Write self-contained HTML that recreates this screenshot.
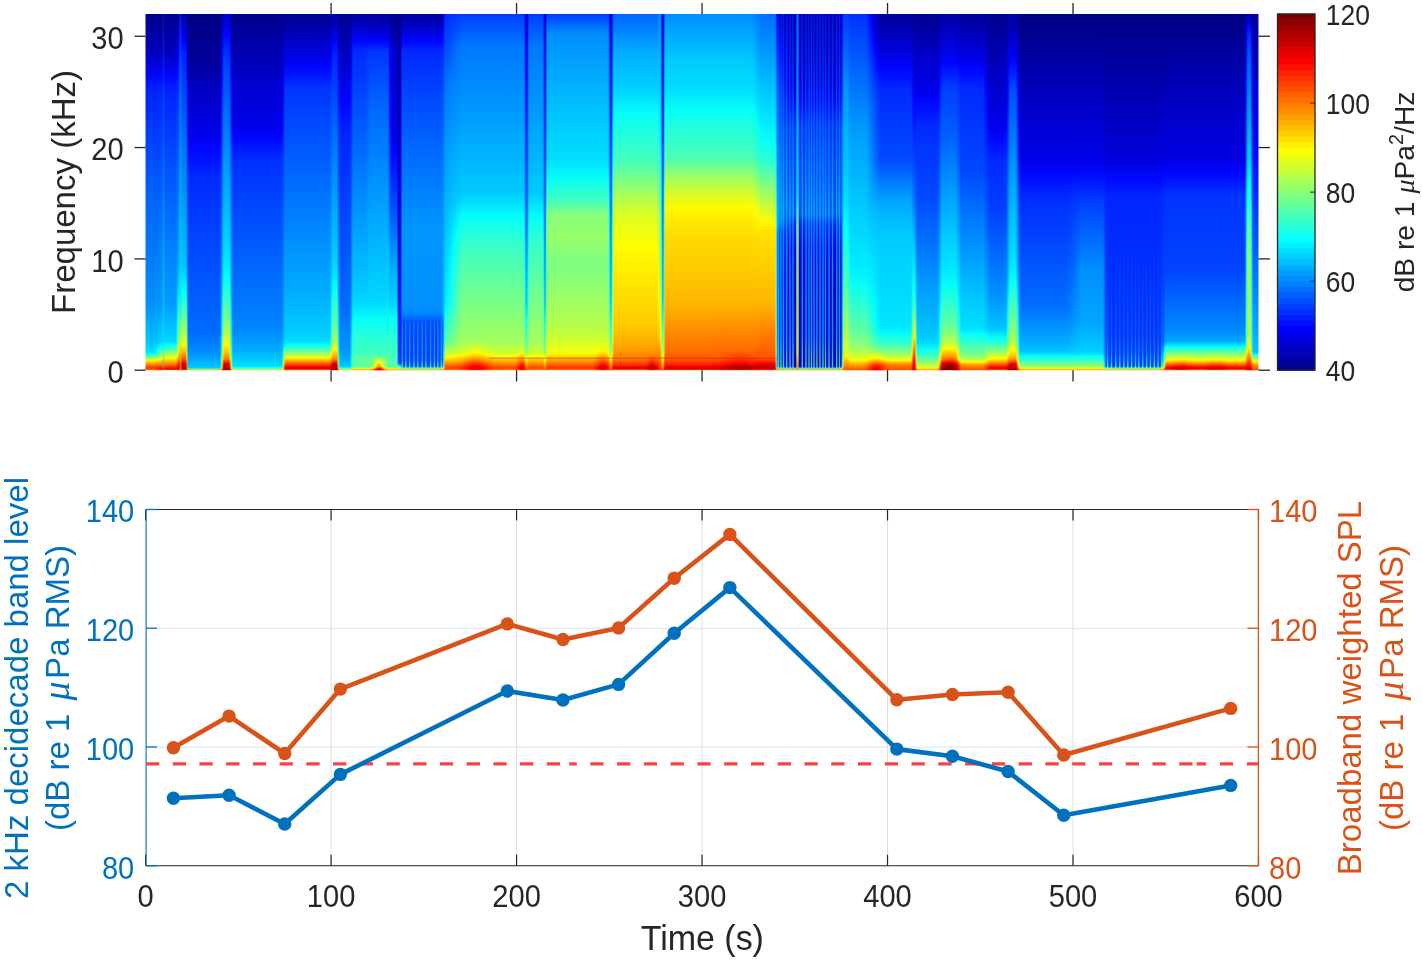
<!DOCTYPE html>
<html><head><meta charset="utf-8"><style>
html,body{margin:0;padding:0;background:#fff;}
body{width:1422px;height:960px;overflow:hidden;font-family:"Liberation Sans", sans-serif;}
svg{display:block;will-change:transform;}
</style></head><body>
<svg width="1422" height="960" viewBox="0 0 1422 960" font-family='"Liberation Sans", sans-serif'><defs><linearGradient id="g0" x1="0" y1="0" x2="0" y2="1"><stop offset="0.0000" stop-color="#00008c"/><stop offset="0.1096" stop-color="#0000be"/><stop offset="0.1770" stop-color="#0006ff"/><stop offset="0.2079" stop-color="#0020ff"/><stop offset="0.4860" stop-color="#0060ff"/><stop offset="0.8006" stop-color="#008cff"/><stop offset="0.9242" stop-color="#00c4ff"/><stop offset="0.9494" stop-color="#00e5ff"/><stop offset="0.9522" stop-color="#00fcff"/><stop offset="0.9635" stop-color="#6fff90"/><stop offset="0.9719" stop-color="#fcff03"/><stop offset="0.9916" stop-color="#ff4000"/><stop offset="0.9972" stop-color="#ff4100"/><stop offset="1.0000" stop-color="#ff8c00"/></linearGradient><linearGradient id="g1" x1="0" y1="0" x2="0" y2="1"><stop offset="0.0000" stop-color="#00008c"/><stop offset="0.1096" stop-color="#0000be"/><stop offset="0.1770" stop-color="#0006ff"/><stop offset="0.2079" stop-color="#0020ff"/><stop offset="0.5562" stop-color="#006aff"/><stop offset="0.8034" stop-color="#008fff"/><stop offset="0.9213" stop-color="#00c3ff"/><stop offset="0.9494" stop-color="#00f8ff"/><stop offset="0.9551" stop-color="#2affd5"/><stop offset="0.9635" stop-color="#7dff82"/><stop offset="0.9719" stop-color="#fffd00"/><stop offset="0.9916" stop-color="#ff3d00"/><stop offset="0.9972" stop-color="#ff3600"/><stop offset="1.0000" stop-color="#ff8c00"/></linearGradient><linearGradient id="g2" x1="0" y1="0" x2="0" y2="1"><stop offset="0.0000" stop-color="#00008c"/><stop offset="0.1096" stop-color="#0000be"/><stop offset="0.1770" stop-color="#0006ff"/><stop offset="0.2079" stop-color="#0020ff"/><stop offset="0.5590" stop-color="#006bff"/><stop offset="0.8062" stop-color="#0091ff"/><stop offset="0.9213" stop-color="#00c7ff"/><stop offset="0.9466" stop-color="#04fffb"/><stop offset="0.9494" stop-color="#0cfff3"/><stop offset="0.9635" stop-color="#8cff73"/><stop offset="0.9719" stop-color="#fff700"/><stop offset="0.9916" stop-color="#ff3a00"/><stop offset="0.9972" stop-color="#ff2b00"/><stop offset="1.0000" stop-color="#ff8c00"/></linearGradient><linearGradient id="g3" x1="0" y1="0" x2="0" y2="1"><stop offset="0.0000" stop-color="#00008c"/><stop offset="0.1096" stop-color="#0000be"/><stop offset="0.1770" stop-color="#0006ff"/><stop offset="0.2079" stop-color="#0020ff"/><stop offset="0.5618" stop-color="#006bff"/><stop offset="0.8062" stop-color="#0092ff"/><stop offset="0.9213" stop-color="#00cbff"/><stop offset="0.9410" stop-color="#01fffe"/><stop offset="0.9494" stop-color="#1fffe0"/><stop offset="0.9635" stop-color="#9bff64"/><stop offset="0.9691" stop-color="#e6ff19"/><stop offset="0.9719" stop-color="#fff200"/><stop offset="0.9916" stop-color="#ff3700"/><stop offset="0.9972" stop-color="#ff2000"/><stop offset="1.0000" stop-color="#ff8c00"/></linearGradient><linearGradient id="g4" x1="0" y1="0" x2="0" y2="1"><stop offset="0.0000" stop-color="#00008c"/><stop offset="0.1096" stop-color="#0000be"/><stop offset="0.1770" stop-color="#0006ff"/><stop offset="0.2079" stop-color="#0020ff"/><stop offset="0.5674" stop-color="#006cff"/><stop offset="0.8090" stop-color="#0095ff"/><stop offset="0.9213" stop-color="#00cfff"/><stop offset="0.9382" stop-color="#04fffb"/><stop offset="0.9494" stop-color="#32ffcd"/><stop offset="0.9635" stop-color="#aaff55"/><stop offset="0.9691" stop-color="#efff10"/><stop offset="0.9719" stop-color="#ffec00"/><stop offset="0.9944" stop-color="#ff1e00"/><stop offset="0.9972" stop-color="#ff1500"/><stop offset="1.0000" stop-color="#ff8c00"/></linearGradient><linearGradient id="g5" x1="0" y1="0" x2="0" y2="1"><stop offset="0.0000" stop-color="#00008c"/><stop offset="0.1096" stop-color="#0000be"/><stop offset="0.1770" stop-color="#0006ff"/><stop offset="0.2079" stop-color="#0020ff"/><stop offset="0.5730" stop-color="#006eff"/><stop offset="0.8118" stop-color="#0098ff"/><stop offset="0.9213" stop-color="#00d2ff"/><stop offset="0.9354" stop-color="#05fffa"/><stop offset="0.9494" stop-color="#45ffba"/><stop offset="0.9635" stop-color="#b9ff46"/><stop offset="0.9691" stop-color="#f7ff08"/><stop offset="0.9803" stop-color="#ff9d00"/><stop offset="0.9944" stop-color="#ff1700"/><stop offset="0.9972" stop-color="#ff0900"/><stop offset="1.0000" stop-color="#ff8c00"/></linearGradient><linearGradient id="g6" x1="0" y1="0" x2="0" y2="1"><stop offset="0.0000" stop-color="#00008c"/><stop offset="0.1096" stop-color="#0000be"/><stop offset="0.1770" stop-color="#0006ff"/><stop offset="0.2079" stop-color="#0020ff"/><stop offset="0.5787" stop-color="#006fff"/><stop offset="0.8146" stop-color="#009aff"/><stop offset="0.9213" stop-color="#00d6ff"/><stop offset="0.9326" stop-color="#04fffb"/><stop offset="0.9466" stop-color="#48ffb7"/><stop offset="0.9635" stop-color="#c8ff37"/><stop offset="0.9691" stop-color="#fffe00"/><stop offset="0.9916" stop-color="#ff2d00"/><stop offset="0.9944" stop-color="#ff0f00"/><stop offset="0.9972" stop-color="#fd0000"/><stop offset="1.0000" stop-color="#ff8c00"/></linearGradient><linearGradient id="g7" x1="0" y1="0" x2="0" y2="1"><stop offset="0.0000" stop-color="#00008c"/><stop offset="0.1096" stop-color="#0000be"/><stop offset="0.1770" stop-color="#0006ff"/><stop offset="0.2079" stop-color="#0020ff"/><stop offset="0.5815" stop-color="#0070ff"/><stop offset="0.8174" stop-color="#009dff"/><stop offset="0.9185" stop-color="#00d3ff"/><stop offset="0.9298" stop-color="#00ffff"/><stop offset="0.9438" stop-color="#46ffb9"/><stop offset="0.9635" stop-color="#d7ff28"/><stop offset="0.9691" stop-color="#fff600"/><stop offset="0.9888" stop-color="#ff4a00"/><stop offset="0.9944" stop-color="#ff0800"/><stop offset="0.9972" stop-color="#f20000"/><stop offset="1.0000" stop-color="#ff8c00"/></linearGradient><linearGradient id="g8" x1="0" y1="0" x2="0" y2="1"><stop offset="0.0000" stop-color="#00008c"/><stop offset="0.1096" stop-color="#0000be"/><stop offset="0.1770" stop-color="#0006ff"/><stop offset="0.2079" stop-color="#0020ff"/><stop offset="0.5562" stop-color="#006cff"/><stop offset="0.8146" stop-color="#009dff"/><stop offset="0.9185" stop-color="#00d6ff"/><stop offset="0.9298" stop-color="#08fff7"/><stop offset="0.9438" stop-color="#55ffaa"/><stop offset="0.9663" stop-color="#fbff04"/><stop offset="0.9860" stop-color="#ff6000"/><stop offset="0.9916" stop-color="#ff2700"/><stop offset="0.9944" stop-color="#ff0100"/><stop offset="0.9972" stop-color="#e70000"/><stop offset="1.0000" stop-color="#ff8c00"/></linearGradient><linearGradient id="g9" x1="0" y1="0" x2="0" y2="1"><stop offset="0.0000" stop-color="#000091"/><stop offset="0.1292" stop-color="#0000e8"/><stop offset="0.1629" stop-color="#0006ff"/><stop offset="0.2107" stop-color="#0029ff"/><stop offset="0.5702" stop-color="#007aff"/><stop offset="0.7360" stop-color="#009fff"/><stop offset="0.8202" stop-color="#00c7ff"/><stop offset="0.8961" stop-color="#05fffa"/><stop offset="0.9213" stop-color="#22ffdd"/><stop offset="0.9438" stop-color="#8dff72"/><stop offset="0.9607" stop-color="#fcff03"/><stop offset="0.9747" stop-color="#ff9a00"/><stop offset="0.9916" stop-color="#ff0f00"/><stop offset="0.9944" stop-color="#f20000"/><stop offset="0.9972" stop-color="#e20000"/><stop offset="1.0000" stop-color="#ff8200"/></linearGradient><linearGradient id="g10" x1="0" y1="0" x2="0" y2="1"><stop offset="0.0000" stop-color="#000096"/><stop offset="0.1348" stop-color="#0002ff"/><stop offset="0.2163" stop-color="#0034ff"/><stop offset="0.6096" stop-color="#008eff"/><stop offset="0.7191" stop-color="#00abff"/><stop offset="0.8146" stop-color="#00e7ff"/><stop offset="0.8455" stop-color="#08fff7"/><stop offset="0.9185" stop-color="#5effa1"/><stop offset="0.9438" stop-color="#c6ff39"/><stop offset="0.9551" stop-color="#fff900"/><stop offset="0.9719" stop-color="#ff8b00"/><stop offset="0.9860" stop-color="#ff1500"/><stop offset="0.9916" stop-color="#f70000"/><stop offset="0.9972" stop-color="#dc0000"/><stop offset="1.0000" stop-color="#ff7800"/></linearGradient><linearGradient id="g11" x1="0" y1="0" x2="0" y2="1"><stop offset="0.0000" stop-color="#00009b"/><stop offset="0.1011" stop-color="#0004ff"/><stop offset="0.2388" stop-color="#0044ff"/><stop offset="0.7107" stop-color="#00b7ff"/><stop offset="0.8090" stop-color="#06fff9"/><stop offset="0.9017" stop-color="#86ff79"/><stop offset="0.9213" stop-color="#a9ff56"/><stop offset="0.9438" stop-color="#feff01"/><stop offset="0.9607" stop-color="#ffab00"/><stop offset="0.9719" stop-color="#ff6500"/><stop offset="0.9831" stop-color="#ff0200"/><stop offset="0.9888" stop-color="#e80000"/><stop offset="0.9944" stop-color="#d60000"/><stop offset="0.9972" stop-color="#d70000"/><stop offset="1.0000" stop-color="#ff6e00"/></linearGradient><linearGradient id="g12" x1="0" y1="0" x2="0" y2="1"><stop offset="0.0000" stop-color="#0000a0"/><stop offset="0.0787" stop-color="#0003ff"/><stop offset="0.1096" stop-color="#0021ff"/><stop offset="0.3511" stop-color="#006eff"/><stop offset="0.7051" stop-color="#00c3ff"/><stop offset="0.7753" stop-color="#05fffa"/><stop offset="0.8146" stop-color="#32ffcd"/><stop offset="0.8961" stop-color="#b9ff46"/><stop offset="0.9242" stop-color="#f6ff09"/><stop offset="0.9326" stop-color="#ffed00"/><stop offset="0.9522" stop-color="#ffa900"/><stop offset="0.9691" stop-color="#ff5400"/><stop offset="0.9775" stop-color="#ff0c00"/><stop offset="0.9803" stop-color="#f20000"/><stop offset="0.9860" stop-color="#c80000"/><stop offset="0.9944" stop-color="#c80000"/><stop offset="0.9972" stop-color="#d20000"/><stop offset="1.0000" stop-color="#ff6400"/></linearGradient><linearGradient id="g13" x1="0" y1="0" x2="0" y2="1"><stop offset="0.0000" stop-color="#000096"/><stop offset="0.1096" stop-color="#0000f1"/><stop offset="0.1657" stop-color="#0009ff"/><stop offset="0.4888" stop-color="#006cff"/><stop offset="0.7135" stop-color="#00a1ff"/><stop offset="0.8146" stop-color="#00eaff"/><stop offset="0.8399" stop-color="#06fff9"/><stop offset="0.9017" stop-color="#53ffac"/><stop offset="0.9326" stop-color="#8bff74"/><stop offset="0.9551" stop-color="#caff35"/><stop offset="0.9691" stop-color="#ffff00"/><stop offset="0.9860" stop-color="#ff9b00"/><stop offset="0.9944" stop-color="#ff8f00"/><stop offset="0.9972" stop-color="#ff5600"/><stop offset="1.0000" stop-color="#ff7800"/></linearGradient><linearGradient id="g14" x1="0" y1="0" x2="0" y2="1"><stop offset="0.0000" stop-color="#000082"/><stop offset="0.1376" stop-color="#00009e"/><stop offset="0.2135" stop-color="#0000c4"/><stop offset="0.3315" stop-color="#0000e8"/><stop offset="0.3848" stop-color="#0008ff"/><stop offset="0.4607" stop-color="#002bff"/><stop offset="0.8961" stop-color="#006cff"/><stop offset="0.9466" stop-color="#008bff"/><stop offset="0.9916" stop-color="#00c5ff"/><stop offset="0.9944" stop-color="#00e2ff"/><stop offset="0.9972" stop-color="#a0ff5f"/><stop offset="1.0000" stop-color="#ffa000"/></linearGradient><linearGradient id="g15" x1="0" y1="0" x2="0" y2="1"><stop offset="0.0000" stop-color="#000082"/><stop offset="0.1376" stop-color="#00009e"/><stop offset="0.2135" stop-color="#0000c4"/><stop offset="0.3315" stop-color="#0000e8"/><stop offset="0.3848" stop-color="#0008ff"/><stop offset="0.4607" stop-color="#002bff"/><stop offset="0.8961" stop-color="#006cff"/><stop offset="0.9466" stop-color="#008bff"/><stop offset="0.9916" stop-color="#00c5ff"/><stop offset="0.9944" stop-color="#00e2ff"/><stop offset="0.9972" stop-color="#a0ff5f"/><stop offset="1.0000" stop-color="#ffa000"/></linearGradient><linearGradient id="g16" x1="0" y1="0" x2="0" y2="1"><stop offset="0.0000" stop-color="#00008e"/><stop offset="0.1489" stop-color="#0000bf"/><stop offset="0.2247" stop-color="#0000e0"/><stop offset="0.3399" stop-color="#0006ff"/><stop offset="0.4607" stop-color="#003fff"/><stop offset="0.8118" stop-color="#0081ff"/><stop offset="0.8961" stop-color="#00a3ff"/><stop offset="0.9494" stop-color="#00d5ff"/><stop offset="0.9719" stop-color="#00ffff"/><stop offset="0.9916" stop-color="#31ffce"/><stop offset="0.9944" stop-color="#4affb5"/><stop offset="0.9972" stop-color="#e9ff16"/><stop offset="1.0000" stop-color="#ff7600"/></linearGradient><linearGradient id="g17" x1="0" y1="0" x2="0" y2="1"><stop offset="0.0000" stop-color="#0000a5"/><stop offset="0.1208" stop-color="#0000e7"/><stop offset="0.1826" stop-color="#0007ff"/><stop offset="0.4129" stop-color="#0054ff"/><stop offset="0.7303" stop-color="#00a7ff"/><stop offset="0.8371" stop-color="#00e0ff"/><stop offset="0.8848" stop-color="#05fffa"/><stop offset="0.9466" stop-color="#5dffa2"/><stop offset="0.9691" stop-color="#96ff69"/><stop offset="0.9860" stop-color="#fbff04"/><stop offset="0.9916" stop-color="#fff800"/><stop offset="0.9944" stop-color="#ffe600"/><stop offset="1.0000" stop-color="#ff2100"/></linearGradient><linearGradient id="g18" x1="0" y1="0" x2="0" y2="1"><stop offset="0.0000" stop-color="#0000bc"/><stop offset="0.0787" stop-color="#0004ff"/><stop offset="0.1236" stop-color="#0020ff"/><stop offset="0.3006" stop-color="#005eff"/><stop offset="0.7135" stop-color="#00d5ff"/><stop offset="0.7865" stop-color="#07fff8"/><stop offset="0.8876" stop-color="#73ff8c"/><stop offset="0.9410" stop-color="#daff25"/><stop offset="0.9551" stop-color="#fffc00"/><stop offset="0.9691" stop-color="#ffca00"/><stop offset="0.9860" stop-color="#ff3000"/><stop offset="0.9944" stop-color="#ff1700"/><stop offset="0.9972" stop-color="#f00000"/><stop offset="1.0000" stop-color="#cb0000"/></linearGradient><linearGradient id="g19" x1="0" y1="0" x2="0" y2="1"><stop offset="0.0000" stop-color="#0000c8"/><stop offset="0.0590" stop-color="#0007ff"/><stop offset="0.1124" stop-color="#0037ff"/><stop offset="0.3202" stop-color="#007cff"/><stop offset="0.6489" stop-color="#00d7ff"/><stop offset="0.7163" stop-color="#00f3ff"/><stop offset="0.7472" stop-color="#0cfff3"/><stop offset="0.8146" stop-color="#47ffb8"/><stop offset="0.8876" stop-color="#a8ff57"/><stop offset="0.9298" stop-color="#fffc00"/><stop offset="0.9551" stop-color="#ffb400"/><stop offset="0.9691" stop-color="#ff7c00"/><stop offset="0.9803" stop-color="#fe0000"/><stop offset="0.9860" stop-color="#c50000"/><stop offset="1.0000" stop-color="#a00000"/></linearGradient><linearGradient id="g20" x1="0" y1="0" x2="0" y2="1"><stop offset="0.0000" stop-color="#0000be"/><stop offset="0.0758" stop-color="#0006ff"/><stop offset="0.1208" stop-color="#0025ff"/><stop offset="0.4494" stop-color="#008aff"/><stop offset="0.7163" stop-color="#00dbff"/><stop offset="0.7809" stop-color="#07fff8"/><stop offset="0.8624" stop-color="#57ffa8"/><stop offset="0.8989" stop-color="#8cff73"/><stop offset="0.9438" stop-color="#e7ff18"/><stop offset="0.9522" stop-color="#fdff02"/><stop offset="0.9691" stop-color="#ffc500"/><stop offset="0.9860" stop-color="#ff2b00"/><stop offset="0.9944" stop-color="#ff0600"/><stop offset="1.0000" stop-color="#e30000"/></linearGradient><linearGradient id="g21" x1="0" y1="0" x2="0" y2="1"><stop offset="0.0000" stop-color="#0000aa"/><stop offset="0.1180" stop-color="#0000f9"/><stop offset="0.3315" stop-color="#003cff"/><stop offset="0.4438" stop-color="#0067ff"/><stop offset="0.7275" stop-color="#00b0ff"/><stop offset="0.8287" stop-color="#00e7ff"/><stop offset="0.8708" stop-color="#08fff7"/><stop offset="0.9326" stop-color="#56ffa9"/><stop offset="0.9607" stop-color="#90ff6f"/><stop offset="0.9719" stop-color="#b4ff4b"/><stop offset="0.9831" stop-color="#fcff03"/><stop offset="0.9888" stop-color="#ffee00"/><stop offset="0.9916" stop-color="#ffd700"/><stop offset="1.0000" stop-color="#ff6a00"/></linearGradient><linearGradient id="g22" x1="0" y1="0" x2="0" y2="1"><stop offset="0.0000" stop-color="#000096"/><stop offset="0.1461" stop-color="#0000d7"/><stop offset="0.3146" stop-color="#0005ff"/><stop offset="0.4157" stop-color="#0040ff"/><stop offset="0.8090" stop-color="#0094ff"/><stop offset="0.9017" stop-color="#00c2ff"/><stop offset="0.9607" stop-color="#04fffb"/><stop offset="0.9775" stop-color="#2affd5"/><stop offset="0.9888" stop-color="#46ffb9"/><stop offset="0.9916" stop-color="#67ff98"/><stop offset="0.9972" stop-color="#d6ff29"/><stop offset="1.0000" stop-color="#fff000"/></linearGradient><linearGradient id="g23" x1="0" y1="0" x2="0" y2="1"><stop offset="0.0000" stop-color="#00008c"/><stop offset="0.2079" stop-color="#0000d3"/><stop offset="0.3090" stop-color="#0000e8"/><stop offset="0.3483" stop-color="#0006ff"/><stop offset="0.4129" stop-color="#0030ff"/><stop offset="0.8792" stop-color="#0084ff"/><stop offset="0.9466" stop-color="#00afff"/><stop offset="0.9888" stop-color="#00dfff"/><stop offset="0.9916" stop-color="#07fff8"/><stop offset="1.0000" stop-color="#caff35"/></linearGradient><linearGradient id="g24" x1="0" y1="0" x2="0" y2="1"><stop offset="0.0000" stop-color="#00008c"/><stop offset="0.2079" stop-color="#0000d3"/><stop offset="0.3090" stop-color="#0000e8"/><stop offset="0.3483" stop-color="#0006ff"/><stop offset="0.4129" stop-color="#0030ff"/><stop offset="0.8792" stop-color="#0084ff"/><stop offset="0.9466" stop-color="#00afff"/><stop offset="0.9888" stop-color="#00dfff"/><stop offset="0.9916" stop-color="#07fff8"/><stop offset="1.0000" stop-color="#caff35"/></linearGradient><linearGradient id="g25" x1="0" y1="0" x2="0" y2="1"><stop offset="0.0000" stop-color="#00008c"/><stop offset="0.2079" stop-color="#0000d3"/><stop offset="0.3090" stop-color="#0000e8"/><stop offset="0.3483" stop-color="#0006ff"/><stop offset="0.4129" stop-color="#0030ff"/><stop offset="0.8792" stop-color="#0084ff"/><stop offset="0.9466" stop-color="#00afff"/><stop offset="0.9888" stop-color="#00dfff"/><stop offset="0.9916" stop-color="#07fff8"/><stop offset="1.0000" stop-color="#caff35"/></linearGradient><linearGradient id="g26" x1="0" y1="0" x2="0" y2="1"><stop offset="0.0000" stop-color="#00008c"/><stop offset="0.2191" stop-color="#0000f5"/><stop offset="0.3090" stop-color="#0008ff"/><stop offset="0.4213" stop-color="#0041ff"/><stop offset="0.8848" stop-color="#009cff"/><stop offset="0.9242" stop-color="#00b7ff"/><stop offset="0.9522" stop-color="#00feff"/><stop offset="0.9831" stop-color="#76ff89"/><stop offset="0.9888" stop-color="#8eff71"/><stop offset="0.9916" stop-color="#b2ff4d"/><stop offset="0.9944" stop-color="#e7ff18"/><stop offset="0.9972" stop-color="#fcff03"/><stop offset="1.0000" stop-color="#fff500"/></linearGradient><linearGradient id="g27" x1="0" y1="0" x2="0" y2="1"><stop offset="0.0000" stop-color="#00008c"/><stop offset="0.1826" stop-color="#0006ff"/><stop offset="0.2360" stop-color="#0019ff"/><stop offset="0.3567" stop-color="#003aff"/><stop offset="0.6461" stop-color="#0081ff"/><stop offset="0.8848" stop-color="#00b1ff"/><stop offset="0.9213" stop-color="#00caff"/><stop offset="0.9382" stop-color="#04fffb"/><stop offset="0.9607" stop-color="#76ff89"/><stop offset="0.9803" stop-color="#fffe00"/><stop offset="0.9888" stop-color="#ffc200"/><stop offset="0.9944" stop-color="#ff7800"/><stop offset="0.9972" stop-color="#ff8e00"/><stop offset="1.0000" stop-color="#ffb600"/></linearGradient><linearGradient id="g28" x1="0" y1="0" x2="0" y2="1"><stop offset="0.0000" stop-color="#00008c"/><stop offset="0.1489" stop-color="#0004ff"/><stop offset="0.2079" stop-color="#0034ff"/><stop offset="0.7837" stop-color="#00adff"/><stop offset="0.8961" stop-color="#00cdff"/><stop offset="0.9213" stop-color="#00e2ff"/><stop offset="0.9270" stop-color="#00fcff"/><stop offset="0.9410" stop-color="#41ffbe"/><stop offset="0.9607" stop-color="#d2ff2d"/><stop offset="0.9635" stop-color="#f0ff0f"/><stop offset="0.9663" stop-color="#fff000"/><stop offset="0.9888" stop-color="#ff1400"/><stop offset="0.9916" stop-color="#f60000"/><stop offset="0.9944" stop-color="#d80000"/><stop offset="0.9972" stop-color="#ff1b00"/><stop offset="1.0000" stop-color="#ff7800"/></linearGradient><linearGradient id="g29" x1="0" y1="0" x2="0" y2="1"><stop offset="0.0000" stop-color="#00008c"/><stop offset="0.1489" stop-color="#0004ff"/><stop offset="0.2079" stop-color="#0034ff"/><stop offset="0.7837" stop-color="#00adff"/><stop offset="0.8961" stop-color="#00cdff"/><stop offset="0.9213" stop-color="#00e2ff"/><stop offset="0.9270" stop-color="#00fcff"/><stop offset="0.9410" stop-color="#41ffbe"/><stop offset="0.9607" stop-color="#d2ff2d"/><stop offset="0.9635" stop-color="#f0ff0f"/><stop offset="0.9663" stop-color="#fff000"/><stop offset="0.9888" stop-color="#ff1400"/><stop offset="0.9916" stop-color="#f60000"/><stop offset="0.9944" stop-color="#d80000"/><stop offset="0.9972" stop-color="#ff1b00"/><stop offset="1.0000" stop-color="#ff7800"/></linearGradient><linearGradient id="g30" x1="0" y1="0" x2="0" y2="1"><stop offset="0.0000" stop-color="#000093"/><stop offset="0.1264" stop-color="#0003ff"/><stop offset="0.2135" stop-color="#003cff"/><stop offset="0.7669" stop-color="#00c8ff"/><stop offset="0.8904" stop-color="#05fffa"/><stop offset="0.9213" stop-color="#2affd5"/><stop offset="0.9438" stop-color="#92ff6d"/><stop offset="0.9607" stop-color="#feff01"/><stop offset="0.9775" stop-color="#ff6000"/><stop offset="0.9860" stop-color="#ff0a00"/><stop offset="0.9916" stop-color="#dd0000"/><stop offset="0.9944" stop-color="#c70000"/><stop offset="0.9972" stop-color="#f10000"/><stop offset="1.0000" stop-color="#ff2d00"/></linearGradient><linearGradient id="g31" x1="0" y1="0" x2="0" y2="1"><stop offset="0.0000" stop-color="#000099"/><stop offset="0.0983" stop-color="#0005ff"/><stop offset="0.2219" stop-color="#0045ff"/><stop offset="0.7163" stop-color="#00caff"/><stop offset="0.8202" stop-color="#06fff9"/><stop offset="0.8876" stop-color="#3bffc4"/><stop offset="0.9213" stop-color="#70ff8f"/><stop offset="0.9494" stop-color="#eaff15"/><stop offset="0.9551" stop-color="#fff400"/><stop offset="0.9691" stop-color="#ff9900"/><stop offset="0.9831" stop-color="#fd0000"/><stop offset="0.9888" stop-color="#d40000"/><stop offset="0.9944" stop-color="#b60000"/><stop offset="1.0000" stop-color="#e10000"/></linearGradient><linearGradient id="g32" x1="0" y1="0" x2="0" y2="1"><stop offset="0.0000" stop-color="#0000a0"/><stop offset="0.0787" stop-color="#0003ff"/><stop offset="0.1096" stop-color="#0022ff"/><stop offset="0.3315" stop-color="#006cff"/><stop offset="0.7051" stop-color="#00d6ff"/><stop offset="0.7697" stop-color="#06fff9"/><stop offset="0.8848" stop-color="#70ff8f"/><stop offset="0.9213" stop-color="#b7ff48"/><stop offset="0.9410" stop-color="#fffe00"/><stop offset="0.9607" stop-color="#ffa700"/><stop offset="0.9691" stop-color="#ff7c00"/><stop offset="0.9803" stop-color="#f70000"/><stop offset="0.9860" stop-color="#bb0000"/><stop offset="1.0000" stop-color="#960000"/></linearGradient><linearGradient id="g33" x1="0" y1="0" x2="0" y2="1"><stop offset="0.0000" stop-color="#000098"/><stop offset="0.1124" stop-color="#0000fc"/><stop offset="0.3427" stop-color="#0051ff"/><stop offset="0.7219" stop-color="#00abff"/><stop offset="0.8455" stop-color="#00f1ff"/><stop offset="0.8792" stop-color="#0afff5"/><stop offset="0.9242" stop-color="#46ffb9"/><stop offset="0.9551" stop-color="#96ff69"/><stop offset="0.9691" stop-color="#c7ff38"/><stop offset="0.9775" stop-color="#fff900"/><stop offset="0.9860" stop-color="#ffbb00"/><stop offset="0.9888" stop-color="#ffb600"/><stop offset="0.9916" stop-color="#ff9f00"/><stop offset="1.0000" stop-color="#ff3600"/></linearGradient><linearGradient id="g34" x1="0" y1="0" x2="0" y2="1"><stop offset="0.0000" stop-color="#000090"/><stop offset="0.1545" stop-color="#0000e9"/><stop offset="0.2191" stop-color="#0008ff"/><stop offset="0.3287" stop-color="#0031ff"/><stop offset="0.7893" stop-color="#0086ff"/><stop offset="0.9185" stop-color="#00c6ff"/><stop offset="0.9551" stop-color="#00efff"/><stop offset="0.9663" stop-color="#07fff8"/><stop offset="0.9888" stop-color="#48ffb7"/><stop offset="0.9916" stop-color="#6dff92"/><stop offset="0.9972" stop-color="#eaff15"/><stop offset="1.0000" stop-color="#ffd500"/></linearGradient><linearGradient id="g35" x1="0" y1="0" x2="0" y2="1"><stop offset="0.0000" stop-color="#00008c"/><stop offset="0.2500" stop-color="#0006ff"/><stop offset="0.3287" stop-color="#0022ff"/><stop offset="0.8315" stop-color="#006eff"/><stop offset="0.9551" stop-color="#009cff"/><stop offset="0.9888" stop-color="#00c6ff"/><stop offset="0.9916" stop-color="#00f3ff"/><stop offset="0.9944" stop-color="#40ffbf"/><stop offset="1.0000" stop-color="#daff25"/></linearGradient><linearGradient id="g36" x1="0" y1="0" x2="0" y2="1"><stop offset="0.0000" stop-color="#00008f"/><stop offset="0.1152" stop-color="#0000e6"/><stop offset="0.1994" stop-color="#0008ff"/><stop offset="0.3455" stop-color="#0038ff"/><stop offset="0.8146" stop-color="#008fff"/><stop offset="0.9551" stop-color="#00d4ff"/><stop offset="0.9775" stop-color="#00f0ff"/><stop offset="0.9888" stop-color="#00f5ff"/><stop offset="0.9916" stop-color="#22ffdd"/><stop offset="0.9972" stop-color="#bcff43"/><stop offset="1.0000" stop-color="#fff500"/></linearGradient><linearGradient id="g37" x1="0" y1="0" x2="0" y2="1"><stop offset="0.0000" stop-color="#000093"/><stop offset="0.1011" stop-color="#0005ff"/><stop offset="0.5618" stop-color="#007eff"/><stop offset="0.8090" stop-color="#00b1ff"/><stop offset="0.9045" stop-color="#00f1ff"/><stop offset="0.9522" stop-color="#08fff7"/><stop offset="0.9719" stop-color="#29ffd6"/><stop offset="0.9888" stop-color="#25ffda"/><stop offset="0.9916" stop-color="#50ffaf"/><stop offset="0.9972" stop-color="#ebff14"/><stop offset="1.0000" stop-color="#ffc500"/></linearGradient><linearGradient id="g38" x1="0" y1="0" x2="0" y2="1"><stop offset="0.0000" stop-color="#000096"/><stop offset="0.0758" stop-color="#0005ff"/><stop offset="0.1039" stop-color="#0029ff"/><stop offset="0.3876" stop-color="#006bff"/><stop offset="0.7275" stop-color="#00bfff"/><stop offset="0.8090" stop-color="#00d6ff"/><stop offset="0.8567" stop-color="#05fffa"/><stop offset="0.9101" stop-color="#2bffd4"/><stop offset="0.9522" stop-color="#3fffc0"/><stop offset="0.9719" stop-color="#65ff9a"/><stop offset="0.9888" stop-color="#54ffab"/><stop offset="0.9916" stop-color="#7eff81"/><stop offset="0.9944" stop-color="#ccff33"/><stop offset="0.9972" stop-color="#ffe400"/><stop offset="1.0000" stop-color="#ff9600"/></linearGradient><linearGradient id="g39" x1="0" y1="0" x2="0" y2="1"><stop offset="0.0000" stop-color="#000096"/><stop offset="0.0758" stop-color="#0005ff"/><stop offset="0.1039" stop-color="#002dff"/><stop offset="0.7584" stop-color="#00c7ff"/><stop offset="0.8090" stop-color="#00d8ff"/><stop offset="0.8567" stop-color="#06fff9"/><stop offset="0.9129" stop-color="#2cffd3"/><stop offset="0.9522" stop-color="#3fffc0"/><stop offset="0.9719" stop-color="#65ff9a"/><stop offset="0.9888" stop-color="#54ffab"/><stop offset="0.9916" stop-color="#7eff81"/><stop offset="0.9944" stop-color="#ccff33"/><stop offset="0.9972" stop-color="#ffe400"/><stop offset="1.0000" stop-color="#ff9600"/></linearGradient><linearGradient id="g40" x1="0" y1="0" x2="0" y2="1"><stop offset="0.0000" stop-color="#000096"/><stop offset="0.0646" stop-color="#0000ef"/><stop offset="0.0787" stop-color="#0009ff"/><stop offset="0.1039" stop-color="#0031ff"/><stop offset="0.2669" stop-color="#0060ff"/><stop offset="0.8062" stop-color="#00d6ff"/><stop offset="0.8567" stop-color="#06fff9"/><stop offset="0.9185" stop-color="#2fffd0"/><stop offset="0.9522" stop-color="#3fffc0"/><stop offset="0.9719" stop-color="#66ff99"/><stop offset="0.9888" stop-color="#56ffa9"/><stop offset="0.9916" stop-color="#81ff7e"/><stop offset="0.9944" stop-color="#cfff30"/><stop offset="0.9972" stop-color="#ffe100"/><stop offset="1.0000" stop-color="#ff9300"/></linearGradient><linearGradient id="g41" x1="0" y1="0" x2="0" y2="1"><stop offset="0.0000" stop-color="#000096"/><stop offset="0.0590" stop-color="#0000e3"/><stop offset="0.0758" stop-color="#0004ff"/><stop offset="0.1039" stop-color="#0034ff"/><stop offset="0.2416" stop-color="#0062ff"/><stop offset="0.8062" stop-color="#00d8ff"/><stop offset="0.8567" stop-color="#06fff9"/><stop offset="0.9213" stop-color="#30ffcf"/><stop offset="0.9522" stop-color="#3fffc0"/><stop offset="0.9719" stop-color="#69ff96"/><stop offset="0.9888" stop-color="#5effa1"/><stop offset="0.9916" stop-color="#89ff76"/><stop offset="0.9944" stop-color="#d7ff28"/><stop offset="0.9972" stop-color="#ffd900"/><stop offset="1.0000" stop-color="#ff8b00"/></linearGradient><linearGradient id="g42" x1="0" y1="0" x2="0" y2="1"><stop offset="0.0000" stop-color="#000096"/><stop offset="0.0590" stop-color="#0000e3"/><stop offset="0.0758" stop-color="#0004ff"/><stop offset="0.1039" stop-color="#0034ff"/><stop offset="0.2416" stop-color="#0062ff"/><stop offset="0.8062" stop-color="#00d8ff"/><stop offset="0.8567" stop-color="#06fff9"/><stop offset="0.9213" stop-color="#30ffcf"/><stop offset="0.9522" stop-color="#3fffc0"/><stop offset="0.9719" stop-color="#6dff92"/><stop offset="0.9888" stop-color="#69ff96"/><stop offset="0.9916" stop-color="#94ff6b"/><stop offset="0.9944" stop-color="#e2ff1d"/><stop offset="0.9972" stop-color="#ffce00"/><stop offset="1.0000" stop-color="#ff8000"/></linearGradient><linearGradient id="g43" x1="0" y1="0" x2="0" y2="1"><stop offset="0.0000" stop-color="#000096"/><stop offset="0.0590" stop-color="#0000e3"/><stop offset="0.0758" stop-color="#0004ff"/><stop offset="0.1039" stop-color="#0034ff"/><stop offset="0.2416" stop-color="#0062ff"/><stop offset="0.8062" stop-color="#00d8ff"/><stop offset="0.8567" stop-color="#06fff9"/><stop offset="0.9213" stop-color="#30ffcf"/><stop offset="0.9522" stop-color="#3fffc0"/><stop offset="0.9719" stop-color="#74ff8b"/><stop offset="0.9888" stop-color="#7aff85"/><stop offset="0.9916" stop-color="#a6ff59"/><stop offset="0.9944" stop-color="#f4ff0b"/><stop offset="1.0000" stop-color="#ff6e00"/></linearGradient><linearGradient id="g44" x1="0" y1="0" x2="0" y2="1"><stop offset="0.0000" stop-color="#000096"/><stop offset="0.0590" stop-color="#0000e3"/><stop offset="0.0758" stop-color="#0004ff"/><stop offset="0.1039" stop-color="#0034ff"/><stop offset="0.2416" stop-color="#0062ff"/><stop offset="0.8062" stop-color="#00d8ff"/><stop offset="0.8567" stop-color="#06fff9"/><stop offset="0.9213" stop-color="#30ffcf"/><stop offset="0.9522" stop-color="#3fffc0"/><stop offset="0.9635" stop-color="#60ff9f"/><stop offset="0.9719" stop-color="#7fff80"/><stop offset="0.9888" stop-color="#93ff6c"/><stop offset="0.9916" stop-color="#c1ff3e"/><stop offset="0.9944" stop-color="#ffef00"/><stop offset="1.0000" stop-color="#ff5300"/></linearGradient><linearGradient id="g45" x1="0" y1="0" x2="0" y2="1"><stop offset="0.0000" stop-color="#000096"/><stop offset="0.0590" stop-color="#0000e3"/><stop offset="0.0758" stop-color="#0004ff"/><stop offset="0.1039" stop-color="#0034ff"/><stop offset="0.2416" stop-color="#0062ff"/><stop offset="0.8062" stop-color="#00d8ff"/><stop offset="0.8567" stop-color="#06fff9"/><stop offset="0.9213" stop-color="#30ffcf"/><stop offset="0.9522" stop-color="#3fffc0"/><stop offset="0.9607" stop-color="#54ffab"/><stop offset="0.9719" stop-color="#8eff71"/><stop offset="0.9888" stop-color="#b7ff48"/><stop offset="0.9916" stop-color="#e5ff1a"/><stop offset="0.9944" stop-color="#ffcb00"/><stop offset="1.0000" stop-color="#ff2f00"/></linearGradient><linearGradient id="g46" x1="0" y1="0" x2="0" y2="1"><stop offset="0.0000" stop-color="#000096"/><stop offset="0.0590" stop-color="#0000e3"/><stop offset="0.0758" stop-color="#0004ff"/><stop offset="0.1039" stop-color="#0034ff"/><stop offset="0.2416" stop-color="#0062ff"/><stop offset="0.8062" stop-color="#00d8ff"/><stop offset="0.8567" stop-color="#06fff9"/><stop offset="0.9213" stop-color="#30ffcf"/><stop offset="0.9522" stop-color="#3fffc0"/><stop offset="0.9607" stop-color="#55ffaa"/><stop offset="0.9719" stop-color="#9fff60"/><stop offset="0.9888" stop-color="#e2ff1d"/><stop offset="0.9916" stop-color="#ffec00"/><stop offset="1.0000" stop-color="#ff0200"/></linearGradient><linearGradient id="g47" x1="0" y1="0" x2="0" y2="1"><stop offset="0.0000" stop-color="#000096"/><stop offset="0.0590" stop-color="#0000e3"/><stop offset="0.0758" stop-color="#0004ff"/><stop offset="0.1039" stop-color="#0034ff"/><stop offset="0.2416" stop-color="#0062ff"/><stop offset="0.8062" stop-color="#00d8ff"/><stop offset="0.8567" stop-color="#06fff9"/><stop offset="0.9213" stop-color="#30ffcf"/><stop offset="0.9522" stop-color="#3fffc0"/><stop offset="0.9607" stop-color="#56ffa9"/><stop offset="0.9719" stop-color="#b2ff4d"/><stop offset="0.9860" stop-color="#fffe00"/><stop offset="0.9888" stop-color="#ffef00"/><stop offset="0.9916" stop-color="#ffbc00"/><stop offset="0.9972" stop-color="#ff2000"/><stop offset="1.0000" stop-color="#d10000"/></linearGradient><linearGradient id="g48" x1="0" y1="0" x2="0" y2="1"><stop offset="0.0000" stop-color="#000096"/><stop offset="0.0590" stop-color="#0000e3"/><stop offset="0.0758" stop-color="#0004ff"/><stop offset="0.1039" stop-color="#0034ff"/><stop offset="0.2416" stop-color="#0062ff"/><stop offset="0.8062" stop-color="#00d8ff"/><stop offset="0.8567" stop-color="#06fff9"/><stop offset="0.9213" stop-color="#30ffcf"/><stop offset="0.9522" stop-color="#3fffc0"/><stop offset="0.9607" stop-color="#57ffa8"/><stop offset="0.9719" stop-color="#c3ff3c"/><stop offset="0.9803" stop-color="#feff01"/><stop offset="0.9888" stop-color="#ffc500"/><stop offset="0.9916" stop-color="#ff9100"/><stop offset="0.9972" stop-color="#f40000"/><stop offset="1.0000" stop-color="#a60000"/></linearGradient><linearGradient id="g49" x1="0" y1="0" x2="0" y2="1"><stop offset="0.0000" stop-color="#000096"/><stop offset="0.0590" stop-color="#0000e3"/><stop offset="0.0758" stop-color="#0004ff"/><stop offset="0.1039" stop-color="#0034ff"/><stop offset="0.2416" stop-color="#0062ff"/><stop offset="0.8062" stop-color="#00d8ff"/><stop offset="0.8567" stop-color="#06fff9"/><stop offset="0.9213" stop-color="#30ffcf"/><stop offset="0.9522" stop-color="#3fffc0"/><stop offset="0.9607" stop-color="#58ffa7"/><stop offset="0.9719" stop-color="#d0ff2f"/><stop offset="0.9775" stop-color="#fcff03"/><stop offset="0.9888" stop-color="#ffa800"/><stop offset="0.9916" stop-color="#ff7200"/><stop offset="0.9944" stop-color="#ff2400"/><stop offset="0.9972" stop-color="#d50000"/><stop offset="1.0000" stop-color="#870000"/></linearGradient><linearGradient id="g50" x1="0" y1="0" x2="0" y2="1"><stop offset="0.0000" stop-color="#000096"/><stop offset="0.0590" stop-color="#0000e3"/><stop offset="0.0758" stop-color="#0004ff"/><stop offset="0.1039" stop-color="#0034ff"/><stop offset="0.2416" stop-color="#0062ff"/><stop offset="0.8062" stop-color="#00d8ff"/><stop offset="0.8567" stop-color="#06fff9"/><stop offset="0.9213" stop-color="#30ffcf"/><stop offset="0.9522" stop-color="#3fffc0"/><stop offset="0.9607" stop-color="#58ffa7"/><stop offset="0.9719" stop-color="#d4ff2b"/><stop offset="0.9775" stop-color="#fffb00"/><stop offset="0.9888" stop-color="#ff9d00"/><stop offset="0.9916" stop-color="#ff6700"/><stop offset="0.9944" stop-color="#ff1900"/><stop offset="0.9972" stop-color="#ca0000"/><stop offset="1.0000" stop-color="#800000"/></linearGradient><linearGradient id="g51" x1="0" y1="0" x2="0" y2="1"><stop offset="0.0000" stop-color="#000096"/><stop offset="0.0590" stop-color="#0000e3"/><stop offset="0.0758" stop-color="#0004ff"/><stop offset="0.1039" stop-color="#0034ff"/><stop offset="0.2416" stop-color="#0062ff"/><stop offset="0.8062" stop-color="#00d8ff"/><stop offset="0.8567" stop-color="#06fff9"/><stop offset="0.9213" stop-color="#30ffcf"/><stop offset="0.9522" stop-color="#3fffc0"/><stop offset="0.9607" stop-color="#58ffa7"/><stop offset="0.9719" stop-color="#d0ff2f"/><stop offset="0.9775" stop-color="#fcff03"/><stop offset="0.9888" stop-color="#ffa800"/><stop offset="0.9916" stop-color="#ff7200"/><stop offset="0.9944" stop-color="#ff2400"/><stop offset="0.9972" stop-color="#d50000"/><stop offset="1.0000" stop-color="#870000"/></linearGradient><linearGradient id="g52" x1="0" y1="0" x2="0" y2="1"><stop offset="0.0000" stop-color="#000096"/><stop offset="0.0590" stop-color="#0000e3"/><stop offset="0.0758" stop-color="#0004ff"/><stop offset="0.1039" stop-color="#0034ff"/><stop offset="0.2416" stop-color="#0062ff"/><stop offset="0.8062" stop-color="#00d8ff"/><stop offset="0.8567" stop-color="#06fff9"/><stop offset="0.9213" stop-color="#30ffcf"/><stop offset="0.9522" stop-color="#3fffc0"/><stop offset="0.9607" stop-color="#57ffa8"/><stop offset="0.9719" stop-color="#c3ff3c"/><stop offset="0.9803" stop-color="#feff01"/><stop offset="0.9888" stop-color="#ffc500"/><stop offset="0.9916" stop-color="#ff9100"/><stop offset="0.9972" stop-color="#f40000"/><stop offset="1.0000" stop-color="#a60000"/></linearGradient><linearGradient id="g53" x1="0" y1="0" x2="0" y2="1"><stop offset="0.0000" stop-color="#000096"/><stop offset="0.0590" stop-color="#0000e3"/><stop offset="0.0758" stop-color="#0004ff"/><stop offset="0.1039" stop-color="#0034ff"/><stop offset="0.2416" stop-color="#0062ff"/><stop offset="0.8062" stop-color="#00d8ff"/><stop offset="0.8567" stop-color="#06fff9"/><stop offset="0.9213" stop-color="#30ffcf"/><stop offset="0.9522" stop-color="#3fffc0"/><stop offset="0.9607" stop-color="#56ffa9"/><stop offset="0.9719" stop-color="#b2ff4d"/><stop offset="0.9860" stop-color="#fffe00"/><stop offset="0.9888" stop-color="#ffef00"/><stop offset="0.9916" stop-color="#ffbc00"/><stop offset="0.9972" stop-color="#ff2000"/><stop offset="1.0000" stop-color="#d10000"/></linearGradient><linearGradient id="g54" x1="0" y1="0" x2="0" y2="1"><stop offset="0.0000" stop-color="#000096"/><stop offset="0.0590" stop-color="#0000e3"/><stop offset="0.0758" stop-color="#0004ff"/><stop offset="0.1039" stop-color="#0034ff"/><stop offset="0.2416" stop-color="#0062ff"/><stop offset="0.8062" stop-color="#00d8ff"/><stop offset="0.8567" stop-color="#06fff9"/><stop offset="0.9213" stop-color="#30ffcf"/><stop offset="0.9522" stop-color="#3fffc0"/><stop offset="0.9607" stop-color="#55ffaa"/><stop offset="0.9719" stop-color="#9fff60"/><stop offset="0.9888" stop-color="#e2ff1d"/><stop offset="0.9916" stop-color="#ffec00"/><stop offset="1.0000" stop-color="#ff0200"/></linearGradient><linearGradient id="g55" x1="0" y1="0" x2="0" y2="1"><stop offset="0.0000" stop-color="#000096"/><stop offset="0.0590" stop-color="#0000e3"/><stop offset="0.0758" stop-color="#0004ff"/><stop offset="0.1039" stop-color="#0034ff"/><stop offset="0.2416" stop-color="#0062ff"/><stop offset="0.8062" stop-color="#00d8ff"/><stop offset="0.8567" stop-color="#06fff9"/><stop offset="0.9213" stop-color="#30ffcf"/><stop offset="0.9522" stop-color="#3fffc0"/><stop offset="0.9607" stop-color="#54ffab"/><stop offset="0.9719" stop-color="#8eff71"/><stop offset="0.9888" stop-color="#b7ff48"/><stop offset="0.9916" stop-color="#e5ff1a"/><stop offset="0.9944" stop-color="#ffcb00"/><stop offset="1.0000" stop-color="#ff2f00"/></linearGradient><linearGradient id="g56" x1="0" y1="0" x2="0" y2="1"><stop offset="0.0000" stop-color="#000096"/><stop offset="0.0590" stop-color="#0000e3"/><stop offset="0.0758" stop-color="#0004ff"/><stop offset="0.1039" stop-color="#0034ff"/><stop offset="0.2416" stop-color="#0062ff"/><stop offset="0.8062" stop-color="#00d8ff"/><stop offset="0.8567" stop-color="#06fff9"/><stop offset="0.9213" stop-color="#30ffcf"/><stop offset="0.9522" stop-color="#3fffc0"/><stop offset="0.9635" stop-color="#60ff9f"/><stop offset="0.9719" stop-color="#7fff80"/><stop offset="0.9888" stop-color="#93ff6c"/><stop offset="0.9916" stop-color="#c1ff3e"/><stop offset="0.9944" stop-color="#ffef00"/><stop offset="1.0000" stop-color="#ff5300"/></linearGradient><linearGradient id="g57" x1="0" y1="0" x2="0" y2="1"><stop offset="0.0000" stop-color="#000096"/><stop offset="0.0590" stop-color="#0000e3"/><stop offset="0.0758" stop-color="#0004ff"/><stop offset="0.1039" stop-color="#0034ff"/><stop offset="0.2416" stop-color="#0062ff"/><stop offset="0.8062" stop-color="#00d8ff"/><stop offset="0.8567" stop-color="#06fff9"/><stop offset="0.9213" stop-color="#30ffcf"/><stop offset="0.9522" stop-color="#3fffc0"/><stop offset="0.9719" stop-color="#74ff8b"/><stop offset="0.9888" stop-color="#7aff85"/><stop offset="0.9916" stop-color="#a6ff59"/><stop offset="0.9944" stop-color="#f4ff0b"/><stop offset="1.0000" stop-color="#ff6e00"/></linearGradient><linearGradient id="g58" x1="0" y1="0" x2="0" y2="1"><stop offset="0.0000" stop-color="#000096"/><stop offset="0.0590" stop-color="#0000e3"/><stop offset="0.0758" stop-color="#0004ff"/><stop offset="0.1039" stop-color="#0034ff"/><stop offset="0.2416" stop-color="#0062ff"/><stop offset="0.8062" stop-color="#00d8ff"/><stop offset="0.8567" stop-color="#06fff9"/><stop offset="0.9213" stop-color="#30ffcf"/><stop offset="0.9522" stop-color="#3fffc0"/><stop offset="0.9719" stop-color="#6dff92"/><stop offset="0.9888" stop-color="#69ff96"/><stop offset="0.9916" stop-color="#94ff6b"/><stop offset="0.9944" stop-color="#e2ff1d"/><stop offset="0.9972" stop-color="#ffce00"/><stop offset="1.0000" stop-color="#ff8000"/></linearGradient><linearGradient id="g59" x1="0" y1="0" x2="0" y2="1"><stop offset="0.0000" stop-color="#000096"/><stop offset="0.0590" stop-color="#0000e3"/><stop offset="0.0758" stop-color="#0004ff"/><stop offset="0.1039" stop-color="#0034ff"/><stop offset="0.2416" stop-color="#0062ff"/><stop offset="0.8062" stop-color="#00d8ff"/><stop offset="0.8567" stop-color="#06fff9"/><stop offset="0.9213" stop-color="#30ffcf"/><stop offset="0.9522" stop-color="#3fffc0"/><stop offset="0.9719" stop-color="#69ff96"/><stop offset="0.9888" stop-color="#5effa1"/><stop offset="0.9916" stop-color="#89ff76"/><stop offset="0.9944" stop-color="#d7ff28"/><stop offset="0.9972" stop-color="#ffd900"/><stop offset="1.0000" stop-color="#ff8b00"/></linearGradient><linearGradient id="g60" x1="0" y1="0" x2="0" y2="1"><stop offset="0.0000" stop-color="#000093"/><stop offset="0.0674" stop-color="#0000e2"/><stop offset="0.0899" stop-color="#0005ff"/><stop offset="0.1096" stop-color="#0017ff"/><stop offset="0.2893" stop-color="#003eff"/><stop offset="0.6320" stop-color="#00a1ff"/><stop offset="0.8090" stop-color="#00d7ff"/><stop offset="0.8567" stop-color="#05fffa"/><stop offset="0.9101" stop-color="#2affd5"/><stop offset="0.9551" stop-color="#42ffbd"/><stop offset="0.9719" stop-color="#5dffa2"/><stop offset="0.9888" stop-color="#58ffa7"/><stop offset="0.9916" stop-color="#83ff7c"/><stop offset="0.9944" stop-color="#d1ff2e"/><stop offset="0.9972" stop-color="#ffdf00"/><stop offset="1.0000" stop-color="#ff9100"/></linearGradient><linearGradient id="g61" x1="0" y1="0" x2="0" y2="1"><stop offset="0.0000" stop-color="#00008f"/><stop offset="0.1067" stop-color="#0000f6"/><stop offset="0.2697" stop-color="#000eff"/><stop offset="0.4747" stop-color="#004bff"/><stop offset="0.7360" stop-color="#00baff"/><stop offset="0.8090" stop-color="#00d4ff"/><stop offset="0.8567" stop-color="#05fffa"/><stop offset="0.9017" stop-color="#25ffda"/><stop offset="0.9579" stop-color="#43ffbc"/><stop offset="0.9803" stop-color="#52ffad"/><stop offset="0.9888" stop-color="#52ffad"/><stop offset="0.9916" stop-color="#7eff81"/><stop offset="0.9944" stop-color="#ccff33"/><stop offset="0.9972" stop-color="#ffe400"/><stop offset="1.0000" stop-color="#ff9600"/></linearGradient><linearGradient id="g62" x1="0" y1="0" x2="0" y2="1"><stop offset="0.0000" stop-color="#00008c"/><stop offset="0.1096" stop-color="#0000d7"/><stop offset="0.3174" stop-color="#0000e8"/><stop offset="0.3933" stop-color="#0007ff"/><stop offset="0.5393" stop-color="#004aff"/><stop offset="0.7219" stop-color="#00b1ff"/><stop offset="0.8090" stop-color="#00d1ff"/><stop offset="0.8596" stop-color="#06fff9"/><stop offset="0.8989" stop-color="#24ffdb"/><stop offset="0.9888" stop-color="#52ffad"/><stop offset="0.9916" stop-color="#7eff81"/><stop offset="0.9944" stop-color="#ccff33"/><stop offset="0.9972" stop-color="#ffe400"/><stop offset="1.0000" stop-color="#ff9600"/></linearGradient><linearGradient id="g63" x1="0" y1="0" x2="0" y2="1"><stop offset="0.0000" stop-color="#000085"/><stop offset="0.1348" stop-color="#0000ac"/><stop offset="0.3736" stop-color="#0000ce"/><stop offset="0.5787" stop-color="#0006ff"/><stop offset="0.8371" stop-color="#0057ff"/><stop offset="0.9775" stop-color="#0088ff"/><stop offset="0.9803" stop-color="#0090ff"/><stop offset="0.9860" stop-color="#00fcff"/><stop offset="0.9888" stop-color="#34ffcb"/><stop offset="0.9944" stop-color="#c8ff37"/><stop offset="0.9972" stop-color="#ffe600"/><stop offset="1.0000" stop-color="#ff9600"/></linearGradient><linearGradient id="g64" x1="0" y1="0" x2="0" y2="1"><stop offset="0.0000" stop-color="#000082"/><stop offset="0.6292" stop-color="#0000e2"/><stop offset="0.8146" stop-color="#0007ff"/><stop offset="0.9775" stop-color="#0028ff"/><stop offset="0.9803" stop-color="#0032ff"/><stop offset="0.9860" stop-color="#00d3ff"/><stop offset="0.9888" stop-color="#25ffda"/><stop offset="0.9944" stop-color="#c7ff38"/><stop offset="0.9972" stop-color="#ffe700"/><stop offset="1.0000" stop-color="#ff9600"/></linearGradient><linearGradient id="g65" x1="0" y1="0" x2="0" y2="1"><stop offset="0.0000" stop-color="#000089"/><stop offset="0.1152" stop-color="#0000c5"/><stop offset="0.4888" stop-color="#0006ff"/><stop offset="0.8427" stop-color="#0035ff"/><stop offset="0.8736" stop-color="#0023ff"/><stop offset="0.9775" stop-color="#0030ff"/><stop offset="0.9803" stop-color="#0038ff"/><stop offset="0.9888" stop-color="#00ddff"/><stop offset="0.9916" stop-color="#30ffcf"/><stop offset="0.9972" stop-color="#fffe00"/><stop offset="1.0000" stop-color="#ff9600"/></linearGradient><linearGradient id="g66" x1="0" y1="0" x2="0" y2="1"><stop offset="0.0000" stop-color="#000096"/><stop offset="0.0758" stop-color="#0005ff"/><stop offset="0.1039" stop-color="#0029ff"/><stop offset="0.3848" stop-color="#0069ff"/><stop offset="0.6011" stop-color="#0096ff"/><stop offset="0.8258" stop-color="#0090ff"/><stop offset="0.8427" stop-color="#0084ff"/><stop offset="0.8652" stop-color="#0046ff"/><stop offset="0.9579" stop-color="#0037ff"/><stop offset="0.9775" stop-color="#0040ff"/><stop offset="0.9888" stop-color="#004eff"/><stop offset="0.9916" stop-color="#00a4ff"/><stop offset="0.9944" stop-color="#3bffc4"/><stop offset="0.9972" stop-color="#d2ff2d"/><stop offset="1.0000" stop-color="#ff9600"/></linearGradient><linearGradient id="g67" x1="0" y1="0" x2="0" y2="1"><stop offset="0.0000" stop-color="#000096"/><stop offset="0.0758" stop-color="#0005ff"/><stop offset="0.1039" stop-color="#0029ff"/><stop offset="0.3848" stop-color="#0069ff"/><stop offset="0.6011" stop-color="#0096ff"/><stop offset="0.8258" stop-color="#0090ff"/><stop offset="0.8427" stop-color="#0084ff"/><stop offset="0.8652" stop-color="#0046ff"/><stop offset="0.9579" stop-color="#0037ff"/><stop offset="0.9775" stop-color="#0040ff"/><stop offset="0.9888" stop-color="#004eff"/><stop offset="0.9916" stop-color="#00a4ff"/><stop offset="0.9944" stop-color="#3bffc4"/><stop offset="0.9972" stop-color="#d2ff2d"/><stop offset="1.0000" stop-color="#ff9600"/></linearGradient><linearGradient id="g68" x1="0" y1="0" x2="0" y2="1"><stop offset="0.0000" stop-color="#0000b3"/><stop offset="0.0646" stop-color="#0004ff"/><stop offset="0.1067" stop-color="#0032ff"/><stop offset="0.5871" stop-color="#009bff"/><stop offset="0.8399" stop-color="#00a4ff"/><stop offset="0.8680" stop-color="#0071ff"/><stop offset="0.9298" stop-color="#0076ff"/><stop offset="0.9691" stop-color="#0098ff"/><stop offset="0.9888" stop-color="#00c5ff"/><stop offset="0.9916" stop-color="#0efff1"/><stop offset="0.9972" stop-color="#fbff04"/><stop offset="1.0000" stop-color="#ff9400"/></linearGradient><linearGradient id="g69" x1="0" y1="0" x2="0" y2="1"><stop offset="0.0000" stop-color="#0000ed"/><stop offset="0.0309" stop-color="#0007ff"/><stop offset="0.1124" stop-color="#0044ff"/><stop offset="0.2837" stop-color="#006fff"/><stop offset="0.6489" stop-color="#00b1ff"/><stop offset="0.8174" stop-color="#00c8ff"/><stop offset="0.8455" stop-color="#00d1ff"/><stop offset="0.8736" stop-color="#00caff"/><stop offset="0.9242" stop-color="#00e9ff"/><stop offset="0.9382" stop-color="#08fff7"/><stop offset="0.9635" stop-color="#44ffbb"/><stop offset="0.9888" stop-color="#b5ff4a"/><stop offset="0.9916" stop-color="#dfff20"/><stop offset="0.9944" stop-color="#ffda00"/><stop offset="1.0000" stop-color="#ff9000"/></linearGradient><linearGradient id="g70" x1="0" y1="0" x2="0" y2="1"><stop offset="0.0000" stop-color="#0029ff"/><stop offset="0.2275" stop-color="#007dff"/><stop offset="0.8062" stop-color="#00e6ff"/><stop offset="0.8399" stop-color="#08fff7"/><stop offset="0.9213" stop-color="#59ffa6"/><stop offset="0.9607" stop-color="#e4ff1b"/><stop offset="0.9635" stop-color="#f8ff07"/><stop offset="0.9775" stop-color="#ffa300"/><stop offset="0.9888" stop-color="#ff5b00"/><stop offset="0.9944" stop-color="#ff3f00"/><stop offset="0.9972" stop-color="#ff5f00"/><stop offset="1.0000" stop-color="#ff8c00"/></linearGradient><linearGradient id="g71" x1="0" y1="0" x2="0" y2="1"><stop offset="0.0000" stop-color="#002bff"/><stop offset="0.2219" stop-color="#007fff"/><stop offset="0.5787" stop-color="#00c3ff"/><stop offset="0.8090" stop-color="#00faff"/><stop offset="0.9213" stop-color="#63ff9c"/><stop offset="0.9607" stop-color="#e7ff18"/><stop offset="0.9635" stop-color="#faff05"/><stop offset="0.9888" stop-color="#ff5b00"/><stop offset="0.9944" stop-color="#ff3f00"/><stop offset="0.9972" stop-color="#ff5f00"/><stop offset="1.0000" stop-color="#ff8c00"/></linearGradient><linearGradient id="g72" x1="0" y1="0" x2="0" y2="1"><stop offset="0.0000" stop-color="#002dff"/><stop offset="0.1994" stop-color="#007eff"/><stop offset="0.5365" stop-color="#00bfff"/><stop offset="0.7753" stop-color="#02fcfd"/><stop offset="0.8118" stop-color="#0efff1"/><stop offset="0.9213" stop-color="#6cff93"/><stop offset="0.9579" stop-color="#deff21"/><stop offset="0.9635" stop-color="#fdff02"/><stop offset="0.9888" stop-color="#ff5b00"/><stop offset="0.9944" stop-color="#ff3f00"/><stop offset="0.9972" stop-color="#ff5f00"/><stop offset="1.0000" stop-color="#ff8c00"/></linearGradient><linearGradient id="g73" x1="0" y1="0" x2="0" y2="1"><stop offset="0.0000" stop-color="#0030ff"/><stop offset="0.1517" stop-color="#0072ff"/><stop offset="0.3230" stop-color="#0094ff"/><stop offset="0.5281" stop-color="#00c1ff"/><stop offset="0.6994" stop-color="#02fdfd"/><stop offset="0.8118" stop-color="#1effe1"/><stop offset="0.9213" stop-color="#75ff8a"/><stop offset="0.9551" stop-color="#d6ff29"/><stop offset="0.9635" stop-color="#fffe00"/><stop offset="0.9888" stop-color="#ff5a00"/><stop offset="0.9944" stop-color="#ff3e00"/><stop offset="0.9972" stop-color="#ff5d00"/><stop offset="1.0000" stop-color="#ff8a00"/></linearGradient><linearGradient id="g74" x1="0" y1="0" x2="0" y2="1"><stop offset="0.0000" stop-color="#0032ff"/><stop offset="0.1236" stop-color="#006eff"/><stop offset="0.2669" stop-color="#008dff"/><stop offset="0.5197" stop-color="#00c3ff"/><stop offset="0.6517" stop-color="#01fdfe"/><stop offset="0.8146" stop-color="#31ffce"/><stop offset="0.9213" stop-color="#7eff81"/><stop offset="0.9522" stop-color="#ceff31"/><stop offset="0.9635" stop-color="#fffa00"/><stop offset="0.9888" stop-color="#ff5800"/><stop offset="0.9944" stop-color="#ff3c00"/><stop offset="0.9972" stop-color="#ff5c00"/><stop offset="1.0000" stop-color="#ff8900"/></linearGradient><linearGradient id="g75" x1="0" y1="0" x2="0" y2="1"><stop offset="0.0000" stop-color="#0034ff"/><stop offset="0.1096" stop-color="#006eff"/><stop offset="0.2697" stop-color="#0090ff"/><stop offset="0.5140" stop-color="#00c5ff"/><stop offset="0.6236" stop-color="#02fefd"/><stop offset="0.8202" stop-color="#44ffbb"/><stop offset="0.9213" stop-color="#87ff78"/><stop offset="0.9522" stop-color="#d1ff2e"/><stop offset="0.9607" stop-color="#f7ff08"/><stop offset="0.9691" stop-color="#ffd600"/><stop offset="0.9888" stop-color="#ff5600"/><stop offset="0.9944" stop-color="#ff3a00"/><stop offset="0.9972" stop-color="#ff5a00"/><stop offset="1.0000" stop-color="#ff8600"/></linearGradient><linearGradient id="g76" x1="0" y1="0" x2="0" y2="1"><stop offset="0.0000" stop-color="#0037ff"/><stop offset="0.1011" stop-color="#0071ff"/><stop offset="0.2809" stop-color="#0094ff"/><stop offset="0.5112" stop-color="#00c8ff"/><stop offset="0.6039" stop-color="#06fff9"/><stop offset="0.7584" stop-color="#3effc1"/><stop offset="0.8483" stop-color="#63ff9c"/><stop offset="0.9242" stop-color="#96ff69"/><stop offset="0.9522" stop-color="#d5ff2a"/><stop offset="0.9607" stop-color="#fdff02"/><stop offset="0.9747" stop-color="#ffac00"/><stop offset="0.9888" stop-color="#ff5200"/><stop offset="0.9944" stop-color="#ff3600"/><stop offset="0.9972" stop-color="#ff5600"/><stop offset="1.0000" stop-color="#ff8200"/></linearGradient><linearGradient id="g77" x1="0" y1="0" x2="0" y2="1"><stop offset="0.0000" stop-color="#0039ff"/><stop offset="0.0955" stop-color="#0074ff"/><stop offset="0.2809" stop-color="#0096ff"/><stop offset="0.5084" stop-color="#00caff"/><stop offset="0.5871" stop-color="#06fff9"/><stop offset="0.7331" stop-color="#48ffb7"/><stop offset="0.8624" stop-color="#78ff87"/><stop offset="0.9242" stop-color="#9fff60"/><stop offset="0.9494" stop-color="#ceff31"/><stop offset="0.9607" stop-color="#fffa00"/><stop offset="0.9775" stop-color="#ff9400"/><stop offset="0.9916" stop-color="#ff3e00"/><stop offset="0.9944" stop-color="#ff3000"/><stop offset="0.9972" stop-color="#ff5000"/><stop offset="1.0000" stop-color="#ff7d00"/></linearGradient><linearGradient id="g78" x1="0" y1="0" x2="0" y2="1"><stop offset="0.0000" stop-color="#003bff"/><stop offset="0.0843" stop-color="#0074ff"/><stop offset="0.2640" stop-color="#0097ff"/><stop offset="0.5028" stop-color="#00c9ff"/><stop offset="0.5758" stop-color="#07fff8"/><stop offset="0.6938" stop-color="#4bffb4"/><stop offset="0.9045" stop-color="#98ff67"/><stop offset="0.9270" stop-color="#acff53"/><stop offset="0.9494" stop-color="#d3ff2c"/><stop offset="0.9579" stop-color="#fdff02"/><stop offset="0.9719" stop-color="#ffb400"/><stop offset="0.9888" stop-color="#ff4400"/><stop offset="0.9944" stop-color="#ff2700"/><stop offset="0.9972" stop-color="#ff4700"/><stop offset="1.0000" stop-color="#ff7400"/></linearGradient><linearGradient id="g79" x1="0" y1="0" x2="0" y2="1"><stop offset="0.0000" stop-color="#003cff"/><stop offset="0.0843" stop-color="#0075ff"/><stop offset="0.2669" stop-color="#0098ff"/><stop offset="0.5028" stop-color="#00caff"/><stop offset="0.5702" stop-color="#05fffa"/><stop offset="0.6517" stop-color="#39ffc6"/><stop offset="0.7584" stop-color="#64ff9b"/><stop offset="0.9213" stop-color="#a5ff5a"/><stop offset="0.9494" stop-color="#d8ff27"/><stop offset="0.9579" stop-color="#fffa00"/><stop offset="0.9747" stop-color="#ff9800"/><stop offset="0.9888" stop-color="#ff3900"/><stop offset="0.9944" stop-color="#ff1d00"/><stop offset="0.9972" stop-color="#ff3d00"/><stop offset="1.0000" stop-color="#ff6900"/></linearGradient><linearGradient id="g80" x1="0" y1="0" x2="0" y2="1"><stop offset="0.0000" stop-color="#003cff"/><stop offset="0.0843" stop-color="#0075ff"/><stop offset="0.2669" stop-color="#0098ff"/><stop offset="0.5028" stop-color="#00caff"/><stop offset="0.5702" stop-color="#05fffa"/><stop offset="0.6517" stop-color="#39ffc6"/><stop offset="0.7584" stop-color="#64ff9b"/><stop offset="0.9185" stop-color="#a2ff5d"/><stop offset="0.9494" stop-color="#deff21"/><stop offset="0.9551" stop-color="#fbff04"/><stop offset="0.9719" stop-color="#ffa200"/><stop offset="0.9888" stop-color="#ff2d00"/><stop offset="0.9944" stop-color="#ff1000"/><stop offset="0.9972" stop-color="#ff3000"/><stop offset="1.0000" stop-color="#ff5d00"/></linearGradient><linearGradient id="g81" x1="0" y1="0" x2="0" y2="1"><stop offset="0.0000" stop-color="#003cff"/><stop offset="0.0843" stop-color="#0075ff"/><stop offset="0.2669" stop-color="#0098ff"/><stop offset="0.5028" stop-color="#00caff"/><stop offset="0.5702" stop-color="#05fffa"/><stop offset="0.6517" stop-color="#39ffc6"/><stop offset="0.7584" stop-color="#64ff9b"/><stop offset="0.9185" stop-color="#a2ff5d"/><stop offset="0.9494" stop-color="#e4ff1b"/><stop offset="0.9551" stop-color="#fffc00"/><stop offset="0.9719" stop-color="#ff9700"/><stop offset="0.9888" stop-color="#ff1f00"/><stop offset="0.9944" stop-color="#fe0300"/><stop offset="0.9972" stop-color="#ff2100"/><stop offset="1.0000" stop-color="#ff4e00"/></linearGradient><linearGradient id="g82" x1="0" y1="0" x2="0" y2="1"><stop offset="0.0000" stop-color="#003cff"/><stop offset="0.0843" stop-color="#0075ff"/><stop offset="0.2669" stop-color="#0098ff"/><stop offset="0.5028" stop-color="#00caff"/><stop offset="0.5702" stop-color="#05fffa"/><stop offset="0.6517" stop-color="#39ffc6"/><stop offset="0.7584" stop-color="#64ff9b"/><stop offset="0.9185" stop-color="#a2ff5d"/><stop offset="0.9494" stop-color="#eaff15"/><stop offset="0.9551" stop-color="#fff500"/><stop offset="0.9719" stop-color="#ff8d00"/><stop offset="0.9888" stop-color="#ff1100"/><stop offset="0.9944" stop-color="#f20000"/><stop offset="0.9972" stop-color="#ff1300"/><stop offset="1.0000" stop-color="#ff4000"/></linearGradient><linearGradient id="g83" x1="0" y1="0" x2="0" y2="1"><stop offset="0.0000" stop-color="#003cff"/><stop offset="0.0843" stop-color="#0075ff"/><stop offset="0.2669" stop-color="#0098ff"/><stop offset="0.5028" stop-color="#00caff"/><stop offset="0.5702" stop-color="#05fffa"/><stop offset="0.6517" stop-color="#39ffc6"/><stop offset="0.7584" stop-color="#64ff9b"/><stop offset="0.9185" stop-color="#a2ff5d"/><stop offset="0.9494" stop-color="#efff10"/><stop offset="0.9522" stop-color="#feff01"/><stop offset="0.9719" stop-color="#ff8400"/><stop offset="0.9888" stop-color="#ff0400"/><stop offset="0.9944" stop-color="#e60000"/><stop offset="0.9972" stop-color="#ff0700"/><stop offset="1.0000" stop-color="#ff3300"/></linearGradient><linearGradient id="g84" x1="0" y1="0" x2="0" y2="1"><stop offset="0.0000" stop-color="#003cff"/><stop offset="0.0843" stop-color="#0075ff"/><stop offset="0.2669" stop-color="#0098ff"/><stop offset="0.5028" stop-color="#00caff"/><stop offset="0.5702" stop-color="#05fffa"/><stop offset="0.6517" stop-color="#39ffc6"/><stop offset="0.7584" stop-color="#64ff9b"/><stop offset="0.9185" stop-color="#a2ff5d"/><stop offset="0.9522" stop-color="#fffb00"/><stop offset="0.9719" stop-color="#ff7c00"/><stop offset="0.9860" stop-color="#ff0d00"/><stop offset="0.9888" stop-color="#fa0000"/><stop offset="0.9944" stop-color="#dc0000"/><stop offset="0.9972" stop-color="#fb0000"/><stop offset="1.0000" stop-color="#ff2a00"/></linearGradient><linearGradient id="g85" x1="0" y1="0" x2="0" y2="1"><stop offset="0.0000" stop-color="#003cff"/><stop offset="0.0843" stop-color="#0075ff"/><stop offset="0.2669" stop-color="#0098ff"/><stop offset="0.5028" stop-color="#00caff"/><stop offset="0.5702" stop-color="#05fffa"/><stop offset="0.6517" stop-color="#39ffc6"/><stop offset="0.7584" stop-color="#64ff9b"/><stop offset="0.9185" stop-color="#a2ff5d"/><stop offset="0.9494" stop-color="#ecff13"/><stop offset="0.9522" stop-color="#fbff04"/><stop offset="0.9719" stop-color="#ff8800"/><stop offset="0.9888" stop-color="#ff0a00"/><stop offset="0.9944" stop-color="#ec0000"/><stop offset="0.9972" stop-color="#ff0c00"/><stop offset="1.0000" stop-color="#ff3900"/></linearGradient><linearGradient id="g86" x1="0" y1="0" x2="0" y2="1"><stop offset="0.0000" stop-color="#003cff"/><stop offset="0.0843" stop-color="#0075ff"/><stop offset="0.2669" stop-color="#0098ff"/><stop offset="0.5028" stop-color="#00caff"/><stop offset="0.5702" stop-color="#05fffa"/><stop offset="0.6517" stop-color="#39ffc6"/><stop offset="0.7584" stop-color="#64ff9b"/><stop offset="0.9185" stop-color="#a2ff5d"/><stop offset="0.9494" stop-color="#e7ff18"/><stop offset="0.9551" stop-color="#fff800"/><stop offset="0.9719" stop-color="#ff9200"/><stop offset="0.9888" stop-color="#ff1700"/><stop offset="0.9944" stop-color="#f90000"/><stop offset="0.9972" stop-color="#ff1a00"/><stop offset="1.0000" stop-color="#ff4700"/></linearGradient><linearGradient id="g87" x1="0" y1="0" x2="0" y2="1"><stop offset="0.0000" stop-color="#003cff"/><stop offset="0.0843" stop-color="#0075ff"/><stop offset="0.2669" stop-color="#0098ff"/><stop offset="0.5028" stop-color="#00caff"/><stop offset="0.5702" stop-color="#05fffa"/><stop offset="0.6517" stop-color="#39ffc6"/><stop offset="0.7584" stop-color="#64ff9b"/><stop offset="0.9185" stop-color="#a2ff5d"/><stop offset="0.9494" stop-color="#e1ff1e"/><stop offset="0.9551" stop-color="#fefe01"/><stop offset="0.9719" stop-color="#ff9d00"/><stop offset="0.9888" stop-color="#ff2600"/><stop offset="0.9944" stop-color="#ff0900"/><stop offset="0.9972" stop-color="#ff2900"/><stop offset="1.0000" stop-color="#ff5500"/></linearGradient><linearGradient id="g88" x1="0" y1="0" x2="0" y2="1"><stop offset="0.0000" stop-color="#003cff"/><stop offset="0.0843" stop-color="#0075ff"/><stop offset="0.2669" stop-color="#0098ff"/><stop offset="0.5028" stop-color="#00caff"/><stop offset="0.5702" stop-color="#05fffa"/><stop offset="0.6517" stop-color="#39ffc6"/><stop offset="0.7584" stop-color="#64ff9b"/><stop offset="0.9185" stop-color="#a2ff5d"/><stop offset="0.9494" stop-color="#dbff24"/><stop offset="0.9579" stop-color="#fff700"/><stop offset="0.9747" stop-color="#ff9300"/><stop offset="0.9888" stop-color="#ff3300"/><stop offset="0.9944" stop-color="#ff1600"/><stop offset="0.9972" stop-color="#ff3600"/><stop offset="1.0000" stop-color="#ff6300"/></linearGradient><linearGradient id="g89" x1="0" y1="0" x2="0" y2="1"><stop offset="0.0000" stop-color="#003cff"/><stop offset="0.0843" stop-color="#0075ff"/><stop offset="0.2669" stop-color="#0098ff"/><stop offset="0.5028" stop-color="#00caff"/><stop offset="0.5702" stop-color="#05fffa"/><stop offset="0.6517" stop-color="#39ffc6"/><stop offset="0.7584" stop-color="#64ff9b"/><stop offset="0.9213" stop-color="#a5ff5a"/><stop offset="0.9494" stop-color="#d6ff29"/><stop offset="0.9579" stop-color="#fffe00"/><stop offset="0.9747" stop-color="#ff9c00"/><stop offset="0.9888" stop-color="#ff3f00"/><stop offset="0.9944" stop-color="#ff2200"/><stop offset="0.9972" stop-color="#ff4200"/><stop offset="1.0000" stop-color="#ff6f00"/></linearGradient><linearGradient id="g90" x1="0" y1="0" x2="0" y2="1"><stop offset="0.0000" stop-color="#003cff"/><stop offset="0.0843" stop-color="#0075ff"/><stop offset="0.2669" stop-color="#0098ff"/><stop offset="0.5028" stop-color="#00caff"/><stop offset="0.5702" stop-color="#05fffa"/><stop offset="0.6517" stop-color="#39ffc6"/><stop offset="0.7584" stop-color="#64ff9b"/><stop offset="0.9213" stop-color="#a5ff5a"/><stop offset="0.9494" stop-color="#d1ff2e"/><stop offset="0.9579" stop-color="#faff05"/><stop offset="0.9719" stop-color="#ffb800"/><stop offset="0.9888" stop-color="#ff4a00"/><stop offset="0.9944" stop-color="#ff2e00"/><stop offset="0.9972" stop-color="#ff4e00"/><stop offset="1.0000" stop-color="#ff7b00"/></linearGradient><linearGradient id="g91" x1="0" y1="0" x2="0" y2="1"><stop offset="0.0000" stop-color="#003cff"/><stop offset="0.0843" stop-color="#0075ff"/><stop offset="0.2669" stop-color="#0098ff"/><stop offset="0.5028" stop-color="#00caff"/><stop offset="0.5702" stop-color="#05fffa"/><stop offset="0.6517" stop-color="#39ffc6"/><stop offset="0.7584" stop-color="#64ff9b"/><stop offset="0.9213" stop-color="#a4ff5b"/><stop offset="0.9494" stop-color="#ccff33"/><stop offset="0.9607" stop-color="#fffd00"/><stop offset="0.9747" stop-color="#ffaf00"/><stop offset="0.9916" stop-color="#ff4800"/><stop offset="0.9944" stop-color="#ff3a00"/><stop offset="0.9972" stop-color="#ff5a00"/><stop offset="1.0000" stop-color="#ff8700"/></linearGradient><linearGradient id="g92" x1="0" y1="0" x2="0" y2="1"><stop offset="0.0000" stop-color="#003cff"/><stop offset="0.0843" stop-color="#0075ff"/><stop offset="0.2669" stop-color="#0098ff"/><stop offset="0.5028" stop-color="#00caff"/><stop offset="0.5702" stop-color="#05fffa"/><stop offset="0.6517" stop-color="#39ffc6"/><stop offset="0.7584" stop-color="#64ff9b"/><stop offset="0.9213" stop-color="#a4ff5b"/><stop offset="0.9494" stop-color="#caff35"/><stop offset="0.9607" stop-color="#ffff00"/><stop offset="0.9747" stop-color="#ffb200"/><stop offset="0.9916" stop-color="#ff4d00"/><stop offset="0.9944" stop-color="#ff3f00"/><stop offset="0.9972" stop-color="#ff5f00"/><stop offset="1.0000" stop-color="#ff8c00"/></linearGradient><linearGradient id="g93" x1="0" y1="0" x2="0" y2="1"><stop offset="0.0000" stop-color="#003cff"/><stop offset="0.0843" stop-color="#0075ff"/><stop offset="0.2669" stop-color="#0098ff"/><stop offset="0.5028" stop-color="#00caff"/><stop offset="0.5702" stop-color="#05fffa"/><stop offset="0.6517" stop-color="#39ffc6"/><stop offset="0.7584" stop-color="#64ff9b"/><stop offset="0.9213" stop-color="#a4ff5b"/><stop offset="0.9494" stop-color="#cdff32"/><stop offset="0.9607" stop-color="#fffa00"/><stop offset="0.9747" stop-color="#ffab00"/><stop offset="0.9916" stop-color="#ff4200"/><stop offset="0.9944" stop-color="#ff3400"/><stop offset="0.9972" stop-color="#ff5400"/><stop offset="1.0000" stop-color="#ff8100"/></linearGradient><linearGradient id="g94" x1="0" y1="0" x2="0" y2="1"><stop offset="0.0000" stop-color="#003cff"/><stop offset="0.0843" stop-color="#0075ff"/><stop offset="0.2669" stop-color="#0098ff"/><stop offset="0.5028" stop-color="#00caff"/><stop offset="0.5702" stop-color="#05fffa"/><stop offset="0.6517" stop-color="#39ffc6"/><stop offset="0.7584" stop-color="#64ff9b"/><stop offset="0.9213" stop-color="#a4ff5b"/><stop offset="0.9494" stop-color="#d1ff2e"/><stop offset="0.9579" stop-color="#fbff04"/><stop offset="0.9719" stop-color="#ffb600"/><stop offset="0.9888" stop-color="#ff4600"/><stop offset="0.9944" stop-color="#ff2a00"/><stop offset="0.9972" stop-color="#ff4a00"/><stop offset="1.0000" stop-color="#ff7700"/></linearGradient><linearGradient id="g95" x1="0" y1="0" x2="0" y2="1"><stop offset="0.0000" stop-color="#003cff"/><stop offset="0.0843" stop-color="#0075ff"/><stop offset="0.2669" stop-color="#0098ff"/><stop offset="0.5028" stop-color="#00caff"/><stop offset="0.5702" stop-color="#05fffa"/><stop offset="0.6517" stop-color="#39ffc6"/><stop offset="0.7584" stop-color="#64ff9b"/><stop offset="0.9213" stop-color="#a4ff5b"/><stop offset="0.9494" stop-color="#d6ff29"/><stop offset="0.9579" stop-color="#fffc00"/><stop offset="0.9747" stop-color="#ff9700"/><stop offset="0.9888" stop-color="#ff3600"/><stop offset="0.9944" stop-color="#ff1a00"/><stop offset="0.9972" stop-color="#ff3a00"/><stop offset="1.0000" stop-color="#ff6600"/></linearGradient><linearGradient id="g96" x1="0" y1="0" x2="0" y2="1"><stop offset="0.0000" stop-color="#003cff"/><stop offset="0.0843" stop-color="#0075ff"/><stop offset="0.2669" stop-color="#0098ff"/><stop offset="0.5028" stop-color="#00caff"/><stop offset="0.5702" stop-color="#05fffa"/><stop offset="0.6517" stop-color="#39ffc6"/><stop offset="0.7584" stop-color="#64ff9b"/><stop offset="0.9213" stop-color="#a4ff5b"/><stop offset="0.9494" stop-color="#ddff22"/><stop offset="0.9551" stop-color="#fbff04"/><stop offset="0.9719" stop-color="#ff9d00"/><stop offset="0.9888" stop-color="#ff2200"/><stop offset="0.9944" stop-color="#ff0500"/><stop offset="0.9972" stop-color="#ff2500"/><stop offset="1.0000" stop-color="#ff5200"/></linearGradient><linearGradient id="g97" x1="0" y1="0" x2="0" y2="1"><stop offset="0.0000" stop-color="#003cff"/><stop offset="0.0843" stop-color="#0075ff"/><stop offset="0.2669" stop-color="#0098ff"/><stop offset="0.5028" stop-color="#00caff"/><stop offset="0.5702" stop-color="#05fffa"/><stop offset="0.6517" stop-color="#39ffc6"/><stop offset="0.7584" stop-color="#64ff9b"/><stop offset="0.9213" stop-color="#a4ff5b"/><stop offset="0.9382" stop-color="#c6ff39"/><stop offset="0.9494" stop-color="#e3ff1c"/><stop offset="0.9551" stop-color="#fffa00"/><stop offset="0.9719" stop-color="#ff8e00"/><stop offset="0.9888" stop-color="#ff0d00"/><stop offset="0.9916" stop-color="#fd0000"/><stop offset="0.9944" stop-color="#ef0000"/><stop offset="0.9972" stop-color="#ff1000"/><stop offset="1.0000" stop-color="#ff3d00"/></linearGradient><linearGradient id="g98" x1="0" y1="0" x2="0" y2="1"><stop offset="0.0000" stop-color="#003cff"/><stop offset="0.0843" stop-color="#0075ff"/><stop offset="0.2669" stop-color="#0098ff"/><stop offset="0.5028" stop-color="#00caff"/><stop offset="0.5702" stop-color="#05fffa"/><stop offset="0.6517" stop-color="#39ffc6"/><stop offset="0.7584" stop-color="#64ff9b"/><stop offset="0.9213" stop-color="#a4ff5b"/><stop offset="0.9354" stop-color="#c0ff3f"/><stop offset="0.9494" stop-color="#e9ff16"/><stop offset="0.9522" stop-color="#faff05"/><stop offset="0.9719" stop-color="#ff8100"/><stop offset="0.9860" stop-color="#ff0e00"/><stop offset="0.9888" stop-color="#fa0000"/><stop offset="0.9944" stop-color="#dc0000"/><stop offset="0.9972" stop-color="#fc0000"/><stop offset="1.0000" stop-color="#ff2a00"/></linearGradient><linearGradient id="g99" x1="0" y1="0" x2="0" y2="1"><stop offset="0.0000" stop-color="#003cff"/><stop offset="0.0843" stop-color="#0075ff"/><stop offset="0.2669" stop-color="#0098ff"/><stop offset="0.5028" stop-color="#00caff"/><stop offset="0.5702" stop-color="#05fffa"/><stop offset="0.6517" stop-color="#39ffc6"/><stop offset="0.7584" stop-color="#64ff9b"/><stop offset="0.9213" stop-color="#a4ff5b"/><stop offset="0.9382" stop-color="#c6ff39"/><stop offset="0.9494" stop-color="#e3ff1c"/><stop offset="0.9551" stop-color="#fffa00"/><stop offset="0.9719" stop-color="#ff8e00"/><stop offset="0.9888" stop-color="#ff0d00"/><stop offset="0.9916" stop-color="#fd0000"/><stop offset="0.9944" stop-color="#ef0000"/><stop offset="0.9972" stop-color="#ff1000"/><stop offset="1.0000" stop-color="#ff3d00"/></linearGradient><linearGradient id="g100" x1="0" y1="0" x2="0" y2="1"><stop offset="0.0000" stop-color="#0006ff"/><stop offset="0.1124" stop-color="#003aff"/><stop offset="0.5056" stop-color="#0090ff"/><stop offset="0.6461" stop-color="#00e1ff"/><stop offset="0.7331" stop-color="#05fffa"/><stop offset="0.8146" stop-color="#25ffda"/><stop offset="0.9298" stop-color="#87ff78"/><stop offset="0.9494" stop-color="#b5ff4a"/><stop offset="0.9607" stop-color="#faff05"/><stop offset="0.9747" stop-color="#ffa600"/><stop offset="0.9916" stop-color="#ff3100"/><stop offset="0.9944" stop-color="#ff2200"/><stop offset="1.0000" stop-color="#ff4200"/></linearGradient><linearGradient id="g101" x1="0" y1="0" x2="0" y2="1"><stop offset="0.0000" stop-color="#0000cf"/><stop offset="0.1770" stop-color="#0003ff"/><stop offset="0.5309" stop-color="#005dff"/><stop offset="0.8062" stop-color="#00c9ff"/><stop offset="0.8567" stop-color="#06fff9"/><stop offset="0.9354" stop-color="#6aff95"/><stop offset="0.9494" stop-color="#86ff79"/><stop offset="0.9691" stop-color="#fffa00"/><stop offset="0.9944" stop-color="#ff5300"/><stop offset="1.0000" stop-color="#ff4600"/></linearGradient><linearGradient id="g102" x1="0" y1="0" x2="0" y2="1"><stop offset="0.0000" stop-color="#0000cf"/><stop offset="0.1770" stop-color="#0003ff"/><stop offset="0.5309" stop-color="#005dff"/><stop offset="0.8062" stop-color="#00c9ff"/><stop offset="0.8567" stop-color="#06fff9"/><stop offset="0.9410" stop-color="#72ff8d"/><stop offset="0.9494" stop-color="#81ff7e"/><stop offset="0.9691" stop-color="#f9ff06"/><stop offset="0.9944" stop-color="#ff6300"/><stop offset="1.0000" stop-color="#ff5700"/></linearGradient><linearGradient id="g103" x1="0" y1="0" x2="0" y2="1"><stop offset="0.0000" stop-color="#0006ff"/><stop offset="0.1124" stop-color="#003aff"/><stop offset="0.5056" stop-color="#0090ff"/><stop offset="0.6461" stop-color="#00e1ff"/><stop offset="0.7331" stop-color="#05fffa"/><stop offset="0.8146" stop-color="#25ffda"/><stop offset="0.9298" stop-color="#87ff78"/><stop offset="0.9494" stop-color="#a5ff5a"/><stop offset="0.9663" stop-color="#fffd00"/><stop offset="0.9944" stop-color="#ff5100"/><stop offset="1.0000" stop-color="#ff7100"/></linearGradient><linearGradient id="g104" x1="0" y1="0" x2="0" y2="1"><stop offset="0.0000" stop-color="#003cff"/><stop offset="0.0843" stop-color="#0075ff"/><stop offset="0.2669" stop-color="#0098ff"/><stop offset="0.5028" stop-color="#00caff"/><stop offset="0.5702" stop-color="#05fffa"/><stop offset="0.6517" stop-color="#39ffc6"/><stop offset="0.7584" stop-color="#64ff9b"/><stop offset="0.9213" stop-color="#a4ff5b"/><stop offset="0.9494" stop-color="#caff35"/><stop offset="0.9607" stop-color="#ffff00"/><stop offset="0.9747" stop-color="#ffb200"/><stop offset="0.9916" stop-color="#ff4d00"/><stop offset="0.9944" stop-color="#ff3f00"/><stop offset="0.9972" stop-color="#ff5f00"/><stop offset="1.0000" stop-color="#ff8c00"/></linearGradient><linearGradient id="g105" x1="0" y1="0" x2="0" y2="1"><stop offset="0.0000" stop-color="#0000f8"/><stop offset="0.0758" stop-color="#001cff"/><stop offset="0.5140" stop-color="#0085ff"/><stop offset="0.6657" stop-color="#00d4ff"/><stop offset="0.8034" stop-color="#07fff8"/><stop offset="0.9326" stop-color="#81ff7e"/><stop offset="0.9494" stop-color="#98ff67"/><stop offset="0.9691" stop-color="#fffc00"/><stop offset="0.9944" stop-color="#ff6300"/><stop offset="1.0000" stop-color="#ff7800"/></linearGradient><linearGradient id="g106" x1="0" y1="0" x2="0" y2="1"><stop offset="0.0000" stop-color="#0000b4"/><stop offset="0.3258" stop-color="#0006ff"/><stop offset="0.6208" stop-color="#005aff"/><stop offset="0.8034" stop-color="#009bff"/><stop offset="0.8792" stop-color="#05fffa"/><stop offset="0.9494" stop-color="#66ff99"/><stop offset="0.9747" stop-color="#ffff00"/><stop offset="1.0000" stop-color="#ff6400"/></linearGradient><linearGradient id="g107" x1="0" y1="0" x2="0" y2="1"><stop offset="0.0000" stop-color="#0000f8"/><stop offset="0.0421" stop-color="#001fff"/><stop offset="0.3258" stop-color="#0069ff"/><stop offset="0.4270" stop-color="#0085ff"/><stop offset="0.5309" stop-color="#00c5ff"/><stop offset="0.5702" stop-color="#00e8ff"/><stop offset="0.6461" stop-color="#00f8ff"/><stop offset="0.7500" stop-color="#08fff7"/><stop offset="0.8146" stop-color="#24ffdb"/><stop offset="0.9101" stop-color="#7eff81"/><stop offset="0.9494" stop-color="#acff53"/><stop offset="0.9663" stop-color="#fffc00"/><stop offset="0.9944" stop-color="#ff5900"/><stop offset="1.0000" stop-color="#ff7800"/></linearGradient><linearGradient id="g108" x1="0" y1="0" x2="0" y2="1"><stop offset="0.0000" stop-color="#003cff"/><stop offset="0.0534" stop-color="#008dff"/><stop offset="0.2949" stop-color="#00c7ff"/><stop offset="0.4101" stop-color="#00dfff"/><stop offset="0.4607" stop-color="#06fff9"/><stop offset="0.5253" stop-color="#43ffbc"/><stop offset="0.5618" stop-color="#85ff7a"/><stop offset="0.6292" stop-color="#95ff6a"/><stop offset="0.7079" stop-color="#7dff82"/><stop offset="0.8904" stop-color="#bbff44"/><stop offset="0.9494" stop-color="#f2ff0d"/><stop offset="0.9551" stop-color="#fff500"/><stop offset="0.9747" stop-color="#ff9800"/><stop offset="0.9944" stop-color="#ff2b00"/><stop offset="0.9972" stop-color="#ff5400"/><stop offset="1.0000" stop-color="#ff8c00"/></linearGradient><linearGradient id="g109" x1="0" y1="0" x2="0" y2="1"><stop offset="0.0000" stop-color="#003cff"/><stop offset="0.0534" stop-color="#008dff"/><stop offset="0.2949" stop-color="#00c7ff"/><stop offset="0.4101" stop-color="#00dfff"/><stop offset="0.4607" stop-color="#06fff9"/><stop offset="0.5253" stop-color="#43ffbc"/><stop offset="0.5618" stop-color="#85ff7a"/><stop offset="0.6292" stop-color="#95ff6a"/><stop offset="0.7079" stop-color="#7dff82"/><stop offset="0.8904" stop-color="#bbff44"/><stop offset="0.9494" stop-color="#f2ff0d"/><stop offset="0.9551" stop-color="#fff500"/><stop offset="0.9747" stop-color="#ff9700"/><stop offset="0.9944" stop-color="#ff2b00"/><stop offset="0.9972" stop-color="#ff5300"/><stop offset="1.0000" stop-color="#ff8b00"/></linearGradient><linearGradient id="g110" x1="0" y1="0" x2="0" y2="1"><stop offset="0.0000" stop-color="#003cff"/><stop offset="0.0534" stop-color="#008dff"/><stop offset="0.2949" stop-color="#00c7ff"/><stop offset="0.4101" stop-color="#00dfff"/><stop offset="0.4607" stop-color="#06fff9"/><stop offset="0.5253" stop-color="#43ffbc"/><stop offset="0.5618" stop-color="#85ff7a"/><stop offset="0.6292" stop-color="#95ff6a"/><stop offset="0.7079" stop-color="#7dff82"/><stop offset="0.8904" stop-color="#bbff44"/><stop offset="0.9494" stop-color="#f6ff09"/><stop offset="0.9551" stop-color="#fff000"/><stop offset="0.9747" stop-color="#ff8d00"/><stop offset="0.9944" stop-color="#ff1d00"/><stop offset="0.9972" stop-color="#ff4600"/><stop offset="1.0000" stop-color="#ff7e00"/></linearGradient><linearGradient id="g111" x1="0" y1="0" x2="0" y2="1"><stop offset="0.0000" stop-color="#003cff"/><stop offset="0.0534" stop-color="#008dff"/><stop offset="0.2949" stop-color="#00c7ff"/><stop offset="0.4101" stop-color="#00dfff"/><stop offset="0.4607" stop-color="#06fff9"/><stop offset="0.5253" stop-color="#43ffbc"/><stop offset="0.5618" stop-color="#85ff7a"/><stop offset="0.6292" stop-color="#95ff6a"/><stop offset="0.7079" stop-color="#7dff82"/><stop offset="0.8904" stop-color="#bbff44"/><stop offset="0.9438" stop-color="#f2ff0d"/><stop offset="0.9522" stop-color="#fff800"/><stop offset="0.9747" stop-color="#ff8400"/><stop offset="0.9944" stop-color="#ff1100"/><stop offset="0.9972" stop-color="#ff3a00"/><stop offset="1.0000" stop-color="#ff7200"/></linearGradient><linearGradient id="g112" x1="0" y1="0" x2="0" y2="1"><stop offset="0.0000" stop-color="#003cff"/><stop offset="0.0534" stop-color="#008dff"/><stop offset="0.2949" stop-color="#00c7ff"/><stop offset="0.4101" stop-color="#00dfff"/><stop offset="0.4607" stop-color="#06fff9"/><stop offset="0.5253" stop-color="#43ffbc"/><stop offset="0.5618" stop-color="#85ff7a"/><stop offset="0.6292" stop-color="#95ff6a"/><stop offset="0.7079" stop-color="#7dff82"/><stop offset="0.8904" stop-color="#bbff44"/><stop offset="0.9382" stop-color="#ecff13"/><stop offset="0.9494" stop-color="#feff01"/><stop offset="0.9719" stop-color="#ff8e00"/><stop offset="0.9916" stop-color="#ff1400"/><stop offset="0.9944" stop-color="#ff0600"/><stop offset="0.9972" stop-color="#ff2e00"/><stop offset="1.0000" stop-color="#ff6600"/></linearGradient><linearGradient id="g113" x1="0" y1="0" x2="0" y2="1"><stop offset="0.0000" stop-color="#003cff"/><stop offset="0.0534" stop-color="#008dff"/><stop offset="0.2949" stop-color="#00c7ff"/><stop offset="0.4101" stop-color="#00dfff"/><stop offset="0.4607" stop-color="#06fff9"/><stop offset="0.5253" stop-color="#43ffbc"/><stop offset="0.5618" stop-color="#85ff7a"/><stop offset="0.6292" stop-color="#95ff6a"/><stop offset="0.7079" stop-color="#7dff82"/><stop offset="0.8904" stop-color="#bbff44"/><stop offset="0.9354" stop-color="#e8ff17"/><stop offset="0.9494" stop-color="#fffc00"/><stop offset="0.9719" stop-color="#ff8500"/><stop offset="0.9916" stop-color="#ff0600"/><stop offset="0.9944" stop-color="#f70000"/><stop offset="0.9972" stop-color="#ff2100"/><stop offset="1.0000" stop-color="#ff5900"/></linearGradient><linearGradient id="g114" x1="0" y1="0" x2="0" y2="1"><stop offset="0.0000" stop-color="#003cff"/><stop offset="0.0534" stop-color="#008dff"/><stop offset="0.2949" stop-color="#00c7ff"/><stop offset="0.4101" stop-color="#00dfff"/><stop offset="0.4607" stop-color="#06fff9"/><stop offset="0.5253" stop-color="#43ffbc"/><stop offset="0.5618" stop-color="#85ff7a"/><stop offset="0.6292" stop-color="#95ff6a"/><stop offset="0.7079" stop-color="#7dff82"/><stop offset="0.8904" stop-color="#bbff44"/><stop offset="0.9354" stop-color="#eaff15"/><stop offset="0.9494" stop-color="#fff700"/><stop offset="0.9719" stop-color="#ff7b00"/><stop offset="0.9888" stop-color="#ff0700"/><stop offset="0.9944" stop-color="#e90000"/><stop offset="0.9972" stop-color="#ff1200"/><stop offset="1.0000" stop-color="#ff4b00"/></linearGradient><linearGradient id="g115" x1="0" y1="0" x2="0" y2="1"><stop offset="0.0000" stop-color="#003cff"/><stop offset="0.0534" stop-color="#008dff"/><stop offset="0.2949" stop-color="#00c7ff"/><stop offset="0.4101" stop-color="#00dfff"/><stop offset="0.4607" stop-color="#06fff9"/><stop offset="0.5253" stop-color="#43ffbc"/><stop offset="0.5618" stop-color="#85ff7a"/><stop offset="0.6292" stop-color="#95ff6a"/><stop offset="0.7079" stop-color="#7dff82"/><stop offset="0.8904" stop-color="#bbff44"/><stop offset="0.9326" stop-color="#e5ff1a"/><stop offset="0.9466" stop-color="#fff900"/><stop offset="0.9551" stop-color="#ffd400"/><stop offset="0.9747" stop-color="#ff5d00"/><stop offset="0.9860" stop-color="#ff0b00"/><stop offset="0.9916" stop-color="#e90000"/><stop offset="0.9944" stop-color="#db0000"/><stop offset="0.9972" stop-color="#ff0400"/><stop offset="1.0000" stop-color="#ff3d00"/></linearGradient><linearGradient id="g116" x1="0" y1="0" x2="0" y2="1"><stop offset="0.0000" stop-color="#003cff"/><stop offset="0.0534" stop-color="#008dff"/><stop offset="0.2949" stop-color="#00c7ff"/><stop offset="0.4101" stop-color="#00dfff"/><stop offset="0.4607" stop-color="#06fff9"/><stop offset="0.5253" stop-color="#43ffbc"/><stop offset="0.5618" stop-color="#85ff7a"/><stop offset="0.6292" stop-color="#95ff6a"/><stop offset="0.7079" stop-color="#7dff82"/><stop offset="0.8904" stop-color="#bbff44"/><stop offset="0.9326" stop-color="#e5ff1a"/><stop offset="0.9438" stop-color="#fffc00"/><stop offset="0.9522" stop-color="#ffde00"/><stop offset="0.9747" stop-color="#ff5100"/><stop offset="0.9860" stop-color="#fb0000"/><stop offset="0.9944" stop-color="#cb0000"/><stop offset="0.9972" stop-color="#f40000"/><stop offset="1.0000" stop-color="#ff2d00"/></linearGradient><linearGradient id="g117" x1="0" y1="0" x2="0" y2="1"><stop offset="0.0000" stop-color="#003cff"/><stop offset="0.0534" stop-color="#008dff"/><stop offset="0.2949" stop-color="#00c7ff"/><stop offset="0.4101" stop-color="#00dfff"/><stop offset="0.4607" stop-color="#06fff9"/><stop offset="0.5253" stop-color="#43ffbc"/><stop offset="0.5618" stop-color="#85ff7a"/><stop offset="0.6292" stop-color="#95ff6a"/><stop offset="0.7079" stop-color="#7dff82"/><stop offset="0.8904" stop-color="#bbff44"/><stop offset="0.9326" stop-color="#e5ff1a"/><stop offset="0.9438" stop-color="#fffa00"/><stop offset="0.9522" stop-color="#ffdc00"/><stop offset="0.9747" stop-color="#ff4d00"/><stop offset="0.9831" stop-color="#ff0c00"/><stop offset="0.9860" stop-color="#f60000"/><stop offset="0.9944" stop-color="#c60000"/><stop offset="0.9972" stop-color="#ee0000"/><stop offset="1.0000" stop-color="#ff2700"/></linearGradient><linearGradient id="g118" x1="0" y1="0" x2="0" y2="1"><stop offset="0.0000" stop-color="#003cff"/><stop offset="0.0534" stop-color="#008dff"/><stop offset="0.2949" stop-color="#00c7ff"/><stop offset="0.4101" stop-color="#00dfff"/><stop offset="0.4607" stop-color="#06fff9"/><stop offset="0.5253" stop-color="#43ffbc"/><stop offset="0.5618" stop-color="#85ff7a"/><stop offset="0.6292" stop-color="#95ff6a"/><stop offset="0.7079" stop-color="#7dff82"/><stop offset="0.8904" stop-color="#bbff44"/><stop offset="0.9326" stop-color="#e5ff1a"/><stop offset="0.9466" stop-color="#fff600"/><stop offset="0.9551" stop-color="#ffcf00"/><stop offset="0.9747" stop-color="#ff5400"/><stop offset="0.9860" stop-color="#ff0000"/><stop offset="0.9944" stop-color="#cf0000"/><stop offset="0.9972" stop-color="#f80000"/><stop offset="1.0000" stop-color="#ff3100"/></linearGradient><linearGradient id="g119" x1="0" y1="0" x2="0" y2="1"><stop offset="0.0000" stop-color="#003cff"/><stop offset="0.0534" stop-color="#008dff"/><stop offset="0.2949" stop-color="#00c7ff"/><stop offset="0.4101" stop-color="#00dfff"/><stop offset="0.4607" stop-color="#06fff9"/><stop offset="0.5253" stop-color="#43ffbc"/><stop offset="0.5618" stop-color="#85ff7a"/><stop offset="0.6292" stop-color="#95ff6a"/><stop offset="0.7079" stop-color="#7dff82"/><stop offset="0.8904" stop-color="#bbff44"/><stop offset="0.9326" stop-color="#e5ff1a"/><stop offset="0.9466" stop-color="#fff900"/><stop offset="0.9551" stop-color="#ffd400"/><stop offset="0.9747" stop-color="#ff5d00"/><stop offset="0.9860" stop-color="#ff0b00"/><stop offset="0.9916" stop-color="#e90000"/><stop offset="0.9944" stop-color="#db0000"/><stop offset="0.9972" stop-color="#ff0400"/><stop offset="1.0000" stop-color="#ff3d00"/></linearGradient><linearGradient id="g120" x1="0" y1="0" x2="0" y2="1"><stop offset="0.0000" stop-color="#003cff"/><stop offset="0.0534" stop-color="#008dff"/><stop offset="0.2949" stop-color="#00c7ff"/><stop offset="0.4101" stop-color="#00dfff"/><stop offset="0.4607" stop-color="#06fff9"/><stop offset="0.5253" stop-color="#43ffbc"/><stop offset="0.5618" stop-color="#85ff7a"/><stop offset="0.6292" stop-color="#95ff6a"/><stop offset="0.7079" stop-color="#7dff82"/><stop offset="0.8904" stop-color="#bbff44"/><stop offset="0.9354" stop-color="#eaff15"/><stop offset="0.9494" stop-color="#fff700"/><stop offset="0.9719" stop-color="#ff7b00"/><stop offset="0.9888" stop-color="#ff0700"/><stop offset="0.9944" stop-color="#e90000"/><stop offset="0.9972" stop-color="#ff1200"/><stop offset="1.0000" stop-color="#ff4b00"/></linearGradient><linearGradient id="g121" x1="0" y1="0" x2="0" y2="1"><stop offset="0.0000" stop-color="#003cff"/><stop offset="0.0534" stop-color="#008dff"/><stop offset="0.2949" stop-color="#00c7ff"/><stop offset="0.4101" stop-color="#00dfff"/><stop offset="0.4607" stop-color="#06fff9"/><stop offset="0.5253" stop-color="#43ffbc"/><stop offset="0.5618" stop-color="#85ff7a"/><stop offset="0.6292" stop-color="#95ff6a"/><stop offset="0.7079" stop-color="#7dff82"/><stop offset="0.8904" stop-color="#bbff44"/><stop offset="0.9354" stop-color="#e8ff17"/><stop offset="0.9494" stop-color="#fffc00"/><stop offset="0.9719" stop-color="#ff8500"/><stop offset="0.9916" stop-color="#ff0600"/><stop offset="0.9944" stop-color="#f70000"/><stop offset="0.9972" stop-color="#ff2100"/><stop offset="1.0000" stop-color="#ff5900"/></linearGradient><linearGradient id="g122" x1="0" y1="0" x2="0" y2="1"><stop offset="0.0000" stop-color="#0021ff"/><stop offset="0.0562" stop-color="#0065ff"/><stop offset="0.4129" stop-color="#00b9ff"/><stop offset="0.5197" stop-color="#06fff9"/><stop offset="0.5646" stop-color="#47ffb8"/><stop offset="0.6320" stop-color="#56ffa9"/><stop offset="0.7107" stop-color="#4affb5"/><stop offset="0.8399" stop-color="#7aff85"/><stop offset="0.8989" stop-color="#a2ff5d"/><stop offset="0.9410" stop-color="#d4ff2b"/><stop offset="0.9494" stop-color="#e2ff1d"/><stop offset="0.9551" stop-color="#feff01"/><stop offset="0.9747" stop-color="#ff9000"/><stop offset="0.9944" stop-color="#ff1800"/><stop offset="0.9972" stop-color="#ff3500"/><stop offset="1.0000" stop-color="#ff5e00"/></linearGradient><linearGradient id="g123" x1="0" y1="0" x2="0" y2="1"><stop offset="0.0000" stop-color="#0000ea"/><stop offset="0.0365" stop-color="#0008ff"/><stop offset="0.1180" stop-color="#0024ff"/><stop offset="0.4298" stop-color="#0072ff"/><stop offset="0.5337" stop-color="#00acff"/><stop offset="0.5758" stop-color="#00caff"/><stop offset="0.6601" stop-color="#00dbff"/><stop offset="0.7500" stop-color="#00edff"/><stop offset="0.8090" stop-color="#07fff8"/><stop offset="0.9213" stop-color="#7bff84"/><stop offset="0.9494" stop-color="#a6ff59"/><stop offset="0.9635" stop-color="#f6ff09"/><stop offset="0.9691" stop-color="#ffe700"/><stop offset="0.9944" stop-color="#ff4800"/><stop offset="1.0000" stop-color="#ff5a00"/></linearGradient><linearGradient id="g124" x1="0" y1="0" x2="0" y2="1"><stop offset="0.0000" stop-color="#0000b4"/><stop offset="0.3258" stop-color="#0006ff"/><stop offset="0.6208" stop-color="#005aff"/><stop offset="0.8034" stop-color="#009bff"/><stop offset="0.8792" stop-color="#05fffa"/><stop offset="0.9494" stop-color="#6bff94"/><stop offset="0.9719" stop-color="#f9ff06"/><stop offset="1.0000" stop-color="#ff5300"/></linearGradient><linearGradient id="g125" x1="0" y1="0" x2="0" y2="1"><stop offset="0.0000" stop-color="#0000fa"/><stop offset="0.2612" stop-color="#005dff"/><stop offset="0.4410" stop-color="#00a2ff"/><stop offset="0.5983" stop-color="#00f7ff"/><stop offset="0.7079" stop-color="#1bffe4"/><stop offset="0.8090" stop-color="#3cffc3"/><stop offset="0.9382" stop-color="#c0ff3f"/><stop offset="0.9522" stop-color="#dbff24"/><stop offset="0.9607" stop-color="#fffd00"/><stop offset="0.9803" stop-color="#ff9800"/><stop offset="0.9944" stop-color="#ff3600"/><stop offset="1.0000" stop-color="#ff6100"/></linearGradient><linearGradient id="g126" x1="0" y1="0" x2="0" y2="1"><stop offset="0.0000" stop-color="#0041ff"/><stop offset="0.1124" stop-color="#0082ff"/><stop offset="0.2191" stop-color="#00a7ff"/><stop offset="0.3258" stop-color="#00e5ff"/><stop offset="0.4073" stop-color="#06fff9"/><stop offset="0.5365" stop-color="#77ff88"/><stop offset="0.6067" stop-color="#a0ff5f"/><stop offset="0.8230" stop-color="#dbff24"/><stop offset="0.8989" stop-color="#fff800"/><stop offset="0.9494" stop-color="#ffc800"/><stop offset="0.9719" stop-color="#ff8b00"/><stop offset="0.9860" stop-color="#ff4000"/><stop offset="0.9916" stop-color="#ff0e00"/><stop offset="0.9944" stop-color="#f40000"/><stop offset="0.9972" stop-color="#ff2700"/><stop offset="1.0000" stop-color="#ff6e00"/></linearGradient><linearGradient id="g127" x1="0" y1="0" x2="0" y2="1"><stop offset="0.0000" stop-color="#0064ff"/><stop offset="0.1039" stop-color="#00abff"/><stop offset="0.2135" stop-color="#00d2ff"/><stop offset="0.2809" stop-color="#06fff9"/><stop offset="0.4129" stop-color="#46ffb9"/><stop offset="0.5309" stop-color="#beff41"/><stop offset="0.5674" stop-color="#deff21"/><stop offset="0.6573" stop-color="#fffd00"/><stop offset="0.8792" stop-color="#ffc800"/><stop offset="0.9354" stop-color="#ffa500"/><stop offset="0.9691" stop-color="#ff7900"/><stop offset="0.9860" stop-color="#ff2900"/><stop offset="0.9888" stop-color="#ff0e00"/><stop offset="0.9916" stop-color="#f20000"/><stop offset="0.9944" stop-color="#d80000"/><stop offset="0.9972" stop-color="#ff1b00"/><stop offset="1.0000" stop-color="#ff7800"/></linearGradient><linearGradient id="g128" x1="0" y1="0" x2="0" y2="1"><stop offset="0.0000" stop-color="#0064ff"/><stop offset="0.1039" stop-color="#00abff"/><stop offset="0.2135" stop-color="#00d2ff"/><stop offset="0.2809" stop-color="#06fff9"/><stop offset="0.4129" stop-color="#46ffb9"/><stop offset="0.5309" stop-color="#beff41"/><stop offset="0.5674" stop-color="#deff21"/><stop offset="0.6573" stop-color="#fffd00"/><stop offset="0.8792" stop-color="#ffc800"/><stop offset="0.9354" stop-color="#ffa500"/><stop offset="0.9691" stop-color="#ff7900"/><stop offset="0.9860" stop-color="#ff2800"/><stop offset="0.9888" stop-color="#ff0d00"/><stop offset="0.9916" stop-color="#f10000"/><stop offset="0.9944" stop-color="#d60000"/><stop offset="0.9972" stop-color="#ff1a00"/><stop offset="1.0000" stop-color="#ff7700"/></linearGradient><linearGradient id="g129" x1="0" y1="0" x2="0" y2="1"><stop offset="0.0000" stop-color="#0064ff"/><stop offset="0.1039" stop-color="#00abff"/><stop offset="0.2135" stop-color="#00d2ff"/><stop offset="0.2809" stop-color="#06fff9"/><stop offset="0.4129" stop-color="#46ffb9"/><stop offset="0.5309" stop-color="#beff41"/><stop offset="0.5674" stop-color="#deff21"/><stop offset="0.6573" stop-color="#fffd00"/><stop offset="0.8792" stop-color="#ffc800"/><stop offset="0.9354" stop-color="#ffa500"/><stop offset="0.9607" stop-color="#ff8200"/><stop offset="0.9719" stop-color="#ff6600"/><stop offset="0.9860" stop-color="#ff1a00"/><stop offset="0.9888" stop-color="#fe0000"/><stop offset="0.9944" stop-color="#c80000"/><stop offset="0.9972" stop-color="#ff0b00"/><stop offset="1.0000" stop-color="#ff6800"/></linearGradient><linearGradient id="g130" x1="0" y1="0" x2="0" y2="1"><stop offset="0.0000" stop-color="#0064ff"/><stop offset="0.1039" stop-color="#00abff"/><stop offset="0.2135" stop-color="#00d2ff"/><stop offset="0.2809" stop-color="#06fff9"/><stop offset="0.4129" stop-color="#46ffb9"/><stop offset="0.5309" stop-color="#beff41"/><stop offset="0.5674" stop-color="#deff21"/><stop offset="0.6573" stop-color="#fffd00"/><stop offset="0.8792" stop-color="#ffc800"/><stop offset="0.9354" stop-color="#ffa500"/><stop offset="0.9579" stop-color="#ff8500"/><stop offset="0.9719" stop-color="#ff6000"/><stop offset="0.9860" stop-color="#ff1000"/><stop offset="0.9888" stop-color="#f20000"/><stop offset="0.9944" stop-color="#bc0000"/><stop offset="0.9972" stop-color="#fe0000"/><stop offset="1.0000" stop-color="#ff5c00"/></linearGradient><linearGradient id="g131" x1="0" y1="0" x2="0" y2="1"><stop offset="0.0000" stop-color="#0064ff"/><stop offset="0.1039" stop-color="#00abff"/><stop offset="0.2135" stop-color="#00d2ff"/><stop offset="0.2809" stop-color="#06fff9"/><stop offset="0.4129" stop-color="#46ffb9"/><stop offset="0.5309" stop-color="#beff41"/><stop offset="0.5674" stop-color="#deff21"/><stop offset="0.6573" stop-color="#fffd00"/><stop offset="0.8792" stop-color="#ffc800"/><stop offset="0.9354" stop-color="#ffa500"/><stop offset="0.9551" stop-color="#ff8900"/><stop offset="0.9719" stop-color="#ff5700"/><stop offset="0.9860" stop-color="#ff0200"/><stop offset="0.9944" stop-color="#ac0000"/><stop offset="0.9972" stop-color="#ef0000"/><stop offset="1.0000" stop-color="#ff4c00"/></linearGradient><linearGradient id="g132" x1="0" y1="0" x2="0" y2="1"><stop offset="0.0000" stop-color="#0064ff"/><stop offset="0.1039" stop-color="#00abff"/><stop offset="0.2135" stop-color="#00d2ff"/><stop offset="0.2809" stop-color="#06fff9"/><stop offset="0.4129" stop-color="#46ffb9"/><stop offset="0.5309" stop-color="#beff41"/><stop offset="0.5674" stop-color="#deff21"/><stop offset="0.6573" stop-color="#fffd00"/><stop offset="0.8792" stop-color="#ffc800"/><stop offset="0.9354" stop-color="#ffa500"/><stop offset="0.9522" stop-color="#ff8f00"/><stop offset="0.9719" stop-color="#ff4e00"/><stop offset="0.9831" stop-color="#ff0900"/><stop offset="0.9860" stop-color="#f20000"/><stop offset="0.9944" stop-color="#9c0000"/><stop offset="0.9972" stop-color="#df0000"/><stop offset="1.0000" stop-color="#ff3c00"/></linearGradient><linearGradient id="g133" x1="0" y1="0" x2="0" y2="1"><stop offset="0.0000" stop-color="#0064ff"/><stop offset="0.1039" stop-color="#00abff"/><stop offset="0.2135" stop-color="#00d2ff"/><stop offset="0.2809" stop-color="#06fff9"/><stop offset="0.4129" stop-color="#46ffb9"/><stop offset="0.5309" stop-color="#beff41"/><stop offset="0.5674" stop-color="#deff21"/><stop offset="0.6573" stop-color="#fffd00"/><stop offset="0.8792" stop-color="#ffc800"/><stop offset="0.9354" stop-color="#ffa500"/><stop offset="0.9522" stop-color="#ff8e00"/><stop offset="0.9719" stop-color="#ff4700"/><stop offset="0.9831" stop-color="#fd0000"/><stop offset="0.9944" stop-color="#8e0000"/><stop offset="0.9972" stop-color="#d10000"/><stop offset="1.0000" stop-color="#ff2f00"/></linearGradient><linearGradient id="g134" x1="0" y1="0" x2="0" y2="1"><stop offset="0.0000" stop-color="#0064ff"/><stop offset="0.1039" stop-color="#00abff"/><stop offset="0.2135" stop-color="#00d2ff"/><stop offset="0.2809" stop-color="#06fff9"/><stop offset="0.4129" stop-color="#46ffb9"/><stop offset="0.5309" stop-color="#beff41"/><stop offset="0.5674" stop-color="#deff21"/><stop offset="0.6573" stop-color="#fffd00"/><stop offset="0.8792" stop-color="#ffc800"/><stop offset="0.9354" stop-color="#ffa500"/><stop offset="0.9522" stop-color="#ff8f00"/><stop offset="0.9719" stop-color="#ff4e00"/><stop offset="0.9831" stop-color="#ff0900"/><stop offset="0.9860" stop-color="#f20000"/><stop offset="0.9944" stop-color="#9c0000"/><stop offset="0.9972" stop-color="#df0000"/><stop offset="1.0000" stop-color="#ff3c00"/></linearGradient><linearGradient id="g135" x1="0" y1="0" x2="0" y2="1"><stop offset="0.0000" stop-color="#0064ff"/><stop offset="0.1039" stop-color="#00abff"/><stop offset="0.2135" stop-color="#00d2ff"/><stop offset="0.2809" stop-color="#06fff9"/><stop offset="0.4129" stop-color="#46ffb9"/><stop offset="0.5309" stop-color="#beff41"/><stop offset="0.5674" stop-color="#deff21"/><stop offset="0.6573" stop-color="#fffd00"/><stop offset="0.8792" stop-color="#ffc800"/><stop offset="0.9354" stop-color="#ffa500"/><stop offset="0.9551" stop-color="#ff8900"/><stop offset="0.9719" stop-color="#ff5700"/><stop offset="0.9860" stop-color="#ff0200"/><stop offset="0.9944" stop-color="#ac0000"/><stop offset="0.9972" stop-color="#ef0000"/><stop offset="1.0000" stop-color="#ff4c00"/></linearGradient><linearGradient id="g136" x1="0" y1="0" x2="0" y2="1"><stop offset="0.0000" stop-color="#0064ff"/><stop offset="0.1039" stop-color="#00abff"/><stop offset="0.2135" stop-color="#00d2ff"/><stop offset="0.2809" stop-color="#06fff9"/><stop offset="0.4129" stop-color="#46ffb9"/><stop offset="0.5309" stop-color="#beff41"/><stop offset="0.5674" stop-color="#deff21"/><stop offset="0.6573" stop-color="#fffd00"/><stop offset="0.8792" stop-color="#ffc800"/><stop offset="0.9354" stop-color="#ffa500"/><stop offset="0.9579" stop-color="#ff8500"/><stop offset="0.9719" stop-color="#ff6000"/><stop offset="0.9860" stop-color="#ff1000"/><stop offset="0.9888" stop-color="#f20000"/><stop offset="0.9944" stop-color="#bc0000"/><stop offset="0.9972" stop-color="#fe0000"/><stop offset="1.0000" stop-color="#ff5c00"/></linearGradient><linearGradient id="g137" x1="0" y1="0" x2="0" y2="1"><stop offset="0.0000" stop-color="#0064ff"/><stop offset="0.1039" stop-color="#00abff"/><stop offset="0.2135" stop-color="#00d2ff"/><stop offset="0.2809" stop-color="#06fff9"/><stop offset="0.4129" stop-color="#46ffb9"/><stop offset="0.5309" stop-color="#beff41"/><stop offset="0.5674" stop-color="#deff21"/><stop offset="0.6573" stop-color="#fffd00"/><stop offset="0.8792" stop-color="#ffc800"/><stop offset="0.9354" stop-color="#ffa500"/><stop offset="0.9607" stop-color="#ff8200"/><stop offset="0.9719" stop-color="#ff6600"/><stop offset="0.9860" stop-color="#ff1a00"/><stop offset="0.9888" stop-color="#fe0000"/><stop offset="0.9944" stop-color="#c80000"/><stop offset="0.9972" stop-color="#ff0b00"/><stop offset="1.0000" stop-color="#ff6800"/></linearGradient><linearGradient id="g138" x1="0" y1="0" x2="0" y2="1"><stop offset="0.0000" stop-color="#0072ff"/><stop offset="0.1180" stop-color="#00b1ff"/><stop offset="0.2219" stop-color="#00d6ff"/><stop offset="0.2978" stop-color="#06fff9"/><stop offset="0.4157" stop-color="#40ffbf"/><stop offset="0.5674" stop-color="#c5ff3a"/><stop offset="0.7135" stop-color="#fcff03"/><stop offset="0.8708" stop-color="#ffd600"/><stop offset="0.9213" stop-color="#ffb700"/><stop offset="0.9663" stop-color="#ff7800"/><stop offset="0.9831" stop-color="#ff3d00"/><stop offset="0.9916" stop-color="#ff0400"/><stop offset="0.9944" stop-color="#ef0000"/><stop offset="0.9972" stop-color="#ff1e00"/><stop offset="1.0000" stop-color="#ff5f00"/></linearGradient><linearGradient id="g139" x1="0" y1="0" x2="0" y2="1"><stop offset="0.0000" stop-color="#0081ff"/><stop offset="0.1517" stop-color="#00bcff"/><stop offset="0.2893" stop-color="#00f4ff"/><stop offset="0.3371" stop-color="#0dfff2"/><stop offset="0.4382" stop-color="#49ffb6"/><stop offset="0.5843" stop-color="#b5ff4a"/><stop offset="0.7949" stop-color="#fffe00"/><stop offset="0.9073" stop-color="#ffcc00"/><stop offset="0.9691" stop-color="#ff7300"/><stop offset="0.9888" stop-color="#ff3000"/><stop offset="0.9944" stop-color="#ff1300"/><stop offset="1.0000" stop-color="#ff5200"/></linearGradient><linearGradient id="g140" x1="0" y1="0" x2="0" y2="1"><stop offset="0.0000" stop-color="#008fff"/><stop offset="0.3230" stop-color="#00f9ff"/><stop offset="0.4747" stop-color="#56ffa9"/><stop offset="0.6320" stop-color="#b2ff4d"/><stop offset="0.8399" stop-color="#fff900"/><stop offset="0.9045" stop-color="#ffd900"/><stop offset="0.9831" stop-color="#ff5300"/><stop offset="0.9944" stop-color="#ff3500"/><stop offset="1.0000" stop-color="#ff4300"/></linearGradient><linearGradient id="g141" x1="0" y1="0" x2="0" y2="1"><stop offset="0.0000" stop-color="#0069ff"/><stop offset="0.3230" stop-color="#00c4ff"/><stop offset="0.4466" stop-color="#06fff9"/><stop offset="0.6685" stop-color="#74ff8b"/><stop offset="0.8371" stop-color="#c0ff3f"/><stop offset="0.9045" stop-color="#eeff11"/><stop offset="0.9213" stop-color="#fff400"/><stop offset="0.9579" stop-color="#ffb100"/><stop offset="1.0000" stop-color="#ff4400"/></linearGradient><linearGradient id="g142" x1="0" y1="0" x2="0" y2="1"><stop offset="0.0000" stop-color="#000fff"/><stop offset="0.3539" stop-color="#0071ff"/><stop offset="0.7247" stop-color="#04fffb"/><stop offset="0.8090" stop-color="#29ffd6"/><stop offset="0.9129" stop-color="#98ff67"/><stop offset="0.9522" stop-color="#d9ff26"/><stop offset="0.9607" stop-color="#feff01"/><stop offset="1.0000" stop-color="#ff5400"/></linearGradient><linearGradient id="g143" x1="0" y1="0" x2="0" y2="1"><stop offset="0.0000" stop-color="#0000b4"/><stop offset="0.3258" stop-color="#0006ff"/><stop offset="0.6208" stop-color="#005aff"/><stop offset="0.8034" stop-color="#009bff"/><stop offset="0.8792" stop-color="#05fffa"/><stop offset="0.9494" stop-color="#66ff99"/><stop offset="0.9747" stop-color="#ffff00"/><stop offset="1.0000" stop-color="#ff6400"/></linearGradient><linearGradient id="g144" x1="0" y1="0" x2="0" y2="1"><stop offset="0.0000" stop-color="#0021ff"/><stop offset="0.1517" stop-color="#0054ff"/><stop offset="0.2472" stop-color="#0075ff"/><stop offset="0.4101" stop-color="#00b8ff"/><stop offset="0.4944" stop-color="#00ffff"/><stop offset="0.5674" stop-color="#2effd1"/><stop offset="0.8062" stop-color="#72ff8d"/><stop offset="0.9522" stop-color="#fffb00"/><stop offset="0.9747" stop-color="#ffa300"/><stop offset="0.9888" stop-color="#ff5400"/><stop offset="0.9944" stop-color="#ff2a00"/><stop offset="1.0000" stop-color="#ff5a00"/></linearGradient><linearGradient id="g145" x1="0" y1="0" x2="0" y2="1"><stop offset="0.0000" stop-color="#008cff"/><stop offset="0.1208" stop-color="#00c7ff"/><stop offset="0.2135" stop-color="#00e0ff"/><stop offset="0.2669" stop-color="#07fff8"/><stop offset="0.3427" stop-color="#2effd1"/><stop offset="0.4045" stop-color="#4bffb4"/><stop offset="0.4663" stop-color="#acff53"/><stop offset="0.5421" stop-color="#fff900"/><stop offset="0.6067" stop-color="#ffe000"/><stop offset="0.8146" stop-color="#ffb500"/><stop offset="0.9466" stop-color="#ff6f00"/><stop offset="0.9719" stop-color="#ff5200"/><stop offset="0.9860" stop-color="#ff1600"/><stop offset="0.9888" stop-color="#fd0000"/><stop offset="0.9944" stop-color="#cd0000"/><stop offset="0.9972" stop-color="#ff0400"/><stop offset="1.0000" stop-color="#ff5000"/></linearGradient><linearGradient id="g146" x1="0" y1="0" x2="0" y2="1"><stop offset="0.0000" stop-color="#008cff"/><stop offset="0.1208" stop-color="#00c7ff"/><stop offset="0.2135" stop-color="#00e0ff"/><stop offset="0.2669" stop-color="#07fff8"/><stop offset="0.3427" stop-color="#2effd1"/><stop offset="0.4045" stop-color="#4bffb4"/><stop offset="0.4663" stop-color="#acff53"/><stop offset="0.5421" stop-color="#fff900"/><stop offset="0.6067" stop-color="#ffe000"/><stop offset="0.8146" stop-color="#ffb500"/><stop offset="0.9466" stop-color="#ff6f00"/><stop offset="0.9719" stop-color="#ff5200"/><stop offset="0.9860" stop-color="#ff1500"/><stop offset="0.9888" stop-color="#fd0000"/><stop offset="0.9944" stop-color="#cd0000"/><stop offset="0.9972" stop-color="#ff0400"/><stop offset="1.0000" stop-color="#ff4f00"/></linearGradient><linearGradient id="g147" x1="0" y1="0" x2="0" y2="1"><stop offset="0.0000" stop-color="#008cff"/><stop offset="0.1208" stop-color="#00c7ff"/><stop offset="0.2135" stop-color="#00e0ff"/><stop offset="0.2669" stop-color="#07fff8"/><stop offset="0.3427" stop-color="#2effd1"/><stop offset="0.4045" stop-color="#4bffb4"/><stop offset="0.4663" stop-color="#acff53"/><stop offset="0.5421" stop-color="#fff900"/><stop offset="0.6067" stop-color="#ffe000"/><stop offset="0.8146" stop-color="#ffb500"/><stop offset="0.9579" stop-color="#ff6300"/><stop offset="0.9719" stop-color="#ff4d00"/><stop offset="0.9860" stop-color="#ff0f00"/><stop offset="0.9888" stop-color="#f50000"/><stop offset="0.9944" stop-color="#c50000"/><stop offset="0.9972" stop-color="#fb0000"/><stop offset="1.0000" stop-color="#ff4800"/></linearGradient><linearGradient id="g148" x1="0" y1="0" x2="0" y2="1"><stop offset="0.0000" stop-color="#008cff"/><stop offset="0.1208" stop-color="#00c7ff"/><stop offset="0.2135" stop-color="#00e0ff"/><stop offset="0.2669" stop-color="#07fff8"/><stop offset="0.3427" stop-color="#2effd1"/><stop offset="0.4045" stop-color="#4bffb4"/><stop offset="0.4663" stop-color="#acff53"/><stop offset="0.5421" stop-color="#fff900"/><stop offset="0.6067" stop-color="#ffe000"/><stop offset="0.8146" stop-color="#ffb500"/><stop offset="0.9551" stop-color="#ff6300"/><stop offset="0.9719" stop-color="#ff4600"/><stop offset="0.9860" stop-color="#ff0400"/><stop offset="0.9944" stop-color="#ba0000"/><stop offset="0.9972" stop-color="#f00000"/><stop offset="1.0000" stop-color="#ff3d00"/></linearGradient><linearGradient id="g149" x1="0" y1="0" x2="0" y2="1"><stop offset="0.0000" stop-color="#008cff"/><stop offset="0.1208" stop-color="#00c7ff"/><stop offset="0.2135" stop-color="#00e0ff"/><stop offset="0.2669" stop-color="#07fff8"/><stop offset="0.3427" stop-color="#2effd1"/><stop offset="0.4045" stop-color="#4bffb4"/><stop offset="0.4663" stop-color="#acff53"/><stop offset="0.5421" stop-color="#fff900"/><stop offset="0.6067" stop-color="#ffe000"/><stop offset="0.8146" stop-color="#ffb500"/><stop offset="0.9494" stop-color="#ff6800"/><stop offset="0.9719" stop-color="#ff3e00"/><stop offset="0.9860" stop-color="#f80000"/><stop offset="0.9944" stop-color="#ae0000"/><stop offset="0.9972" stop-color="#e40000"/><stop offset="1.0000" stop-color="#ff3100"/></linearGradient><linearGradient id="g150" x1="0" y1="0" x2="0" y2="1"><stop offset="0.0000" stop-color="#008cff"/><stop offset="0.1208" stop-color="#00c7ff"/><stop offset="0.2135" stop-color="#00e0ff"/><stop offset="0.2669" stop-color="#07fff8"/><stop offset="0.3427" stop-color="#2effd1"/><stop offset="0.4045" stop-color="#4bffb4"/><stop offset="0.4663" stop-color="#acff53"/><stop offset="0.5421" stop-color="#fff900"/><stop offset="0.6067" stop-color="#ffe000"/><stop offset="0.8146" stop-color="#ffb500"/><stop offset="0.9466" stop-color="#ff6900"/><stop offset="0.9719" stop-color="#ff3600"/><stop offset="0.9831" stop-color="#fd0100"/><stop offset="0.9944" stop-color="#a10000"/><stop offset="0.9972" stop-color="#d60000"/><stop offset="1.0000" stop-color="#ff2300"/></linearGradient><linearGradient id="g151" x1="0" y1="0" x2="0" y2="1"><stop offset="0.0000" stop-color="#008cff"/><stop offset="0.1208" stop-color="#00c7ff"/><stop offset="0.2135" stop-color="#00e0ff"/><stop offset="0.2669" stop-color="#07fff8"/><stop offset="0.3427" stop-color="#2effd1"/><stop offset="0.4045" stop-color="#4bffb4"/><stop offset="0.4663" stop-color="#acff53"/><stop offset="0.5421" stop-color="#fff900"/><stop offset="0.6067" stop-color="#ffe000"/><stop offset="0.8146" stop-color="#ffb500"/><stop offset="0.9438" stop-color="#ff6c00"/><stop offset="0.9719" stop-color="#ff2e00"/><stop offset="0.9803" stop-color="#ff0200"/><stop offset="0.9860" stop-color="#e00000"/><stop offset="0.9944" stop-color="#940000"/><stop offset="0.9972" stop-color="#ca0000"/><stop offset="1.0000" stop-color="#ff1600"/></linearGradient><linearGradient id="g152" x1="0" y1="0" x2="0" y2="1"><stop offset="0.0000" stop-color="#008cff"/><stop offset="0.1208" stop-color="#00c7ff"/><stop offset="0.2135" stop-color="#00e0ff"/><stop offset="0.2669" stop-color="#07fff8"/><stop offset="0.3427" stop-color="#2effd1"/><stop offset="0.4045" stop-color="#4bffb4"/><stop offset="0.4663" stop-color="#acff53"/><stop offset="0.5421" stop-color="#fff900"/><stop offset="0.6067" stop-color="#ffe000"/><stop offset="0.8146" stop-color="#ffb500"/><stop offset="0.9438" stop-color="#ff6c00"/><stop offset="0.9719" stop-color="#ff2b00"/><stop offset="0.9803" stop-color="#fe0100"/><stop offset="0.9860" stop-color="#dd0000"/><stop offset="0.9944" stop-color="#900000"/><stop offset="0.9972" stop-color="#c60000"/><stop offset="1.0000" stop-color="#ff1300"/></linearGradient><linearGradient id="g153" x1="0" y1="0" x2="0" y2="1"><stop offset="0.0000" stop-color="#008cff"/><stop offset="0.1208" stop-color="#00c7ff"/><stop offset="0.2135" stop-color="#00e0ff"/><stop offset="0.2669" stop-color="#07fff8"/><stop offset="0.3427" stop-color="#2effd1"/><stop offset="0.4045" stop-color="#4bffb4"/><stop offset="0.4663" stop-color="#acff53"/><stop offset="0.5421" stop-color="#fff900"/><stop offset="0.6067" stop-color="#ffe000"/><stop offset="0.8146" stop-color="#ffb500"/><stop offset="0.9466" stop-color="#ff6900"/><stop offset="0.9719" stop-color="#ff3400"/><stop offset="0.9831" stop-color="#fb0000"/><stop offset="0.9944" stop-color="#9d0000"/><stop offset="0.9972" stop-color="#d30000"/><stop offset="1.0000" stop-color="#ff2000"/></linearGradient><linearGradient id="g154" x1="0" y1="0" x2="0" y2="1"><stop offset="0.0000" stop-color="#008bff"/><stop offset="0.1208" stop-color="#00c6ff"/><stop offset="0.2135" stop-color="#00dfff"/><stop offset="0.2697" stop-color="#07fff8"/><stop offset="0.3511" stop-color="#30ffcf"/><stop offset="0.4045" stop-color="#4affb5"/><stop offset="0.4663" stop-color="#aaff55"/><stop offset="0.5421" stop-color="#fffb00"/><stop offset="0.6124" stop-color="#ffdf00"/><stop offset="0.8146" stop-color="#ffb500"/><stop offset="0.9494" stop-color="#ff6700"/><stop offset="0.9719" stop-color="#ff3b00"/><stop offset="0.9831" stop-color="#ff0400"/><stop offset="0.9888" stop-color="#d80000"/><stop offset="0.9944" stop-color="#a90000"/><stop offset="0.9972" stop-color="#df0000"/><stop offset="1.0000" stop-color="#ff2c00"/></linearGradient><linearGradient id="g155" x1="0" y1="0" x2="0" y2="1"><stop offset="0.0000" stop-color="#0085ff"/><stop offset="0.1292" stop-color="#00beff"/><stop offset="0.2163" stop-color="#00daff"/><stop offset="0.2837" stop-color="#07fff8"/><stop offset="0.4045" stop-color="#41ffbe"/><stop offset="0.4747" stop-color="#a7ff58"/><stop offset="0.5534" stop-color="#fffc00"/><stop offset="0.6236" stop-color="#ffde00"/><stop offset="0.8118" stop-color="#ffb600"/><stop offset="0.9522" stop-color="#ff6200"/><stop offset="0.9691" stop-color="#ff4800"/><stop offset="0.9831" stop-color="#fe0000"/><stop offset="0.9944" stop-color="#ae0000"/><stop offset="0.9972" stop-color="#e60000"/><stop offset="1.0000" stop-color="#ff3400"/></linearGradient><linearGradient id="g156" x1="0" y1="0" x2="0" y2="1"><stop offset="0.0000" stop-color="#007fff"/><stop offset="0.1433" stop-color="#00baff"/><stop offset="0.2247" stop-color="#00d9ff"/><stop offset="0.2978" stop-color="#06fff9"/><stop offset="0.4045" stop-color="#39ffc6"/><stop offset="0.4916" stop-color="#afff50"/><stop offset="0.5618" stop-color="#fefe01"/><stop offset="0.6152" stop-color="#ffe100"/><stop offset="0.8118" stop-color="#ffb600"/><stop offset="0.9354" stop-color="#ff6f00"/><stop offset="0.9691" stop-color="#ff4a00"/><stop offset="0.9803" stop-color="#ff0900"/><stop offset="0.9860" stop-color="#e60000"/><stop offset="0.9944" stop-color="#b10000"/><stop offset="0.9972" stop-color="#eb0000"/><stop offset="1.0000" stop-color="#ff3a00"/></linearGradient><linearGradient id="g157" x1="0" y1="0" x2="0" y2="1"><stop offset="0.0000" stop-color="#0079ff"/><stop offset="0.1966" stop-color="#00c2ff"/><stop offset="0.3146" stop-color="#04fffb"/><stop offset="0.4045" stop-color="#31ffce"/><stop offset="0.5562" stop-color="#f1ff0e"/><stop offset="0.5843" stop-color="#fff300"/><stop offset="0.6180" stop-color="#ffe100"/><stop offset="0.8118" stop-color="#ffb500"/><stop offset="0.9298" stop-color="#ff7000"/><stop offset="0.9607" stop-color="#ff5600"/><stop offset="0.9691" stop-color="#ff4b00"/><stop offset="0.9803" stop-color="#ff0400"/><stop offset="0.9944" stop-color="#b40000"/><stop offset="0.9972" stop-color="#ef0000"/><stop offset="1.0000" stop-color="#ff3f00"/></linearGradient><linearGradient id="g158" x1="0" y1="0" x2="0" y2="1"><stop offset="0.0000" stop-color="#0073ff"/><stop offset="0.2472" stop-color="#00d6ff"/><stop offset="0.3399" stop-color="#07fff8"/><stop offset="0.4073" stop-color="#2dffd2"/><stop offset="0.5787" stop-color="#fffd00"/><stop offset="0.6096" stop-color="#ffe300"/><stop offset="0.8090" stop-color="#ffb700"/><stop offset="0.9213" stop-color="#ff7100"/><stop offset="0.9607" stop-color="#ff5600"/><stop offset="0.9691" stop-color="#ff4b00"/><stop offset="0.9803" stop-color="#fd0000"/><stop offset="0.9888" stop-color="#cb0000"/><stop offset="0.9944" stop-color="#b50000"/><stop offset="0.9972" stop-color="#f20000"/><stop offset="1.0000" stop-color="#ff4400"/></linearGradient><linearGradient id="g159" x1="0" y1="0" x2="0" y2="1"><stop offset="0.0000" stop-color="#006eff"/><stop offset="0.2612" stop-color="#00d8ff"/><stop offset="0.3539" stop-color="#07fff8"/><stop offset="0.4101" stop-color="#2affd5"/><stop offset="0.5843" stop-color="#fffa00"/><stop offset="0.6096" stop-color="#ffe400"/><stop offset="0.8090" stop-color="#ffb700"/><stop offset="0.9129" stop-color="#ff7300"/><stop offset="0.9607" stop-color="#ff5800"/><stop offset="0.9691" stop-color="#ff4f00"/><stop offset="0.9803" stop-color="#fd0000"/><stop offset="0.9860" stop-color="#d60000"/><stop offset="0.9944" stop-color="#bc0000"/><stop offset="0.9972" stop-color="#fa0000"/><stop offset="1.0000" stop-color="#ff4c00"/></linearGradient><linearGradient id="g160" x1="0" y1="0" x2="0" y2="1"><stop offset="0.0000" stop-color="#0049ff"/><stop offset="0.4101" stop-color="#00fcff"/><stop offset="0.5955" stop-color="#adff52"/><stop offset="0.6348" stop-color="#a6ff59"/><stop offset="0.8118" stop-color="#c4ff3b"/><stop offset="0.9382" stop-color="#fdff02"/><stop offset="0.9691" stop-color="#ffef00"/><stop offset="0.9860" stop-color="#ff9600"/><stop offset="0.9888" stop-color="#ff9000"/><stop offset="0.9916" stop-color="#ff7300"/><stop offset="0.9944" stop-color="#ff4500"/><stop offset="0.9972" stop-color="#ff4c00"/><stop offset="1.0000" stop-color="#ff6100"/></linearGradient><linearGradient id="g161" x1="0" y1="0" x2="0" y2="1"><stop offset="0.0000" stop-color="#0000fc"/><stop offset="0.2219" stop-color="#0070ff"/><stop offset="0.4382" stop-color="#00adff"/><stop offset="0.5899" stop-color="#00ecff"/><stop offset="0.6180" stop-color="#00b4ff"/><stop offset="0.8371" stop-color="#00bdff"/><stop offset="0.9719" stop-color="#00d4ff"/><stop offset="0.9888" stop-color="#00f0ff"/><stop offset="0.9916" stop-color="#36ffc9"/><stop offset="0.9944" stop-color="#afff50"/><stop offset="0.9972" stop-color="#ffe700"/><stop offset="1.0000" stop-color="#ff8400"/></linearGradient><linearGradient id="g162" x1="0" y1="0" x2="0" y2="1"><stop offset="0.0000" stop-color="#0000d5"/><stop offset="0.0843" stop-color="#0006ff"/><stop offset="0.2191" stop-color="#004cff"/><stop offset="0.5758" stop-color="#0085ff"/><stop offset="0.5899" stop-color="#0085ff"/><stop offset="0.6152" stop-color="#0039ff"/><stop offset="0.9466" stop-color="#002cff"/><stop offset="0.9888" stop-color="#002cff"/><stop offset="0.9916" stop-color="#0086ff"/><stop offset="0.9944" stop-color="#27ffd8"/><stop offset="0.9972" stop-color="#c8ff37"/><stop offset="1.0000" stop-color="#ff9600"/></linearGradient><linearGradient id="g163" x1="0" y1="0" x2="0" y2="1"><stop offset="0.0000" stop-color="#0000d1"/><stop offset="0.1011" stop-color="#0006ff"/><stop offset="0.2416" stop-color="#0045ff"/><stop offset="0.4438" stop-color="#006fff"/><stop offset="0.5730" stop-color="#007bff"/><stop offset="0.5927" stop-color="#006fff"/><stop offset="0.6152" stop-color="#0034ff"/><stop offset="0.8062" stop-color="#001fff"/><stop offset="0.9888" stop-color="#001fff"/><stop offset="0.9916" stop-color="#007bff"/><stop offset="0.9944" stop-color="#20ffdf"/><stop offset="0.9972" stop-color="#c4ff3b"/><stop offset="1.0000" stop-color="#ff9600"/></linearGradient><linearGradient id="g164" x1="0" y1="0" x2="0" y2="1"><stop offset="0.0000" stop-color="#0000cd"/><stop offset="0.1236" stop-color="#0006ff"/><stop offset="0.3258" stop-color="#0055ff"/><stop offset="0.5674" stop-color="#0074ff"/><stop offset="0.5927" stop-color="#0062ff"/><stop offset="0.6180" stop-color="#002eff"/><stop offset="0.7444" stop-color="#0016ff"/><stop offset="0.9888" stop-color="#0013ff"/><stop offset="0.9916" stop-color="#0071ff"/><stop offset="0.9944" stop-color="#19ffe6"/><stop offset="0.9972" stop-color="#c1ff3e"/><stop offset="1.0000" stop-color="#ff9600"/></linearGradient><linearGradient id="g165" x1="0" y1="0" x2="0" y2="1"><stop offset="0.0000" stop-color="#0000c9"/><stop offset="0.1517" stop-color="#0006ff"/><stop offset="0.3230" stop-color="#004eff"/><stop offset="0.5646" stop-color="#006eff"/><stop offset="0.5955" stop-color="#004fff"/><stop offset="0.6180" stop-color="#0028ff"/><stop offset="0.7275" stop-color="#000aff"/><stop offset="0.9888" stop-color="#0007ff"/><stop offset="0.9916" stop-color="#0066ff"/><stop offset="0.9944" stop-color="#12ffed"/><stop offset="0.9972" stop-color="#bdff42"/><stop offset="1.0000" stop-color="#ff9600"/></linearGradient><linearGradient id="g166" x1="0" y1="0" x2="0" y2="1"><stop offset="0.0000" stop-color="#0000c4"/><stop offset="0.1938" stop-color="#0007ff"/><stop offset="0.3146" stop-color="#0046ff"/><stop offset="0.5618" stop-color="#006aff"/><stop offset="0.6067" stop-color="#0031ff"/><stop offset="0.6264" stop-color="#001fff"/><stop offset="0.7135" stop-color="#0001fd"/><stop offset="0.9888" stop-color="#0000f9"/><stop offset="0.9916" stop-color="#005cff"/><stop offset="0.9944" stop-color="#0bfff4"/><stop offset="0.9972" stop-color="#baff45"/><stop offset="1.0000" stop-color="#ff9600"/></linearGradient><linearGradient id="g167" x1="0" y1="0" x2="0" y2="1"><stop offset="0.0000" stop-color="#0000c0"/><stop offset="0.2191" stop-color="#0006ff"/><stop offset="0.3118" stop-color="#003fff"/><stop offset="0.5618" stop-color="#0063ff"/><stop offset="0.6180" stop-color="#001cff"/><stop offset="0.6910" stop-color="#0000f6"/><stop offset="0.9775" stop-color="#0000ed"/><stop offset="0.9888" stop-color="#0000ed"/><stop offset="0.9916" stop-color="#0051ff"/><stop offset="0.9944" stop-color="#04fffb"/><stop offset="0.9972" stop-color="#b6ff49"/><stop offset="1.0000" stop-color="#ff9600"/></linearGradient><linearGradient id="g168" x1="0" y1="0" x2="0" y2="1"><stop offset="0.0000" stop-color="#0000bc"/><stop offset="0.2107" stop-color="#0000f0"/><stop offset="0.2472" stop-color="#000eff"/><stop offset="0.3118" stop-color="#0039ff"/><stop offset="0.5618" stop-color="#005cff"/><stop offset="0.5899" stop-color="#0030ff"/><stop offset="0.6601" stop-color="#0000fd"/><stop offset="0.7135" stop-color="#0000e5"/><stop offset="0.9888" stop-color="#0000e0"/><stop offset="0.9916" stop-color="#0047ff"/><stop offset="0.9944" stop-color="#00fcff"/><stop offset="0.9972" stop-color="#b3ff4c"/><stop offset="1.0000" stop-color="#ff9600"/></linearGradient><linearGradient id="g169" x1="0" y1="0" x2="0" y2="1"><stop offset="0.0000" stop-color="#0000b9"/><stop offset="0.2079" stop-color="#0000e3"/><stop offset="0.2500" stop-color="#0007ff"/><stop offset="0.3090" stop-color="#0033ff"/><stop offset="0.5618" stop-color="#0056ff"/><stop offset="0.5899" stop-color="#0025ff"/><stop offset="0.6573" stop-color="#0000f8"/><stop offset="0.7107" stop-color="#0000db"/><stop offset="0.9888" stop-color="#0000d7"/><stop offset="0.9916" stop-color="#003fff"/><stop offset="0.9944" stop-color="#00f7ff"/><stop offset="0.9972" stop-color="#b0ff4f"/><stop offset="1.0000" stop-color="#ff9600"/></linearGradient><linearGradient id="g170" x1="0" y1="0" x2="0" y2="1"><stop offset="0.0000" stop-color="#0000b9"/><stop offset="0.2079" stop-color="#0000e3"/><stop offset="0.2500" stop-color="#0007ff"/><stop offset="0.3090" stop-color="#0033ff"/><stop offset="0.5618" stop-color="#0056ff"/><stop offset="0.5899" stop-color="#0025ff"/><stop offset="0.6573" stop-color="#0000f8"/><stop offset="0.7107" stop-color="#0000db"/><stop offset="0.9888" stop-color="#0000d7"/><stop offset="0.9916" stop-color="#003fff"/><stop offset="0.9944" stop-color="#00f7ff"/><stop offset="0.9972" stop-color="#b0ff4f"/><stop offset="1.0000" stop-color="#ff9600"/></linearGradient><linearGradient id="g171" x1="0" y1="0" x2="0" y2="1"><stop offset="0.0000" stop-color="#0000b9"/><stop offset="0.2079" stop-color="#0000e3"/><stop offset="0.2500" stop-color="#0007ff"/><stop offset="0.3090" stop-color="#0033ff"/><stop offset="0.5618" stop-color="#0056ff"/><stop offset="0.5899" stop-color="#0025ff"/><stop offset="0.6573" stop-color="#0000f8"/><stop offset="0.7107" stop-color="#0000db"/><stop offset="0.9888" stop-color="#0000d7"/><stop offset="0.9916" stop-color="#003fff"/><stop offset="0.9944" stop-color="#00f7ff"/><stop offset="0.9972" stop-color="#b0ff4f"/><stop offset="1.0000" stop-color="#ff9600"/></linearGradient><linearGradient id="g172" x1="0" y1="0" x2="0" y2="1"><stop offset="0.0000" stop-color="#0000ed"/><stop offset="0.0899" stop-color="#0009ff"/><stop offset="0.2219" stop-color="#0034ff"/><stop offset="0.3174" stop-color="#0065ff"/><stop offset="0.5646" stop-color="#0091ff"/><stop offset="0.5955" stop-color="#007bff"/><stop offset="0.7191" stop-color="#0069ff"/><stop offset="0.8904" stop-color="#0093ff"/><stop offset="0.9522" stop-color="#00a9ff"/><stop offset="0.9888" stop-color="#00e7ff"/><stop offset="0.9916" stop-color="#2bffd4"/><stop offset="0.9944" stop-color="#9eff61"/><stop offset="0.9972" stop-color="#ffed00"/><stop offset="1.0000" stop-color="#ff7a00"/></linearGradient><linearGradient id="g173" x1="0" y1="0" x2="0" y2="1"><stop offset="0.0000" stop-color="#0022ff"/><stop offset="0.3146" stop-color="#0095ff"/><stop offset="0.5281" stop-color="#00c4ff"/><stop offset="0.7556" stop-color="#06fff9"/><stop offset="0.8624" stop-color="#3dffc2"/><stop offset="0.9494" stop-color="#73ff8c"/><stop offset="0.9888" stop-color="#f7ff08"/><stop offset="0.9916" stop-color="#ffe900"/><stop offset="1.0000" stop-color="#ff5e00"/></linearGradient><linearGradient id="g174" x1="0" y1="0" x2="0" y2="1"><stop offset="0.0000" stop-color="#003cff"/><stop offset="0.2247" stop-color="#009bff"/><stop offset="0.5197" stop-color="#00dcff"/><stop offset="0.6039" stop-color="#06fff9"/><stop offset="0.8230" stop-color="#78ff87"/><stop offset="0.9494" stop-color="#d9ff26"/><stop offset="0.9607" stop-color="#fff700"/><stop offset="1.0000" stop-color="#ff5000"/></linearGradient><linearGradient id="g175" x1="0" y1="0" x2="0" y2="1"><stop offset="0.0000" stop-color="#003aff"/><stop offset="0.2303" stop-color="#0098ff"/><stop offset="0.5253" stop-color="#00daff"/><stop offset="0.6236" stop-color="#06fff9"/><stop offset="0.8230" stop-color="#6cff93"/><stop offset="0.9494" stop-color="#d2ff2d"/><stop offset="0.9607" stop-color="#feff01"/><stop offset="1.0000" stop-color="#ff5000"/></linearGradient><linearGradient id="g176" x1="0" y1="0" x2="0" y2="1"><stop offset="0.0000" stop-color="#0037ff"/><stop offset="0.2500" stop-color="#0093ff"/><stop offset="0.5534" stop-color="#00daff"/><stop offset="0.6798" stop-color="#07fff8"/><stop offset="0.8343" stop-color="#5bffa4"/><stop offset="0.9298" stop-color="#abff54"/><stop offset="0.9522" stop-color="#cdff32"/><stop offset="0.9663" stop-color="#ffff00"/><stop offset="0.9803" stop-color="#ffb400"/><stop offset="1.0000" stop-color="#ff5000"/></linearGradient><linearGradient id="g177" x1="0" y1="0" x2="0" y2="1"><stop offset="0.0000" stop-color="#0034ff"/><stop offset="0.3034" stop-color="#009aff"/><stop offset="0.7051" stop-color="#00f6ff"/><stop offset="0.7528" stop-color="#11ffee"/><stop offset="0.8961" stop-color="#70ff8f"/><stop offset="0.9326" stop-color="#9bff64"/><stop offset="0.9551" stop-color="#c7ff38"/><stop offset="0.9719" stop-color="#fffc00"/><stop offset="0.9888" stop-color="#ff8a00"/><stop offset="1.0000" stop-color="#ff5000"/></linearGradient><linearGradient id="g178" x1="0" y1="0" x2="0" y2="1"><stop offset="0.0000" stop-color="#0032ff"/><stop offset="0.3315" stop-color="#009cff"/><stop offset="0.7163" stop-color="#00efff"/><stop offset="0.7612" stop-color="#09fff6"/><stop offset="0.8961" stop-color="#63ff9c"/><stop offset="0.9298" stop-color="#8cff73"/><stop offset="0.9579" stop-color="#c8ff37"/><stop offset="0.9691" stop-color="#e7ff18"/><stop offset="0.9719" stop-color="#f8ff07"/><stop offset="0.9888" stop-color="#ff8b00"/><stop offset="1.0000" stop-color="#ff4f00"/></linearGradient><linearGradient id="g179" x1="0" y1="0" x2="0" y2="1"><stop offset="0.0000" stop-color="#0032ff"/><stop offset="0.3315" stop-color="#009cff"/><stop offset="0.7163" stop-color="#00efff"/><stop offset="0.7612" stop-color="#09fff6"/><stop offset="0.8961" stop-color="#63ff9c"/><stop offset="0.9298" stop-color="#8cff73"/><stop offset="0.9579" stop-color="#ccff33"/><stop offset="0.9691" stop-color="#eeff11"/><stop offset="0.9719" stop-color="#fffe00"/><stop offset="0.9860" stop-color="#ff8f00"/><stop offset="1.0000" stop-color="#ff4300"/></linearGradient><linearGradient id="g180" x1="0" y1="0" x2="0" y2="1"><stop offset="0.0000" stop-color="#0032ff"/><stop offset="0.3315" stop-color="#009cff"/><stop offset="0.7163" stop-color="#00efff"/><stop offset="0.7612" stop-color="#09fff6"/><stop offset="0.8961" stop-color="#63ff9c"/><stop offset="0.9298" stop-color="#8cff73"/><stop offset="0.9551" stop-color="#c6ff39"/><stop offset="0.9719" stop-color="#fff900"/><stop offset="0.9860" stop-color="#ff8700"/><stop offset="1.0000" stop-color="#ff3b00"/></linearGradient><linearGradient id="g181" x1="0" y1="0" x2="0" y2="1"><stop offset="0.0000" stop-color="#0027ff"/><stop offset="0.2978" stop-color="#008eff"/><stop offset="0.7191" stop-color="#00eeff"/><stop offset="0.7697" stop-color="#09fff6"/><stop offset="0.8933" stop-color="#59ffa6"/><stop offset="0.9298" stop-color="#87ff78"/><stop offset="0.9551" stop-color="#c6ff39"/><stop offset="0.9691" stop-color="#f7ff08"/><stop offset="0.9719" stop-color="#fff400"/><stop offset="0.9860" stop-color="#ff7e00"/><stop offset="1.0000" stop-color="#ff3300"/></linearGradient><linearGradient id="g182" x1="0" y1="0" x2="0" y2="1"><stop offset="0.0000" stop-color="#001cff"/><stop offset="0.2584" stop-color="#007cff"/><stop offset="0.7247" stop-color="#00efff"/><stop offset="0.7781" stop-color="#09fff6"/><stop offset="0.8904" stop-color="#4fffb0"/><stop offset="0.9270" stop-color="#7dff82"/><stop offset="0.9522" stop-color="#bbff44"/><stop offset="0.9691" stop-color="#fcff03"/><stop offset="0.9803" stop-color="#ffa200"/><stop offset="0.9888" stop-color="#ff6300"/><stop offset="1.0000" stop-color="#ff2a00"/></linearGradient><linearGradient id="g183" x1="0" y1="0" x2="0" y2="1"><stop offset="0.0000" stop-color="#0011ff"/><stop offset="0.2416" stop-color="#0072ff"/><stop offset="0.4916" stop-color="#00b2ff"/><stop offset="0.7303" stop-color="#00efff"/><stop offset="0.7865" stop-color="#09fff6"/><stop offset="0.8904" stop-color="#47ffb8"/><stop offset="0.9270" stop-color="#77ff88"/><stop offset="0.9494" stop-color="#b0ff4f"/><stop offset="0.9691" stop-color="#fffd00"/><stop offset="0.9860" stop-color="#ff6700"/><stop offset="1.0000" stop-color="#ff2100"/></linearGradient><linearGradient id="g184" x1="0" y1="0" x2="0" y2="1"><stop offset="0.0000" stop-color="#0006ff"/><stop offset="0.2303" stop-color="#0068ff"/><stop offset="0.4663" stop-color="#00a4ff"/><stop offset="0.6376" stop-color="#00d6ff"/><stop offset="0.7416" stop-color="#00f1ff"/><stop offset="0.8006" stop-color="#0afff5"/><stop offset="0.8876" stop-color="#3dffc2"/><stop offset="0.9270" stop-color="#72ff8d"/><stop offset="0.9494" stop-color="#aeff51"/><stop offset="0.9663" stop-color="#fbff04"/><stop offset="0.9691" stop-color="#fff700"/><stop offset="0.9860" stop-color="#ff5b00"/><stop offset="1.0000" stop-color="#ff1600"/></linearGradient><linearGradient id="g185" x1="0" y1="0" x2="0" y2="1"><stop offset="0.0000" stop-color="#0000fa"/><stop offset="0.1545" stop-color="#0043ff"/><stop offset="0.2331" stop-color="#0063ff"/><stop offset="0.4551" stop-color="#009aff"/><stop offset="0.6067" stop-color="#00d0ff"/><stop offset="0.7416" stop-color="#00eeff"/><stop offset="0.8062" stop-color="#08fff7"/><stop offset="0.8876" stop-color="#35ffca"/><stop offset="0.9270" stop-color="#6dff92"/><stop offset="0.9466" stop-color="#a3ff5c"/><stop offset="0.9663" stop-color="#fffe00"/><stop offset="0.9719" stop-color="#ffd900"/><stop offset="0.9860" stop-color="#ff4e00"/><stop offset="1.0000" stop-color="#ff0b00"/></linearGradient><linearGradient id="g186" x1="0" y1="0" x2="0" y2="1"><stop offset="0.0000" stop-color="#0000ef"/><stop offset="0.0506" stop-color="#0009ff"/><stop offset="0.1938" stop-color="#0052ff"/><stop offset="0.4466" stop-color="#0090ff"/><stop offset="0.5758" stop-color="#00c7ff"/><stop offset="0.7556" stop-color="#00f0ff"/><stop offset="0.8174" stop-color="#08fff7"/><stop offset="0.8876" stop-color="#2effd1"/><stop offset="0.9242" stop-color="#61ff9e"/><stop offset="0.9438" stop-color="#96ff69"/><stop offset="0.9663" stop-color="#fff900"/><stop offset="0.9719" stop-color="#ffd200"/><stop offset="0.9860" stop-color="#ff4200"/><stop offset="1.0000" stop-color="#ff0100"/></linearGradient><linearGradient id="g187" x1="0" y1="0" x2="0" y2="1"><stop offset="0.0000" stop-color="#0000e3"/><stop offset="0.0646" stop-color="#0006ff"/><stop offset="0.2191" stop-color="#0054ff"/><stop offset="0.4354" stop-color="#0086ff"/><stop offset="0.5674" stop-color="#00c3ff"/><stop offset="0.7893" stop-color="#00f7ff"/><stop offset="0.8483" stop-color="#0ffff0"/><stop offset="0.8876" stop-color="#27ffd8"/><stop offset="0.9242" stop-color="#5bffa4"/><stop offset="0.9438" stop-color="#93ff6c"/><stop offset="0.9635" stop-color="#f9ff06"/><stop offset="0.9691" stop-color="#ffe500"/><stop offset="0.9860" stop-color="#ff3700"/><stop offset="0.9972" stop-color="#ff0300"/><stop offset="1.0000" stop-color="#f60000"/></linearGradient><linearGradient id="g188" x1="0" y1="0" x2="0" y2="1"><stop offset="0.0000" stop-color="#0000d8"/><stop offset="0.0815" stop-color="#0004ff"/><stop offset="0.2163" stop-color="#004dff"/><stop offset="0.4298" stop-color="#007eff"/><stop offset="0.5590" stop-color="#00bfff"/><stop offset="0.8202" stop-color="#00fdff"/><stop offset="0.8848" stop-color="#1cffe3"/><stop offset="0.9242" stop-color="#56ffa9"/><stop offset="0.9438" stop-color="#8fff70"/><stop offset="0.9635" stop-color="#fbff04"/><stop offset="0.9691" stop-color="#ffe100"/><stop offset="0.9860" stop-color="#ff2d00"/><stop offset="0.9944" stop-color="#ff0600"/><stop offset="1.0000" stop-color="#ef0000"/></linearGradient><linearGradient id="g189" x1="0" y1="0" x2="0" y2="1"><stop offset="0.0000" stop-color="#0000cd"/><stop offset="0.0983" stop-color="#0002ff"/><stop offset="0.2135" stop-color="#0047ff"/><stop offset="0.4242" stop-color="#0075ff"/><stop offset="0.5562" stop-color="#00bdff"/><stop offset="0.8596" stop-color="#06fff9"/><stop offset="0.8876" stop-color="#18ffe7"/><stop offset="0.9242" stop-color="#50ffaf"/><stop offset="0.9438" stop-color="#8cff73"/><stop offset="0.9607" stop-color="#ebff14"/><stop offset="0.9635" stop-color="#fcff03"/><stop offset="0.9691" stop-color="#ffdf00"/><stop offset="0.9860" stop-color="#ff2700"/><stop offset="0.9944" stop-color="#ff0000"/><stop offset="1.0000" stop-color="#eb0000"/></linearGradient><linearGradient id="g190" x1="0" y1="0" x2="0" y2="1"><stop offset="0.0000" stop-color="#0000c2"/><stop offset="0.1124" stop-color="#0003ff"/><stop offset="0.2107" stop-color="#0041ff"/><stop offset="0.4213" stop-color="#006dff"/><stop offset="0.5506" stop-color="#00baff"/><stop offset="0.6657" stop-color="#00d3ff"/><stop offset="0.8596" stop-color="#00feff"/><stop offset="0.8848" stop-color="#0dfff2"/><stop offset="0.9242" stop-color="#4bffb4"/><stop offset="0.9438" stop-color="#88ff77"/><stop offset="0.9607" stop-color="#eaff15"/><stop offset="0.9635" stop-color="#fcff03"/><stop offset="0.9691" stop-color="#ffde00"/><stop offset="0.9860" stop-color="#ff2200"/><stop offset="0.9944" stop-color="#fc0000"/><stop offset="1.0000" stop-color="#e90000"/></linearGradient><linearGradient id="g191" x1="0" y1="0" x2="0" y2="1"><stop offset="0.0000" stop-color="#0000b7"/><stop offset="0.1236" stop-color="#0003ff"/><stop offset="0.2107" stop-color="#003bff"/><stop offset="0.4185" stop-color="#0065ff"/><stop offset="0.5478" stop-color="#00b7ff"/><stop offset="0.6461" stop-color="#00d0ff"/><stop offset="0.8567" stop-color="#00f6ff"/><stop offset="0.8848" stop-color="#05fffa"/><stop offset="0.9242" stop-color="#45ffba"/><stop offset="0.9438" stop-color="#84ff7b"/><stop offset="0.9579" stop-color="#d6ff29"/><stop offset="0.9635" stop-color="#faff05"/><stop offset="0.9691" stop-color="#ffdf00"/><stop offset="0.9860" stop-color="#ff2100"/><stop offset="0.9944" stop-color="#fd0000"/><stop offset="1.0000" stop-color="#eb0000"/></linearGradient><linearGradient id="g192" x1="0" y1="0" x2="0" y2="1"><stop offset="0.0000" stop-color="#0000ac"/><stop offset="0.0927" stop-color="#0000e5"/><stop offset="0.1404" stop-color="#0007ff"/><stop offset="0.2107" stop-color="#0035ff"/><stop offset="0.4157" stop-color="#005dff"/><stop offset="0.4860" stop-color="#008fff"/><stop offset="0.5871" stop-color="#00c5ff"/><stop offset="0.8624" stop-color="#00f1ff"/><stop offset="0.8904" stop-color="#06fff9"/><stop offset="0.9242" stop-color="#40ffbf"/><stop offset="0.9438" stop-color="#80ff7f"/><stop offset="0.9579" stop-color="#d2ff2d"/><stop offset="0.9635" stop-color="#f7ff08"/><stop offset="0.9691" stop-color="#ffe200"/><stop offset="0.9860" stop-color="#ff2300"/><stop offset="0.9944" stop-color="#ff0100"/><stop offset="1.0000" stop-color="#ef0000"/></linearGradient><linearGradient id="g193" x1="0" y1="0" x2="0" y2="1"><stop offset="0.0000" stop-color="#0000a1"/><stop offset="0.0871" stop-color="#0000d9"/><stop offset="0.1489" stop-color="#0006ff"/><stop offset="0.2107" stop-color="#002fff"/><stop offset="0.4101" stop-color="#0053ff"/><stop offset="0.4775" stop-color="#0084ff"/><stop offset="0.5506" stop-color="#00b6ff"/><stop offset="0.6376" stop-color="#00cdff"/><stop offset="0.8652" stop-color="#00eaff"/><stop offset="0.8848" stop-color="#00f5ff"/><stop offset="0.9017" stop-color="#11ffee"/><stop offset="0.9242" stop-color="#3affc5"/><stop offset="0.9438" stop-color="#7cff83"/><stop offset="0.9579" stop-color="#cdff32"/><stop offset="0.9663" stop-color="#fff900"/><stop offset="0.9719" stop-color="#ffc900"/><stop offset="0.9860" stop-color="#ff2700"/><stop offset="0.9972" stop-color="#fe0000"/><stop offset="1.0000" stop-color="#f60000"/></linearGradient><linearGradient id="g194" x1="0" y1="0" x2="0" y2="1"><stop offset="0.0000" stop-color="#000096"/><stop offset="0.0815" stop-color="#0000ce"/><stop offset="0.1573" stop-color="#0006ff"/><stop offset="0.2107" stop-color="#0029ff"/><stop offset="0.4045" stop-color="#0049ff"/><stop offset="0.4719" stop-color="#007aff"/><stop offset="0.5309" stop-color="#00a9ff"/><stop offset="0.6208" stop-color="#00caff"/><stop offset="0.8708" stop-color="#00e4ff"/><stop offset="0.8876" stop-color="#00f2ff"/><stop offset="0.9017" stop-color="#0afff5"/><stop offset="0.9242" stop-color="#35ffca"/><stop offset="0.9438" stop-color="#78ff87"/><stop offset="0.9551" stop-color="#b6ff49"/><stop offset="0.9663" stop-color="#fffe00"/><stop offset="0.9719" stop-color="#ffcf00"/><stop offset="0.9860" stop-color="#ff2c00"/><stop offset="1.0000" stop-color="#ff0100"/></linearGradient><linearGradient id="g195" x1="0" y1="0" x2="0" y2="1"><stop offset="0.0000" stop-color="#000096"/><stop offset="0.0815" stop-color="#0000ce"/><stop offset="0.1573" stop-color="#0006ff"/><stop offset="0.2107" stop-color="#0029ff"/><stop offset="0.4045" stop-color="#0049ff"/><stop offset="0.4719" stop-color="#007aff"/><stop offset="0.5309" stop-color="#00a9ff"/><stop offset="0.6208" stop-color="#00caff"/><stop offset="0.8708" stop-color="#00e4ff"/><stop offset="0.8876" stop-color="#00f2ff"/><stop offset="0.9017" stop-color="#0afff5"/><stop offset="0.9242" stop-color="#35ffca"/><stop offset="0.9466" stop-color="#83ff7c"/><stop offset="0.9663" stop-color="#faff05"/><stop offset="0.9691" stop-color="#fff200"/><stop offset="0.9860" stop-color="#ff3600"/><stop offset="1.0000" stop-color="#ff0b00"/></linearGradient><linearGradient id="g196" x1="0" y1="0" x2="0" y2="1"><stop offset="0.0000" stop-color="#000096"/><stop offset="0.0815" stop-color="#0000ce"/><stop offset="0.1573" stop-color="#0006ff"/><stop offset="0.2107" stop-color="#0029ff"/><stop offset="0.4045" stop-color="#0049ff"/><stop offset="0.4719" stop-color="#007aff"/><stop offset="0.5309" stop-color="#00a9ff"/><stop offset="0.6208" stop-color="#00caff"/><stop offset="0.8708" stop-color="#00e4ff"/><stop offset="0.8876" stop-color="#00f2ff"/><stop offset="0.9017" stop-color="#0afff5"/><stop offset="0.9242" stop-color="#35ffca"/><stop offset="0.9466" stop-color="#82ff7d"/><stop offset="0.9663" stop-color="#f5ff0a"/><stop offset="0.9691" stop-color="#fff800"/><stop offset="0.9860" stop-color="#ff4000"/><stop offset="1.0000" stop-color="#ff1600"/></linearGradient><linearGradient id="g197" x1="0" y1="0" x2="0" y2="1"><stop offset="0.0000" stop-color="#000096"/><stop offset="0.0815" stop-color="#0000ce"/><stop offset="0.1573" stop-color="#0006ff"/><stop offset="0.2107" stop-color="#0029ff"/><stop offset="0.4045" stop-color="#0049ff"/><stop offset="0.4719" stop-color="#007aff"/><stop offset="0.5309" stop-color="#00a9ff"/><stop offset="0.6208" stop-color="#00caff"/><stop offset="0.8708" stop-color="#00e4ff"/><stop offset="0.8876" stop-color="#00f2ff"/><stop offset="0.9017" stop-color="#0afff5"/><stop offset="0.9242" stop-color="#35ffca"/><stop offset="0.9494" stop-color="#8bff74"/><stop offset="0.9691" stop-color="#fcff03"/><stop offset="0.9860" stop-color="#ff4e00"/><stop offset="1.0000" stop-color="#ff2500"/></linearGradient><linearGradient id="g198" x1="0" y1="0" x2="0" y2="1"><stop offset="0.0000" stop-color="#000096"/><stop offset="0.0815" stop-color="#0000ce"/><stop offset="0.1573" stop-color="#0006ff"/><stop offset="0.2107" stop-color="#0029ff"/><stop offset="0.4045" stop-color="#0049ff"/><stop offset="0.4719" stop-color="#007aff"/><stop offset="0.5309" stop-color="#00a9ff"/><stop offset="0.6208" stop-color="#00caff"/><stop offset="0.8708" stop-color="#00e4ff"/><stop offset="0.8876" stop-color="#00f2ff"/><stop offset="0.9017" stop-color="#0afff5"/><stop offset="0.9242" stop-color="#35ffca"/><stop offset="0.9522" stop-color="#96ff69"/><stop offset="0.9691" stop-color="#f3ff0c"/><stop offset="0.9719" stop-color="#fff100"/><stop offset="0.9860" stop-color="#ff5e00"/><stop offset="1.0000" stop-color="#ff3700"/></linearGradient><linearGradient id="g199" x1="0" y1="0" x2="0" y2="1"><stop offset="0.0000" stop-color="#000096"/><stop offset="0.0815" stop-color="#0000ce"/><stop offset="0.1573" stop-color="#0006ff"/><stop offset="0.2107" stop-color="#0029ff"/><stop offset="0.4045" stop-color="#0049ff"/><stop offset="0.4719" stop-color="#007aff"/><stop offset="0.5309" stop-color="#00a9ff"/><stop offset="0.6208" stop-color="#00caff"/><stop offset="0.8708" stop-color="#00e4ff"/><stop offset="0.8876" stop-color="#00f2ff"/><stop offset="0.9017" stop-color="#0afff5"/><stop offset="0.9242" stop-color="#35ffca"/><stop offset="0.9522" stop-color="#92ff6d"/><stop offset="0.9719" stop-color="#fffa00"/><stop offset="0.9860" stop-color="#ff6b00"/><stop offset="1.0000" stop-color="#ff4500"/></linearGradient><linearGradient id="g200" x1="0" y1="0" x2="0" y2="1"><stop offset="0.0000" stop-color="#000096"/><stop offset="0.0815" stop-color="#0000ce"/><stop offset="0.1573" stop-color="#0006ff"/><stop offset="0.2107" stop-color="#0029ff"/><stop offset="0.4045" stop-color="#0049ff"/><stop offset="0.4719" stop-color="#007aff"/><stop offset="0.5309" stop-color="#00a9ff"/><stop offset="0.6208" stop-color="#00caff"/><stop offset="0.8708" stop-color="#00e4ff"/><stop offset="0.8876" stop-color="#00f2ff"/><stop offset="0.9017" stop-color="#0afff5"/><stop offset="0.9242" stop-color="#35ffca"/><stop offset="0.9522" stop-color="#90ff6f"/><stop offset="0.9691" stop-color="#e4ff1b"/><stop offset="0.9719" stop-color="#fdff02"/><stop offset="0.9860" stop-color="#ff7500"/><stop offset="1.0000" stop-color="#ff4f00"/></linearGradient><linearGradient id="g201" x1="0" y1="0" x2="0" y2="1"><stop offset="0.0000" stop-color="#000096"/><stop offset="0.1770" stop-color="#0006ff"/><stop offset="0.2247" stop-color="#001bff"/><stop offset="0.4185" stop-color="#004dff"/><stop offset="0.5815" stop-color="#00b7ff"/><stop offset="0.8090" stop-color="#00fbff"/><stop offset="0.8848" stop-color="#41ffbe"/><stop offset="0.9242" stop-color="#97ff68"/><stop offset="0.9551" stop-color="#fffb00"/><stop offset="0.9719" stop-color="#ffa700"/><stop offset="0.9860" stop-color="#ff3d00"/><stop offset="1.0000" stop-color="#ff1b00"/></linearGradient><linearGradient id="g202" x1="0" y1="0" x2="0" y2="1"><stop offset="0.0000" stop-color="#000096"/><stop offset="0.2051" stop-color="#0005ff"/><stop offset="0.4354" stop-color="#0051ff"/><stop offset="0.6376" stop-color="#00c8ff"/><stop offset="0.7781" stop-color="#06fff9"/><stop offset="0.8062" stop-color="#19ffe6"/><stop offset="0.8904" stop-color="#a0ff5f"/><stop offset="0.9270" stop-color="#fffa00"/><stop offset="0.9607" stop-color="#ff7f00"/><stop offset="0.9803" stop-color="#ff1f00"/><stop offset="0.9860" stop-color="#ff0400"/><stop offset="1.0000" stop-color="#e50000"/></linearGradient><linearGradient id="g203" x1="0" y1="0" x2="0" y2="1"><stop offset="0.0000" stop-color="#000096"/><stop offset="0.2472" stop-color="#0003ff"/><stop offset="0.5028" stop-color="#006dff"/><stop offset="0.7360" stop-color="#04fffb"/><stop offset="0.8034" stop-color="#33ffcc"/><stop offset="0.8961" stop-color="#fffd00"/><stop offset="0.9551" stop-color="#ff3200"/><stop offset="0.9691" stop-color="#fb0000"/><stop offset="0.9916" stop-color="#c00000"/><stop offset="1.0000" stop-color="#b00000"/></linearGradient><linearGradient id="g204" x1="0" y1="0" x2="0" y2="1"><stop offset="0.0000" stop-color="#000094"/><stop offset="0.2640" stop-color="#0006ff"/><stop offset="0.5253" stop-color="#006eff"/><stop offset="0.7669" stop-color="#06fff9"/><stop offset="0.8034" stop-color="#22ffdd"/><stop offset="0.9073" stop-color="#fffb00"/><stop offset="0.9747" stop-color="#ff1b00"/><stop offset="0.9888" stop-color="#f90000"/><stop offset="1.0000" stop-color="#cb0000"/></linearGradient><linearGradient id="g205" x1="0" y1="0" x2="0" y2="1"><stop offset="0.0000" stop-color="#000090"/><stop offset="0.1404" stop-color="#0000d1"/><stop offset="0.2360" stop-color="#0000f9"/><stop offset="0.3343" stop-color="#0027ff"/><stop offset="0.5337" stop-color="#0062ff"/><stop offset="0.8062" stop-color="#00e5ff"/><stop offset="0.8343" stop-color="#08fff7"/><stop offset="0.9129" stop-color="#72ff8d"/><stop offset="0.9438" stop-color="#c3ff3c"/><stop offset="0.9607" stop-color="#fdff02"/><stop offset="0.9888" stop-color="#ff9a00"/><stop offset="1.0000" stop-color="#ff3600"/></linearGradient><linearGradient id="g206" x1="0" y1="0" x2="0" y2="1"><stop offset="0.0000" stop-color="#00008c"/><stop offset="0.1208" stop-color="#0000cd"/><stop offset="0.2135" stop-color="#0000ea"/><stop offset="0.2556" stop-color="#0009ff"/><stop offset="0.3118" stop-color="#0029ff"/><stop offset="0.5197" stop-color="#004cff"/><stop offset="0.8876" stop-color="#00c2ff"/><stop offset="0.9213" stop-color="#00d5ff"/><stop offset="0.9410" stop-color="#06fff9"/><stop offset="0.9579" stop-color="#3affc5"/><stop offset="0.9775" stop-color="#8dff72"/><stop offset="0.9888" stop-color="#c6ff39"/><stop offset="0.9916" stop-color="#e3ff1c"/><stop offset="0.9944" stop-color="#fff100"/><stop offset="1.0000" stop-color="#ff9f00"/></linearGradient><linearGradient id="g207" x1="0" y1="0" x2="0" y2="1"><stop offset="0.0000" stop-color="#00008c"/><stop offset="0.1208" stop-color="#0000cd"/><stop offset="0.2135" stop-color="#0000ea"/><stop offset="0.2556" stop-color="#0009ff"/><stop offset="0.3118" stop-color="#0029ff"/><stop offset="0.5197" stop-color="#004cff"/><stop offset="0.8876" stop-color="#00c2ff"/><stop offset="0.9213" stop-color="#00d5ff"/><stop offset="0.9382" stop-color="#01fffe"/><stop offset="0.9579" stop-color="#40ffbf"/><stop offset="0.9775" stop-color="#98ff67"/><stop offset="0.9888" stop-color="#d3ff2c"/><stop offset="0.9916" stop-color="#f1ff0e"/><stop offset="0.9944" stop-color="#ffe400"/><stop offset="1.0000" stop-color="#ff9100"/></linearGradient><linearGradient id="g208" x1="0" y1="0" x2="0" y2="1"><stop offset="0.0000" stop-color="#000091"/><stop offset="0.1433" stop-color="#0000e0"/><stop offset="0.2247" stop-color="#0007ff"/><stop offset="0.3174" stop-color="#0035ff"/><stop offset="0.5421" stop-color="#006aff"/><stop offset="0.8034" stop-color="#00c1ff"/><stop offset="0.9017" stop-color="#00faff"/><stop offset="0.9213" stop-color="#0efff1"/><stop offset="0.9551" stop-color="#77ff88"/><stop offset="0.9719" stop-color="#c3ff3c"/><stop offset="0.9803" stop-color="#fffe00"/><stop offset="0.9916" stop-color="#ffb200"/><stop offset="1.0000" stop-color="#ff4f00"/></linearGradient><linearGradient id="g209" x1="0" y1="0" x2="0" y2="1"><stop offset="0.0000" stop-color="#000096"/><stop offset="0.1826" stop-color="#0005ff"/><stop offset="0.3343" stop-color="#0045ff"/><stop offset="0.5337" stop-color="#007dff"/><stop offset="0.7416" stop-color="#00c3ff"/><stop offset="0.8596" stop-color="#06fff9"/><stop offset="0.9045" stop-color="#30ffcf"/><stop offset="0.9242" stop-color="#4effb1"/><stop offset="0.9551" stop-color="#b9ff46"/><stop offset="0.9691" stop-color="#f6ff09"/><stop offset="0.9719" stop-color="#fff300"/><stop offset="0.9860" stop-color="#ff7700"/><stop offset="0.9916" stop-color="#ff5800"/><stop offset="1.0000" stop-color="#ff0e00"/></linearGradient><linearGradient id="g210" x1="0" y1="0" x2="0" y2="1"><stop offset="0.0000" stop-color="#00009b"/><stop offset="0.1573" stop-color="#0006ff"/><stop offset="0.2219" stop-color="#002dff"/><stop offset="0.5281" stop-color="#0091ff"/><stop offset="0.6517" stop-color="#00bbff"/><stop offset="0.7275" stop-color="#00d5ff"/><stop offset="0.8090" stop-color="#06fff9"/><stop offset="0.8876" stop-color="#48ffb7"/><stop offset="0.9242" stop-color="#87ff78"/><stop offset="0.9551" stop-color="#fbff04"/><stop offset="0.9691" stop-color="#ffc300"/><stop offset="0.9860" stop-color="#ff1500"/><stop offset="0.9916" stop-color="#fc0000"/><stop offset="1.0000" stop-color="#cc0000"/></linearGradient><linearGradient id="g211" x1="0" y1="0" x2="0" y2="1"><stop offset="0.0000" stop-color="#0000a0"/><stop offset="0.1376" stop-color="#0004ff"/><stop offset="0.2079" stop-color="#003eff"/><stop offset="0.3427" stop-color="#0061ff"/><stop offset="0.5253" stop-color="#00a5ff"/><stop offset="0.6320" stop-color="#00ceff"/><stop offset="0.7163" stop-color="#00e7ff"/><stop offset="0.7640" stop-color="#07fff8"/><stop offset="0.8680" stop-color="#5cffa3"/><stop offset="0.8933" stop-color="#7fff80"/><stop offset="0.9242" stop-color="#c0ff3f"/><stop offset="0.9410" stop-color="#fffc00"/><stop offset="0.9691" stop-color="#ff7c00"/><stop offset="0.9775" stop-color="#ff1500"/><stop offset="0.9803" stop-color="#ef0000"/><stop offset="0.9860" stop-color="#af0000"/><stop offset="1.0000" stop-color="#870000"/></linearGradient><linearGradient id="g212" x1="0" y1="0" x2="0" y2="1"><stop offset="0.0000" stop-color="#0000a0"/><stop offset="0.1376" stop-color="#0004ff"/><stop offset="0.2079" stop-color="#003eff"/><stop offset="0.3427" stop-color="#0061ff"/><stop offset="0.5253" stop-color="#00a5ff"/><stop offset="0.6320" stop-color="#00ceff"/><stop offset="0.7163" stop-color="#00e7ff"/><stop offset="0.7640" stop-color="#07fff8"/><stop offset="0.8680" stop-color="#5cffa3"/><stop offset="0.8933" stop-color="#7fff80"/><stop offset="0.9242" stop-color="#c0ff3f"/><stop offset="0.9410" stop-color="#fffa00"/><stop offset="0.9691" stop-color="#ff7300"/><stop offset="0.9775" stop-color="#ff0a00"/><stop offset="0.9831" stop-color="#be0000"/><stop offset="0.9860" stop-color="#a20000"/><stop offset="1.0000" stop-color="#800000"/></linearGradient><linearGradient id="g213" x1="0" y1="0" x2="0" y2="1"><stop offset="0.0000" stop-color="#0000a0"/><stop offset="0.1376" stop-color="#0004ff"/><stop offset="0.2079" stop-color="#003eff"/><stop offset="0.3427" stop-color="#0061ff"/><stop offset="0.5253" stop-color="#00a5ff"/><stop offset="0.6320" stop-color="#00ceff"/><stop offset="0.7163" stop-color="#00e7ff"/><stop offset="0.7640" stop-color="#07fff8"/><stop offset="0.8680" stop-color="#5cffa3"/><stop offset="0.8933" stop-color="#7fff80"/><stop offset="0.9242" stop-color="#c0ff3f"/><stop offset="0.9382" stop-color="#f9ff06"/><stop offset="0.9607" stop-color="#ff9700"/><stop offset="0.9691" stop-color="#ff6b00"/><stop offset="0.9775" stop-color="#fe0200"/><stop offset="0.9860" stop-color="#970000"/><stop offset="0.9944" stop-color="#800000"/><stop offset="1.0000" stop-color="#800000"/></linearGradient><linearGradient id="g214" x1="0" y1="0" x2="0" y2="1"><stop offset="0.0000" stop-color="#0000a0"/><stop offset="0.1376" stop-color="#0004ff"/><stop offset="0.2079" stop-color="#003eff"/><stop offset="0.3427" stop-color="#0061ff"/><stop offset="0.5253" stop-color="#00a5ff"/><stop offset="0.6320" stop-color="#00ceff"/><stop offset="0.7163" stop-color="#00e7ff"/><stop offset="0.7640" stop-color="#07fff8"/><stop offset="0.8680" stop-color="#5cffa3"/><stop offset="0.8933" stop-color="#7fff80"/><stop offset="0.9242" stop-color="#c0ff3f"/><stop offset="0.9410" stop-color="#fffb00"/><stop offset="0.9691" stop-color="#ff7700"/><stop offset="0.9775" stop-color="#ff0f00"/><stop offset="0.9803" stop-color="#e90000"/><stop offset="0.9860" stop-color="#a80000"/><stop offset="1.0000" stop-color="#810000"/></linearGradient><linearGradient id="g215" x1="0" y1="0" x2="0" y2="1"><stop offset="0.0000" stop-color="#0000a0"/><stop offset="0.1376" stop-color="#0004ff"/><stop offset="0.2079" stop-color="#003eff"/><stop offset="0.3427" stop-color="#0061ff"/><stop offset="0.5253" stop-color="#00a5ff"/><stop offset="0.6320" stop-color="#00ceff"/><stop offset="0.7163" stop-color="#00e7ff"/><stop offset="0.7640" stop-color="#07fff8"/><stop offset="0.8680" stop-color="#5cffa3"/><stop offset="0.8933" stop-color="#7fff80"/><stop offset="0.9242" stop-color="#c0ff3f"/><stop offset="0.9410" stop-color="#fffd00"/><stop offset="0.9691" stop-color="#ff7e00"/><stop offset="0.9775" stop-color="#ff1800"/><stop offset="0.9803" stop-color="#f20000"/><stop offset="0.9860" stop-color="#b20000"/><stop offset="1.0000" stop-color="#8a0000"/></linearGradient><linearGradient id="g216" x1="0" y1="0" x2="0" y2="1"><stop offset="0.0000" stop-color="#00009e"/><stop offset="0.1320" stop-color="#0000fb"/><stop offset="0.2107" stop-color="#003aff"/><stop offset="0.3624" stop-color="#005fff"/><stop offset="0.5281" stop-color="#009aff"/><stop offset="0.6461" stop-color="#00c5ff"/><stop offset="0.7247" stop-color="#00e0ff"/><stop offset="0.7893" stop-color="#07fff8"/><stop offset="0.8848" stop-color="#54ffab"/><stop offset="0.9242" stop-color="#a4ff5b"/><stop offset="0.9494" stop-color="#feff01"/><stop offset="0.9691" stop-color="#ffa700"/><stop offset="0.9831" stop-color="#f90000"/><stop offset="0.9860" stop-color="#de0000"/><stop offset="1.0000" stop-color="#b00000"/></linearGradient><linearGradient id="g217" x1="0" y1="0" x2="0" y2="1"><stop offset="0.0000" stop-color="#00009c"/><stop offset="0.1320" stop-color="#0000f7"/><stop offset="0.1770" stop-color="#0020ff"/><stop offset="0.2135" stop-color="#0036ff"/><stop offset="0.4101" stop-color="#0063ff"/><stop offset="0.5365" stop-color="#0091ff"/><stop offset="0.7416" stop-color="#00ddff"/><stop offset="0.8146" stop-color="#05fffa"/><stop offset="0.8848" stop-color="#39ffc6"/><stop offset="0.9270" stop-color="#91ff6e"/><stop offset="0.9551" stop-color="#f0ff0f"/><stop offset="0.9607" stop-color="#fff500"/><stop offset="0.9691" stop-color="#ffd000"/><stop offset="0.9803" stop-color="#ff4900"/><stop offset="0.9860" stop-color="#ff0900"/><stop offset="0.9916" stop-color="#f30000"/><stop offset="1.0000" stop-color="#d60000"/></linearGradient><linearGradient id="g218" x1="0" y1="0" x2="0" y2="1"><stop offset="0.0000" stop-color="#00009a"/><stop offset="0.1320" stop-color="#0000f4"/><stop offset="0.1601" stop-color="#000dff"/><stop offset="0.2079" stop-color="#0031ff"/><stop offset="0.4438" stop-color="#0061ff"/><stop offset="0.8034" stop-color="#00ecff"/><stop offset="0.8567" stop-color="#08fff7"/><stop offset="0.8848" stop-color="#1effe1"/><stop offset="0.9326" stop-color="#84ff7b"/><stop offset="0.9551" stop-color="#caff35"/><stop offset="0.9691" stop-color="#fff800"/><stop offset="0.9803" stop-color="#ff7200"/><stop offset="0.9860" stop-color="#ff3300"/><stop offset="1.0000" stop-color="#fb0000"/></linearGradient><linearGradient id="g219" x1="0" y1="0" x2="0" y2="1"><stop offset="0.0000" stop-color="#000098"/><stop offset="0.1320" stop-color="#0000f1"/><stop offset="0.1601" stop-color="#000aff"/><stop offset="0.2079" stop-color="#002dff"/><stop offset="0.4466" stop-color="#0056ff"/><stop offset="0.8848" stop-color="#02fffd"/><stop offset="0.9494" stop-color="#8eff71"/><stop offset="0.9691" stop-color="#deff21"/><stop offset="0.9719" stop-color="#f9ff06"/><stop offset="0.9860" stop-color="#ff5d00"/><stop offset="1.0000" stop-color="#ff2000"/></linearGradient><linearGradient id="g220" x1="0" y1="0" x2="0" y2="1"><stop offset="0.0000" stop-color="#000096"/><stop offset="0.1320" stop-color="#0000ed"/><stop offset="0.1629" stop-color="#0009ff"/><stop offset="0.2079" stop-color="#0029ff"/><stop offset="0.4354" stop-color="#0047ff"/><stop offset="0.8062" stop-color="#00caff"/><stop offset="0.8820" stop-color="#00e0ff"/><stop offset="0.8989" stop-color="#04fffb"/><stop offset="0.9522" stop-color="#72ff8d"/><stop offset="0.9691" stop-color="#b3ff4c"/><stop offset="0.9747" stop-color="#f0ff0f"/><stop offset="0.9775" stop-color="#ffeb00"/><stop offset="0.9860" stop-color="#ff8b00"/><stop offset="1.0000" stop-color="#ff4800"/></linearGradient><linearGradient id="g221" x1="0" y1="0" x2="0" y2="1"><stop offset="0.0000" stop-color="#000096"/><stop offset="0.1320" stop-color="#0000ed"/><stop offset="0.1629" stop-color="#0009ff"/><stop offset="0.2079" stop-color="#0029ff"/><stop offset="0.4354" stop-color="#0047ff"/><stop offset="0.8062" stop-color="#00caff"/><stop offset="0.8820" stop-color="#00e0ff"/><stop offset="0.8989" stop-color="#04fffb"/><stop offset="0.9522" stop-color="#6fff90"/><stop offset="0.9691" stop-color="#aeff51"/><stop offset="0.9747" stop-color="#ebff14"/><stop offset="0.9775" stop-color="#fff100"/><stop offset="0.9860" stop-color="#ff9100"/><stop offset="1.0000" stop-color="#ff5000"/></linearGradient><linearGradient id="g222" x1="0" y1="0" x2="0" y2="1"><stop offset="0.0000" stop-color="#000095"/><stop offset="0.1461" stop-color="#0000f1"/><stop offset="0.1798" stop-color="#000cff"/><stop offset="0.2163" stop-color="#001dff"/><stop offset="0.4691" stop-color="#004cff"/><stop offset="0.8511" stop-color="#00cfff"/><stop offset="0.8820" stop-color="#00dcff"/><stop offset="0.9017" stop-color="#06fff9"/><stop offset="0.9522" stop-color="#77ff88"/><stop offset="0.9691" stop-color="#bbff44"/><stop offset="0.9747" stop-color="#f7ff08"/><stop offset="0.9860" stop-color="#ff8700"/><stop offset="0.9944" stop-color="#ff5700"/><stop offset="1.0000" stop-color="#ff5300"/></linearGradient><linearGradient id="g223" x1="0" y1="0" x2="0" y2="1"><stop offset="0.0000" stop-color="#000093"/><stop offset="0.1882" stop-color="#0006ff"/><stop offset="0.5197" stop-color="#0056ff"/><stop offset="0.8820" stop-color="#00d8ff"/><stop offset="0.9017" stop-color="#03fffc"/><stop offset="0.9522" stop-color="#7fff80"/><stop offset="0.9691" stop-color="#c8ff37"/><stop offset="0.9747" stop-color="#fffb00"/><stop offset="0.9860" stop-color="#ff7c00"/><stop offset="0.9944" stop-color="#ff4400"/><stop offset="1.0000" stop-color="#ff5600"/></linearGradient><linearGradient id="g224" x1="0" y1="0" x2="0" y2="1"><stop offset="0.0000" stop-color="#000092"/><stop offset="0.2079" stop-color="#0003ff"/><stop offset="0.3399" stop-color="#001eff"/><stop offset="0.6152" stop-color="#0072ff"/><stop offset="0.8820" stop-color="#00d3ff"/><stop offset="0.9045" stop-color="#05fffa"/><stop offset="0.9438" stop-color="#6aff95"/><stop offset="0.9579" stop-color="#a1ff5e"/><stop offset="0.9691" stop-color="#d5ff2a"/><stop offset="0.9719" stop-color="#efff10"/><stop offset="0.9747" stop-color="#ffee00"/><stop offset="0.9860" stop-color="#ff7100"/><stop offset="0.9944" stop-color="#ff3100"/><stop offset="1.0000" stop-color="#ff5900"/></linearGradient><linearGradient id="g225" x1="0" y1="0" x2="0" y2="1"><stop offset="0.0000" stop-color="#000090"/><stop offset="0.2191" stop-color="#0000f7"/><stop offset="0.3118" stop-color="#000aff"/><stop offset="0.4298" stop-color="#0036ff"/><stop offset="0.5815" stop-color="#005fff"/><stop offset="0.8820" stop-color="#00cfff"/><stop offset="0.9045" stop-color="#02fffd"/><stop offset="0.9298" stop-color="#43ffbc"/><stop offset="0.9522" stop-color="#8eff71"/><stop offset="0.9691" stop-color="#e2ff1d"/><stop offset="0.9719" stop-color="#fcff03"/><stop offset="0.9888" stop-color="#ff4e00"/><stop offset="0.9944" stop-color="#ff1e00"/><stop offset="0.9972" stop-color="#ff3600"/><stop offset="1.0000" stop-color="#ff5b00"/></linearGradient><linearGradient id="g226" x1="0" y1="0" x2="0" y2="1"><stop offset="0.0000" stop-color="#00008f"/><stop offset="0.2247" stop-color="#0000eb"/><stop offset="0.3258" stop-color="#0007ff"/><stop offset="0.4185" stop-color="#0031ff"/><stop offset="0.5590" stop-color="#0051ff"/><stop offset="0.8792" stop-color="#00c6ff"/><stop offset="0.9073" stop-color="#05fffa"/><stop offset="0.9270" stop-color="#3affc5"/><stop offset="0.9522" stop-color="#96ff69"/><stop offset="0.9691" stop-color="#efff10"/><stop offset="0.9719" stop-color="#fff500"/><stop offset="0.9916" stop-color="#ff2500"/><stop offset="0.9944" stop-color="#ff0a00"/><stop offset="0.9972" stop-color="#ff2c00"/><stop offset="1.0000" stop-color="#ff5e00"/></linearGradient><linearGradient id="g227" x1="0" y1="0" x2="0" y2="1"><stop offset="0.0000" stop-color="#00008d"/><stop offset="0.2135" stop-color="#0000dc"/><stop offset="0.3146" stop-color="#0000f5"/><stop offset="0.3596" stop-color="#0012ff"/><stop offset="0.4157" stop-color="#002dff"/><stop offset="0.5506" stop-color="#0048ff"/><stop offset="0.8258" stop-color="#00a9ff"/><stop offset="0.8820" stop-color="#00c7ff"/><stop offset="0.9073" stop-color="#01fffe"/><stop offset="0.9242" stop-color="#2effd1"/><stop offset="0.9522" stop-color="#9eff61"/><stop offset="0.9691" stop-color="#fcff03"/><stop offset="0.9803" stop-color="#ff8d00"/><stop offset="0.9916" stop-color="#ff1500"/><stop offset="0.9944" stop-color="#f60000"/><stop offset="0.9972" stop-color="#ff2200"/><stop offset="1.0000" stop-color="#ff6100"/></linearGradient><linearGradient id="g228" x1="0" y1="0" x2="0" y2="1"><stop offset="0.0000" stop-color="#00008c"/><stop offset="0.1657" stop-color="#0000c4"/><stop offset="0.3118" stop-color="#0000e9"/><stop offset="0.3539" stop-color="#0008ff"/><stop offset="0.4129" stop-color="#0029ff"/><stop offset="0.5449" stop-color="#003fff"/><stop offset="0.7978" stop-color="#0095ff"/><stop offset="0.8820" stop-color="#00c3ff"/><stop offset="0.9101" stop-color="#05fffa"/><stop offset="0.9242" stop-color="#2dffd2"/><stop offset="0.9522" stop-color="#a6ff59"/><stop offset="0.9663" stop-color="#f8ff07"/><stop offset="0.9691" stop-color="#fff500"/><stop offset="0.9916" stop-color="#ff0400"/><stop offset="0.9944" stop-color="#e30000"/><stop offset="0.9972" stop-color="#ff1800"/><stop offset="1.0000" stop-color="#ff6400"/></linearGradient><linearGradient id="g229" x1="0" y1="0" x2="0" y2="1"><stop offset="0.0000" stop-color="#000091"/><stop offset="0.2331" stop-color="#0000f3"/><stop offset="0.3062" stop-color="#0009ff"/><stop offset="0.4157" stop-color="#0043ff"/><stop offset="0.5730" stop-color="#0066ff"/><stop offset="0.7331" stop-color="#009aff"/><stop offset="0.8820" stop-color="#00f1ff"/><stop offset="0.8933" stop-color="#09fff6"/><stop offset="0.9213" stop-color="#46ffb9"/><stop offset="0.9522" stop-color="#c5ff3a"/><stop offset="0.9635" stop-color="#fffd00"/><stop offset="0.9691" stop-color="#ffde00"/><stop offset="0.9888" stop-color="#ff0d00"/><stop offset="0.9916" stop-color="#f20000"/><stop offset="0.9944" stop-color="#d70000"/><stop offset="0.9972" stop-color="#fc0000"/><stop offset="1.0000" stop-color="#ff3300"/></linearGradient><linearGradient id="g230" x1="0" y1="0" x2="0" y2="1"><stop offset="0.0000" stop-color="#000096"/><stop offset="0.1938" stop-color="#0006ff"/><stop offset="0.3483" stop-color="#0040ff"/><stop offset="0.4326" stop-color="#0061ff"/><stop offset="0.7163" stop-color="#00afff"/><stop offset="0.8483" stop-color="#06fff9"/><stop offset="0.8848" stop-color="#26ffd9"/><stop offset="0.9213" stop-color="#6cff93"/><stop offset="0.9551" stop-color="#f1ff0e"/><stop offset="0.9579" stop-color="#ffff00"/><stop offset="0.9691" stop-color="#ffc700"/><stop offset="0.9860" stop-color="#ff0a00"/><stop offset="0.9916" stop-color="#e00000"/><stop offset="0.9944" stop-color="#cb0000"/><stop offset="1.0000" stop-color="#ff0200"/></linearGradient><linearGradient id="g231" x1="0" y1="0" x2="0" y2="1"><stop offset="0.0000" stop-color="#00009b"/><stop offset="0.1348" stop-color="#0000f2"/><stop offset="0.1657" stop-color="#000cff"/><stop offset="0.2191" stop-color="#002fff"/><stop offset="0.4635" stop-color="#0083ff"/><stop offset="0.7135" stop-color="#00caff"/><stop offset="0.7949" stop-color="#06fff9"/><stop offset="0.8876" stop-color="#58ffa7"/><stop offset="0.9213" stop-color="#91ff6e"/><stop offset="0.9522" stop-color="#fffc00"/><stop offset="0.9691" stop-color="#ffb000"/><stop offset="0.9831" stop-color="#ff0900"/><stop offset="0.9888" stop-color="#dd0000"/><stop offset="0.9944" stop-color="#bf0000"/><stop offset="1.0000" stop-color="#d10000"/></linearGradient><linearGradient id="g232" x1="0" y1="0" x2="0" y2="1"><stop offset="0.0000" stop-color="#0000a0"/><stop offset="0.1208" stop-color="#0000f6"/><stop offset="0.1517" stop-color="#0016ff"/><stop offset="0.2107" stop-color="#004aff"/><stop offset="0.4803" stop-color="#00a4ff"/><stop offset="0.7107" stop-color="#00e5ff"/><stop offset="0.7500" stop-color="#06fff9"/><stop offset="0.8933" stop-color="#8dff72"/><stop offset="0.9213" stop-color="#b6ff49"/><stop offset="0.9438" stop-color="#fffb00"/><stop offset="0.9691" stop-color="#ff9a00"/><stop offset="0.9775" stop-color="#ff3400"/><stop offset="0.9803" stop-color="#ff1000"/><stop offset="0.9831" stop-color="#ea0000"/><stop offset="0.9860" stop-color="#cf0000"/><stop offset="1.0000" stop-color="#a00000"/></linearGradient><linearGradient id="g233" x1="0" y1="0" x2="0" y2="1"><stop offset="0.0000" stop-color="#000099"/><stop offset="0.1292" stop-color="#0000e9"/><stop offset="0.1657" stop-color="#0008ff"/><stop offset="0.2191" stop-color="#002bff"/><stop offset="0.4944" stop-color="#0087ff"/><stop offset="0.7135" stop-color="#00c2ff"/><stop offset="0.8090" stop-color="#04fffb"/><stop offset="0.8989" stop-color="#56ffa9"/><stop offset="0.9242" stop-color="#7cff83"/><stop offset="0.9522" stop-color="#ceff31"/><stop offset="0.9635" stop-color="#feff01"/><stop offset="0.9691" stop-color="#ffe800"/><stop offset="0.9860" stop-color="#ff3b00"/><stop offset="0.9944" stop-color="#ff0b00"/><stop offset="1.0000" stop-color="#e00000"/></linearGradient><linearGradient id="g234" x1="0" y1="0" x2="0" y2="1"><stop offset="0.0000" stop-color="#000091"/><stop offset="0.1517" stop-color="#0000e2"/><stop offset="0.2079" stop-color="#0005ff"/><stop offset="0.4270" stop-color="#0044ff"/><stop offset="0.5337" stop-color="#0071ff"/><stop offset="0.7219" stop-color="#00a1ff"/><stop offset="0.8455" stop-color="#00eaff"/><stop offset="0.8820" stop-color="#06fff9"/><stop offset="0.9242" stop-color="#37ffc8"/><stop offset="0.9522" stop-color="#7bff84"/><stop offset="0.9691" stop-color="#c8ff37"/><stop offset="0.9747" stop-color="#f7ff08"/><stop offset="0.9831" stop-color="#ffba00"/><stop offset="0.9916" stop-color="#ff8200"/><stop offset="1.0000" stop-color="#ff2100"/></linearGradient><linearGradient id="g235" x1="0" y1="0" x2="0" y2="1"><stop offset="0.0000" stop-color="#00008a"/><stop offset="0.2388" stop-color="#0000e9"/><stop offset="0.3680" stop-color="#0007ff"/><stop offset="0.4270" stop-color="#001dff"/><stop offset="0.5197" stop-color="#004dff"/><stop offset="0.7528" stop-color="#0086ff"/><stop offset="0.8483" stop-color="#00b4ff"/><stop offset="0.9213" stop-color="#00eeff"/><stop offset="0.9382" stop-color="#0afff5"/><stop offset="0.9522" stop-color="#28ffd7"/><stop offset="0.9719" stop-color="#8bff74"/><stop offset="0.9860" stop-color="#eeff11"/><stop offset="0.9888" stop-color="#fbff04"/><stop offset="0.9916" stop-color="#ffe400"/><stop offset="1.0000" stop-color="#ff6000"/></linearGradient><linearGradient id="g236" x1="0" y1="0" x2="0" y2="1"><stop offset="0.0000" stop-color="#000082"/><stop offset="0.2865" stop-color="#0000cf"/><stop offset="0.4101" stop-color="#0000e8"/><stop offset="0.4551" stop-color="#0009ff"/><stop offset="0.5140" stop-color="#002bff"/><stop offset="0.8202" stop-color="#006eff"/><stop offset="0.9185" stop-color="#00a9ff"/><stop offset="0.9494" stop-color="#00c7ff"/><stop offset="0.9607" stop-color="#00ffff"/><stop offset="0.9888" stop-color="#92ff6d"/><stop offset="0.9916" stop-color="#b8ff47"/><stop offset="0.9944" stop-color="#efff10"/><stop offset="0.9972" stop-color="#ffd700"/><stop offset="1.0000" stop-color="#ffa000"/></linearGradient><linearGradient id="g237" x1="0" y1="0" x2="0" y2="1"><stop offset="0.0000" stop-color="#000082"/><stop offset="0.2865" stop-color="#0000cf"/><stop offset="0.4101" stop-color="#0000e8"/><stop offset="0.4551" stop-color="#0009ff"/><stop offset="0.5140" stop-color="#002bff"/><stop offset="0.8202" stop-color="#006eff"/><stop offset="0.9185" stop-color="#00a9ff"/><stop offset="0.9494" stop-color="#00c8ff"/><stop offset="0.9607" stop-color="#00ffff"/><stop offset="0.9888" stop-color="#92ff6d"/><stop offset="0.9916" stop-color="#b8ff47"/><stop offset="0.9944" stop-color="#efff10"/><stop offset="0.9972" stop-color="#ffd700"/><stop offset="1.0000" stop-color="#ffa000"/></linearGradient><linearGradient id="g238" x1="0" y1="0" x2="0" y2="1"><stop offset="0.0000" stop-color="#000082"/><stop offset="0.2865" stop-color="#0000cf"/><stop offset="0.4101" stop-color="#0000e8"/><stop offset="0.4522" stop-color="#0008ff"/><stop offset="0.5169" stop-color="#002eff"/><stop offset="0.8287" stop-color="#007aff"/><stop offset="0.9213" stop-color="#00afff"/><stop offset="0.9494" stop-color="#00c9ff"/><stop offset="0.9607" stop-color="#01fffe"/><stop offset="0.9888" stop-color="#92ff6d"/><stop offset="0.9916" stop-color="#b8ff47"/><stop offset="0.9944" stop-color="#efff10"/><stop offset="0.9972" stop-color="#ffd700"/><stop offset="1.0000" stop-color="#ffa000"/></linearGradient><linearGradient id="g239" x1="0" y1="0" x2="0" y2="1"><stop offset="0.0000" stop-color="#000082"/><stop offset="0.2865" stop-color="#0000cf"/><stop offset="0.4101" stop-color="#0000e8"/><stop offset="0.4494" stop-color="#0006ff"/><stop offset="0.5169" stop-color="#0031ff"/><stop offset="0.7612" stop-color="#0070ff"/><stop offset="0.8680" stop-color="#0092ff"/><stop offset="0.9494" stop-color="#00cbff"/><stop offset="0.9607" stop-color="#01fffe"/><stop offset="0.9888" stop-color="#92ff6d"/><stop offset="0.9916" stop-color="#b8ff47"/><stop offset="0.9944" stop-color="#efff10"/><stop offset="0.9972" stop-color="#ffd700"/><stop offset="1.0000" stop-color="#ffa000"/></linearGradient><linearGradient id="g240" x1="0" y1="0" x2="0" y2="1"><stop offset="0.0000" stop-color="#000082"/><stop offset="0.2865" stop-color="#0000cf"/><stop offset="0.4101" stop-color="#0000e9"/><stop offset="0.4494" stop-color="#0007ff"/><stop offset="0.5197" stop-color="#0035ff"/><stop offset="0.7360" stop-color="#0077ff"/><stop offset="0.8483" stop-color="#0091ff"/><stop offset="0.9326" stop-color="#00bfff"/><stop offset="0.9494" stop-color="#00cdff"/><stop offset="0.9607" stop-color="#02fffd"/><stop offset="0.9888" stop-color="#92ff6d"/><stop offset="0.9916" stop-color="#b8ff47"/><stop offset="0.9944" stop-color="#efff10"/><stop offset="0.9972" stop-color="#ffd700"/><stop offset="1.0000" stop-color="#ffa000"/></linearGradient><linearGradient id="g241" x1="0" y1="0" x2="0" y2="1"><stop offset="0.0000" stop-color="#000082"/><stop offset="0.2865" stop-color="#0000cf"/><stop offset="0.4101" stop-color="#0000e9"/><stop offset="0.4494" stop-color="#0008ff"/><stop offset="0.5253" stop-color="#003aff"/><stop offset="0.7247" stop-color="#0080ff"/><stop offset="0.8539" stop-color="#009aff"/><stop offset="0.9438" stop-color="#00cbff"/><stop offset="0.9522" stop-color="#00daff"/><stop offset="0.9607" stop-color="#03fffc"/><stop offset="0.9888" stop-color="#92ff6d"/><stop offset="0.9916" stop-color="#b8ff47"/><stop offset="0.9944" stop-color="#efff10"/><stop offset="0.9972" stop-color="#ffd700"/><stop offset="1.0000" stop-color="#ffa000"/></linearGradient><linearGradient id="g242" x1="0" y1="0" x2="0" y2="1"><stop offset="0.0000" stop-color="#000082"/><stop offset="0.2865" stop-color="#0000cf"/><stop offset="0.4101" stop-color="#0000e9"/><stop offset="0.4466" stop-color="#0007ff"/><stop offset="0.5309" stop-color="#0041ff"/><stop offset="0.7135" stop-color="#008dff"/><stop offset="0.8736" stop-color="#00a8ff"/><stop offset="0.9494" stop-color="#00d2ff"/><stop offset="0.9607" stop-color="#04fffb"/><stop offset="0.9888" stop-color="#92ff6d"/><stop offset="0.9916" stop-color="#b8ff47"/><stop offset="0.9944" stop-color="#efff10"/><stop offset="0.9972" stop-color="#ffd700"/><stop offset="1.0000" stop-color="#ffa000"/></linearGradient><linearGradient id="g243" x1="0" y1="0" x2="0" y2="1"><stop offset="0.0000" stop-color="#000082"/><stop offset="0.3371" stop-color="#0000d3"/><stop offset="0.4101" stop-color="#0000e5"/><stop offset="0.4522" stop-color="#0008ff"/><stop offset="0.5197" stop-color="#0035ff"/><stop offset="0.7191" stop-color="#0074ff"/><stop offset="0.8961" stop-color="#008fff"/><stop offset="0.9494" stop-color="#00a5ff"/><stop offset="0.9775" stop-color="#05fffa"/><stop offset="0.9888" stop-color="#2fffd0"/><stop offset="0.9916" stop-color="#63ff9c"/><stop offset="0.9944" stop-color="#b8ff47"/><stop offset="0.9972" stop-color="#fff200"/><stop offset="1.0000" stop-color="#ff9d00"/></linearGradient><linearGradient id="g244" x1="0" y1="0" x2="0" y2="1"><stop offset="0.0000" stop-color="#000082"/><stop offset="0.4101" stop-color="#0000e2"/><stop offset="0.4551" stop-color="#0006ff"/><stop offset="0.5140" stop-color="#002dff"/><stop offset="0.7388" stop-color="#005bff"/><stop offset="0.9382" stop-color="#0076ff"/><stop offset="0.9551" stop-color="#0083ff"/><stop offset="0.9888" stop-color="#00cbff"/><stop offset="0.9916" stop-color="#0ffff0"/><stop offset="0.9972" stop-color="#f2ff0d"/><stop offset="1.0000" stop-color="#ff9a00"/></linearGradient><linearGradient id="g245" x1="0" y1="0" x2="0" y2="1"><stop offset="0.0000" stop-color="#000082"/><stop offset="0.4101" stop-color="#0000de"/><stop offset="0.4607" stop-color="#0006ff"/><stop offset="0.5112" stop-color="#0027ff"/><stop offset="0.8090" stop-color="#0043ff"/><stop offset="0.9607" stop-color="#0054ff"/><stop offset="0.9888" stop-color="#0068ff"/><stop offset="0.9916" stop-color="#00b9ff"/><stop offset="0.9944" stop-color="#49ffb6"/><stop offset="0.9972" stop-color="#d8ff27"/><stop offset="1.0000" stop-color="#ff9700"/></linearGradient><linearGradient id="g246" x1="0" y1="0" x2="0" y2="1"><stop offset="0.0000" stop-color="#000082"/><stop offset="0.4101" stop-color="#0000dc"/><stop offset="0.4635" stop-color="#0007ff"/><stop offset="0.5112" stop-color="#0024ff"/><stop offset="0.9635" stop-color="#0037ff"/><stop offset="0.9888" stop-color="#0037ff"/><stop offset="0.9916" stop-color="#008fff"/><stop offset="0.9944" stop-color="#2dffd2"/><stop offset="0.9972" stop-color="#cbff34"/><stop offset="1.0000" stop-color="#ff9600"/></linearGradient><linearGradient id="g247" x1="0" y1="0" x2="0" y2="1"><stop offset="0.0000" stop-color="#000082"/><stop offset="0.4101" stop-color="#0000dc"/><stop offset="0.4635" stop-color="#0007ff"/><stop offset="0.5112" stop-color="#0024ff"/><stop offset="0.9635" stop-color="#0037ff"/><stop offset="0.9888" stop-color="#0037ff"/><stop offset="0.9916" stop-color="#008fff"/><stop offset="0.9944" stop-color="#2dffd2"/><stop offset="0.9972" stop-color="#cbff34"/><stop offset="1.0000" stop-color="#ff9600"/></linearGradient><linearGradient id="g248" x1="0" y1="0" x2="0" y2="1"><stop offset="0.0000" stop-color="#000082"/><stop offset="0.4101" stop-color="#0000dc"/><stop offset="0.4635" stop-color="#0007ff"/><stop offset="0.5112" stop-color="#0024ff"/><stop offset="0.9635" stop-color="#0037ff"/><stop offset="0.9888" stop-color="#0037ff"/><stop offset="0.9916" stop-color="#008fff"/><stop offset="0.9944" stop-color="#2dffd2"/><stop offset="0.9972" stop-color="#cbff34"/><stop offset="1.0000" stop-color="#ff9600"/></linearGradient><linearGradient id="g249" x1="0" y1="0" x2="0" y2="1"><stop offset="0.0000" stop-color="#000082"/><stop offset="0.4101" stop-color="#0000de"/><stop offset="0.4607" stop-color="#0007ff"/><stop offset="0.5084" stop-color="#0027ff"/><stop offset="0.9213" stop-color="#0050ff"/><stop offset="0.9747" stop-color="#0099ff"/><stop offset="0.9888" stop-color="#00bbff"/><stop offset="0.9916" stop-color="#0afff5"/><stop offset="0.9944" stop-color="#90ff6f"/><stop offset="0.9972" stop-color="#fffc00"/><stop offset="1.0000" stop-color="#ff9000"/></linearGradient><linearGradient id="g250" x1="0" y1="0" x2="0" y2="1"><stop offset="0.0000" stop-color="#000082"/><stop offset="0.4101" stop-color="#0000df"/><stop offset="0.4579" stop-color="#0007ff"/><stop offset="0.5084" stop-color="#002aff"/><stop offset="0.7725" stop-color="#0043ff"/><stop offset="0.9129" stop-color="#0062ff"/><stop offset="0.9270" stop-color="#0076ff"/><stop offset="0.9719" stop-color="#00edff"/><stop offset="0.9775" stop-color="#09fff6"/><stop offset="0.9888" stop-color="#40ffbf"/><stop offset="0.9916" stop-color="#84ff7b"/><stop offset="0.9944" stop-color="#f2ff0d"/><stop offset="0.9972" stop-color="#ffc600"/><stop offset="1.0000" stop-color="#ff8a00"/></linearGradient><linearGradient id="g251" x1="0" y1="0" x2="0" y2="1"><stop offset="0.0000" stop-color="#000082"/><stop offset="0.3287" stop-color="#0000ce"/><stop offset="0.4101" stop-color="#0000e1"/><stop offset="0.4551" stop-color="#0007ff"/><stop offset="0.5084" stop-color="#002dff"/><stop offset="0.7360" stop-color="#0041ff"/><stop offset="0.8989" stop-color="#006fff"/><stop offset="0.9213" stop-color="#0081ff"/><stop offset="0.9551" stop-color="#01fffe"/><stop offset="0.9719" stop-color="#49ffb6"/><stop offset="0.9888" stop-color="#c5ff3a"/><stop offset="0.9916" stop-color="#ffff00"/><stop offset="0.9944" stop-color="#ffa900"/><stop offset="0.9972" stop-color="#ff8e00"/><stop offset="1.0000" stop-color="#ff8300"/></linearGradient><linearGradient id="g252" x1="0" y1="0" x2="0" y2="1"><stop offset="0.0000" stop-color="#000082"/><stop offset="0.2753" stop-color="#0000c7"/><stop offset="0.4073" stop-color="#0000e0"/><stop offset="0.4522" stop-color="#0007ff"/><stop offset="0.5084" stop-color="#0030ff"/><stop offset="0.7247" stop-color="#0042ff"/><stop offset="0.8933" stop-color="#007eff"/><stop offset="0.9213" stop-color="#009aff"/><stop offset="0.9410" stop-color="#00fcff"/><stop offset="0.9691" stop-color="#8eff71"/><stop offset="0.9803" stop-color="#f5ff0a"/><stop offset="0.9860" stop-color="#ffd300"/><stop offset="0.9888" stop-color="#ffb400"/><stop offset="0.9916" stop-color="#ff8400"/><stop offset="0.9944" stop-color="#ff4700"/><stop offset="0.9972" stop-color="#ff5700"/><stop offset="1.0000" stop-color="#ff7d00"/></linearGradient><linearGradient id="g253" x1="0" y1="0" x2="0" y2="1"><stop offset="0.0000" stop-color="#000082"/><stop offset="0.2500" stop-color="#0000c5"/><stop offset="0.4073" stop-color="#0000e2"/><stop offset="0.4494" stop-color="#0007ff"/><stop offset="0.5084" stop-color="#0033ff"/><stop offset="0.7163" stop-color="#0043ff"/><stop offset="0.8904" stop-color="#008cff"/><stop offset="0.9185" stop-color="#00a9ff"/><stop offset="0.9298" stop-color="#00e7ff"/><stop offset="0.9354" stop-color="#0bfff4"/><stop offset="0.9691" stop-color="#e5ff1a"/><stop offset="0.9719" stop-color="#fffc00"/><stop offset="0.9888" stop-color="#ff2c00"/><stop offset="0.9916" stop-color="#ff0600"/><stop offset="0.9944" stop-color="#df0000"/><stop offset="0.9972" stop-color="#ff1c00"/><stop offset="1.0000" stop-color="#ff7300"/></linearGradient><linearGradient id="g254" x1="0" y1="0" x2="0" y2="1"><stop offset="0.0000" stop-color="#000082"/><stop offset="0.2500" stop-color="#0000c5"/><stop offset="0.4073" stop-color="#0000e2"/><stop offset="0.4494" stop-color="#0007ff"/><stop offset="0.5084" stop-color="#0033ff"/><stop offset="0.7163" stop-color="#0043ff"/><stop offset="0.8904" stop-color="#008cff"/><stop offset="0.9185" stop-color="#00a9ff"/><stop offset="0.9298" stop-color="#00e7ff"/><stop offset="0.9354" stop-color="#0bfff4"/><stop offset="0.9691" stop-color="#ecff13"/><stop offset="0.9719" stop-color="#fff400"/><stop offset="0.9888" stop-color="#ff1f00"/><stop offset="0.9916" stop-color="#f70000"/><stop offset="0.9944" stop-color="#d10000"/><stop offset="0.9972" stop-color="#ff0e00"/><stop offset="1.0000" stop-color="#ff6500"/></linearGradient><linearGradient id="g255" x1="0" y1="0" x2="0" y2="1"><stop offset="0.0000" stop-color="#000082"/><stop offset="0.2500" stop-color="#0000c5"/><stop offset="0.4073" stop-color="#0000e2"/><stop offset="0.4494" stop-color="#0007ff"/><stop offset="0.5084" stop-color="#0033ff"/><stop offset="0.7163" stop-color="#0043ff"/><stop offset="0.8904" stop-color="#008cff"/><stop offset="0.9185" stop-color="#00a9ff"/><stop offset="0.9298" stop-color="#00e7ff"/><stop offset="0.9354" stop-color="#0bfff4"/><stop offset="0.9579" stop-color="#a0ff5f"/><stop offset="0.9691" stop-color="#f2ff0d"/><stop offset="0.9719" stop-color="#ffed00"/><stop offset="0.9888" stop-color="#ff1200"/><stop offset="0.9916" stop-color="#ea0000"/><stop offset="0.9944" stop-color="#c40000"/><stop offset="0.9972" stop-color="#fe0200"/><stop offset="1.0000" stop-color="#ff5800"/></linearGradient><linearGradient id="g256" x1="0" y1="0" x2="0" y2="1"><stop offset="0.0000" stop-color="#000082"/><stop offset="0.2500" stop-color="#0000c5"/><stop offset="0.4073" stop-color="#0000e2"/><stop offset="0.4494" stop-color="#0007ff"/><stop offset="0.5084" stop-color="#0033ff"/><stop offset="0.7163" stop-color="#0043ff"/><stop offset="0.8904" stop-color="#008cff"/><stop offset="0.9185" stop-color="#00a9ff"/><stop offset="0.9298" stop-color="#00e7ff"/><stop offset="0.9354" stop-color="#0bfff4"/><stop offset="0.9551" stop-color="#8dff72"/><stop offset="0.9691" stop-color="#f8ff07"/><stop offset="0.9719" stop-color="#ffe700"/><stop offset="0.9888" stop-color="#ff0700"/><stop offset="0.9944" stop-color="#b80000"/><stop offset="0.9972" stop-color="#f40000"/><stop offset="1.0000" stop-color="#ff4c00"/></linearGradient><linearGradient id="g257" x1="0" y1="0" x2="0" y2="1"><stop offset="0.0000" stop-color="#000082"/><stop offset="0.2500" stop-color="#0000c5"/><stop offset="0.4073" stop-color="#0000e2"/><stop offset="0.4494" stop-color="#0007ff"/><stop offset="0.5084" stop-color="#0033ff"/><stop offset="0.7163" stop-color="#0043ff"/><stop offset="0.8904" stop-color="#008cff"/><stop offset="0.9185" stop-color="#00a9ff"/><stop offset="0.9298" stop-color="#00e7ff"/><stop offset="0.9354" stop-color="#0bfff4"/><stop offset="0.9551" stop-color="#8eff71"/><stop offset="0.9691" stop-color="#faff05"/><stop offset="0.9747" stop-color="#ffbf00"/><stop offset="0.9888" stop-color="#ff0200"/><stop offset="0.9944" stop-color="#b40000"/><stop offset="0.9972" stop-color="#ef0000"/><stop offset="1.0000" stop-color="#ff4700"/></linearGradient><linearGradient id="g258" x1="0" y1="0" x2="0" y2="1"><stop offset="0.0000" stop-color="#000082"/><stop offset="0.2500" stop-color="#0000c5"/><stop offset="0.4073" stop-color="#0000e2"/><stop offset="0.4494" stop-color="#0007ff"/><stop offset="0.5084" stop-color="#0033ff"/><stop offset="0.7163" stop-color="#0043ff"/><stop offset="0.8904" stop-color="#008cff"/><stop offset="0.9185" stop-color="#00a9ff"/><stop offset="0.9298" stop-color="#00e7ff"/><stop offset="0.9354" stop-color="#0bfff4"/><stop offset="0.9579" stop-color="#a1ff5e"/><stop offset="0.9691" stop-color="#f4ff0b"/><stop offset="0.9719" stop-color="#ffeb00"/><stop offset="0.9888" stop-color="#ff0d00"/><stop offset="0.9916" stop-color="#e50000"/><stop offset="0.9944" stop-color="#bf0000"/><stop offset="0.9972" stop-color="#fb0000"/><stop offset="1.0000" stop-color="#ff5300"/></linearGradient><linearGradient id="g259" x1="0" y1="0" x2="0" y2="1"><stop offset="0.0000" stop-color="#000082"/><stop offset="0.2500" stop-color="#0000c5"/><stop offset="0.4073" stop-color="#0000e2"/><stop offset="0.4494" stop-color="#0007ff"/><stop offset="0.5084" stop-color="#0033ff"/><stop offset="0.7163" stop-color="#0043ff"/><stop offset="0.8904" stop-color="#008cff"/><stop offset="0.9185" stop-color="#00a9ff"/><stop offset="0.9298" stop-color="#00e7ff"/><stop offset="0.9354" stop-color="#0bfff4"/><stop offset="0.9607" stop-color="#b3ff4c"/><stop offset="0.9691" stop-color="#efff10"/><stop offset="0.9719" stop-color="#fff000"/><stop offset="0.9888" stop-color="#ff1800"/><stop offset="0.9916" stop-color="#f00000"/><stop offset="0.9944" stop-color="#ca0000"/><stop offset="0.9972" stop-color="#ff0600"/><stop offset="1.0000" stop-color="#ff5e00"/></linearGradient><linearGradient id="g260" x1="0" y1="0" x2="0" y2="1"><stop offset="0.0000" stop-color="#000082"/><stop offset="0.2500" stop-color="#0000c5"/><stop offset="0.4073" stop-color="#0000e2"/><stop offset="0.4494" stop-color="#0007ff"/><stop offset="0.5084" stop-color="#0033ff"/><stop offset="0.7163" stop-color="#0043ff"/><stop offset="0.8904" stop-color="#008cff"/><stop offset="0.9185" stop-color="#00a9ff"/><stop offset="0.9298" stop-color="#00e7ff"/><stop offset="0.9354" stop-color="#0bfff4"/><stop offset="0.9691" stop-color="#eaff15"/><stop offset="0.9719" stop-color="#fff700"/><stop offset="0.9916" stop-color="#fb0000"/><stop offset="0.9944" stop-color="#d60000"/><stop offset="0.9972" stop-color="#ff1200"/><stop offset="1.0000" stop-color="#ff6900"/></linearGradient><linearGradient id="g261" x1="0" y1="0" x2="0" y2="1"><stop offset="0.0000" stop-color="#000082"/><stop offset="0.2500" stop-color="#0000c5"/><stop offset="0.4073" stop-color="#0000e2"/><stop offset="0.4494" stop-color="#0007ff"/><stop offset="0.5084" stop-color="#0033ff"/><stop offset="0.7163" stop-color="#0043ff"/><stop offset="0.8904" stop-color="#008cff"/><stop offset="0.9185" stop-color="#00a9ff"/><stop offset="0.9298" stop-color="#00e7ff"/><stop offset="0.9354" stop-color="#0bfff4"/><stop offset="0.9691" stop-color="#e6ff19"/><stop offset="0.9719" stop-color="#fffb00"/><stop offset="0.9916" stop-color="#fe0500"/><stop offset="0.9944" stop-color="#de0000"/><stop offset="0.9972" stop-color="#ff1a00"/><stop offset="1.0000" stop-color="#ff7100"/></linearGradient><linearGradient id="g262" x1="0" y1="0" x2="0" y2="1"><stop offset="0.0000" stop-color="#000082"/><stop offset="0.2500" stop-color="#0000c5"/><stop offset="0.4073" stop-color="#0000e2"/><stop offset="0.4494" stop-color="#0007ff"/><stop offset="0.5084" stop-color="#0033ff"/><stop offset="0.7163" stop-color="#0043ff"/><stop offset="0.8904" stop-color="#008cff"/><stop offset="0.9185" stop-color="#00a9ff"/><stop offset="0.9298" stop-color="#00e7ff"/><stop offset="0.9354" stop-color="#0bfff4"/><stop offset="0.9635" stop-color="#c7ff38"/><stop offset="0.9691" stop-color="#efff10"/><stop offset="0.9719" stop-color="#fff100"/><stop offset="0.9888" stop-color="#ff1900"/><stop offset="0.9916" stop-color="#f10000"/><stop offset="0.9944" stop-color="#cb0000"/><stop offset="0.9972" stop-color="#ff0800"/><stop offset="1.0000" stop-color="#ff5f00"/></linearGradient><linearGradient id="g263" x1="0" y1="0" x2="0" y2="1"><stop offset="0.0000" stop-color="#000082"/><stop offset="0.2500" stop-color="#0000c5"/><stop offset="0.4073" stop-color="#0000e2"/><stop offset="0.4494" stop-color="#0007ff"/><stop offset="0.5084" stop-color="#0033ff"/><stop offset="0.7163" stop-color="#0043ff"/><stop offset="0.8904" stop-color="#008cff"/><stop offset="0.9185" stop-color="#00a9ff"/><stop offset="0.9298" stop-color="#00e7ff"/><stop offset="0.9354" stop-color="#0bfff4"/><stop offset="0.9579" stop-color="#a0ff5f"/><stop offset="0.9691" stop-color="#f3ff0c"/><stop offset="0.9719" stop-color="#ffec00"/><stop offset="0.9888" stop-color="#ff1100"/><stop offset="0.9916" stop-color="#e90000"/><stop offset="0.9944" stop-color="#c30000"/><stop offset="0.9972" stop-color="#fd0200"/><stop offset="1.0000" stop-color="#ff5600"/></linearGradient><linearGradient id="g264" x1="0" y1="0" x2="0" y2="1"><stop offset="0.0000" stop-color="#000082"/><stop offset="0.2500" stop-color="#0000c5"/><stop offset="0.4073" stop-color="#0000e2"/><stop offset="0.4494" stop-color="#0007ff"/><stop offset="0.5084" stop-color="#0033ff"/><stop offset="0.7163" stop-color="#0043ff"/><stop offset="0.8904" stop-color="#008cff"/><stop offset="0.9185" stop-color="#00a9ff"/><stop offset="0.9298" stop-color="#00e7ff"/><stop offset="0.9354" stop-color="#0bfff4"/><stop offset="0.9691" stop-color="#eaff15"/><stop offset="0.9719" stop-color="#fff600"/><stop offset="0.9916" stop-color="#fb0000"/><stop offset="0.9944" stop-color="#d50000"/><stop offset="0.9972" stop-color="#ff1100"/><stop offset="1.0000" stop-color="#ff6800"/></linearGradient><linearGradient id="g265" x1="0" y1="0" x2="0" y2="1"><stop offset="0.0000" stop-color="#000082"/><stop offset="0.2500" stop-color="#0000c5"/><stop offset="0.4073" stop-color="#0000e2"/><stop offset="0.4494" stop-color="#0007ff"/><stop offset="0.5084" stop-color="#0033ff"/><stop offset="0.7163" stop-color="#0043ff"/><stop offset="0.8904" stop-color="#008cff"/><stop offset="0.9185" stop-color="#00a9ff"/><stop offset="0.9298" stop-color="#00e7ff"/><stop offset="0.9354" stop-color="#0bfff4"/><stop offset="0.9691" stop-color="#e4ff1b"/><stop offset="0.9719" stop-color="#fffe00"/><stop offset="0.9888" stop-color="#ff2f00"/><stop offset="0.9916" stop-color="#ff0900"/><stop offset="0.9944" stop-color="#e20000"/><stop offset="0.9972" stop-color="#ff1f00"/><stop offset="1.0000" stop-color="#ff7600"/></linearGradient><linearGradient id="g266" x1="0" y1="0" x2="0" y2="1"><stop offset="0.0000" stop-color="#00008e"/><stop offset="0.0590" stop-color="#0000d2"/><stop offset="0.1798" stop-color="#0005ff"/><stop offset="0.4101" stop-color="#0043ff"/><stop offset="0.5140" stop-color="#0094ff"/><stop offset="0.6657" stop-color="#00c0ff"/><stop offset="0.8792" stop-color="#00fbff"/><stop offset="0.9213" stop-color="#25ffda"/><stop offset="0.9607" stop-color="#f8ff07"/><stop offset="0.9691" stop-color="#ffd500"/><stop offset="0.9888" stop-color="#ff1f00"/><stop offset="0.9916" stop-color="#ff0000"/><stop offset="0.9944" stop-color="#e10000"/><stop offset="0.9972" stop-color="#fd0000"/><stop offset="1.0000" stop-color="#ff2a00"/></linearGradient><linearGradient id="g267" x1="0" y1="0" x2="0" y2="1"><stop offset="0.0000" stop-color="#00009a"/><stop offset="0.0478" stop-color="#0005ff"/><stop offset="0.1320" stop-color="#003cff"/><stop offset="0.3371" stop-color="#0088ff"/><stop offset="0.4129" stop-color="#00a4ff"/><stop offset="0.5309" stop-color="#00ffff"/><stop offset="0.6461" stop-color="#3dffc2"/><stop offset="0.7275" stop-color="#55ffaa"/><stop offset="0.8371" stop-color="#67ff98"/><stop offset="0.9045" stop-color="#86ff79"/><stop offset="0.9213" stop-color="#97ff68"/><stop offset="0.9466" stop-color="#ffff00"/><stop offset="0.9747" stop-color="#ff6c00"/><stop offset="0.9888" stop-color="#ff0d00"/><stop offset="0.9916" stop-color="#f40000"/><stop offset="0.9944" stop-color="#dd0000"/><stop offset="1.0000" stop-color="#db0000"/></linearGradient><linearGradient id="g268" x1="0" y1="0" x2="0" y2="1"><stop offset="0.0000" stop-color="#0000a0"/><stop offset="0.0365" stop-color="#0004ff"/><stop offset="0.0534" stop-color="#002bff"/><stop offset="0.1348" stop-color="#0061ff"/><stop offset="0.3455" stop-color="#00b8ff"/><stop offset="0.4129" stop-color="#00d3ff"/><stop offset="0.4747" stop-color="#07fff8"/><stop offset="0.6264" stop-color="#74ff8b"/><stop offset="0.7135" stop-color="#98ff67"/><stop offset="0.8230" stop-color="#a0ff5f"/><stop offset="0.9073" stop-color="#c3ff3c"/><stop offset="0.9213" stop-color="#cfff30"/><stop offset="0.9354" stop-color="#fffc00"/><stop offset="0.9551" stop-color="#ffaf00"/><stop offset="0.9860" stop-color="#ff1700"/><stop offset="0.9888" stop-color="#ff0400"/><stop offset="1.0000" stop-color="#b40000"/></linearGradient><linearGradient id="g269" x1="0" y1="0" x2="0" y2="1"><stop offset="0.0000" stop-color="#00009e"/><stop offset="0.0449" stop-color="#0003ff"/><stop offset="0.0702" stop-color="#001cff"/><stop offset="0.2219" stop-color="#0067ff"/><stop offset="0.4157" stop-color="#00aeff"/><stop offset="0.5393" stop-color="#05fffa"/><stop offset="0.6601" stop-color="#49ffb6"/><stop offset="0.7219" stop-color="#5dffa2"/><stop offset="0.8343" stop-color="#6dff92"/><stop offset="0.9185" stop-color="#93ff6c"/><stop offset="0.9494" stop-color="#ebff14"/><stop offset="0.9522" stop-color="#fbff04"/><stop offset="0.9916" stop-color="#ff0900"/><stop offset="0.9972" stop-color="#e20000"/><stop offset="1.0000" stop-color="#cf0000"/></linearGradient><linearGradient id="g270" x1="0" y1="0" x2="0" y2="1"><stop offset="0.0000" stop-color="#00009a"/><stop offset="0.0590" stop-color="#0000dd"/><stop offset="0.1517" stop-color="#0006ff"/><stop offset="0.4382" stop-color="#006aff"/><stop offset="0.6882" stop-color="#00dcff"/><stop offset="0.8539" stop-color="#06fff9"/><stop offset="0.9242" stop-color="#2effd1"/><stop offset="0.9494" stop-color="#5affa5"/><stop offset="0.9663" stop-color="#efff10"/><stop offset="0.9691" stop-color="#fff600"/><stop offset="0.9860" stop-color="#ff6000"/><stop offset="1.0000" stop-color="#ff0600"/></linearGradient><linearGradient id="g271" x1="0" y1="0" x2="0" y2="1"><stop offset="0.0000" stop-color="#000096"/><stop offset="0.3820" stop-color="#0006ff"/><stop offset="0.8820" stop-color="#00a6ff"/><stop offset="0.9494" stop-color="#00c8ff"/><stop offset="0.9551" stop-color="#05fffa"/><stop offset="0.9747" stop-color="#eeff11"/><stop offset="0.9775" stop-color="#ffef00"/><stop offset="0.9860" stop-color="#ff9000"/><stop offset="1.0000" stop-color="#ff3c00"/></linearGradient></defs><rect x="145.5" y="14.0" width="10.8" height="356.2" fill="url(#g0)"/><rect x="155.5" y="14.0" width="1.8" height="356.2" fill="url(#g1)"/><rect x="156.5" y="14.0" width="1.8" height="356.2" fill="url(#g2)"/><rect x="157.5" y="14.0" width="1.8" height="356.2" fill="url(#g3)"/><rect x="158.5" y="14.0" width="1.8" height="356.2" fill="url(#g4)"/><rect x="159.5" y="14.0" width="1.8" height="356.2" fill="url(#g5)"/><rect x="160.5" y="14.0" width="1.8" height="356.2" fill="url(#g6)"/><rect x="161.5" y="14.0" width="1.8" height="356.2" fill="url(#g7)"/><rect x="162.5" y="14.0" width="14.8" height="356.2" fill="url(#g8)"/><rect x="176.5" y="14.0" width="1.8" height="356.2" fill="url(#g9)"/><rect x="177.5" y="14.0" width="1.8" height="356.2" fill="url(#g10)"/><rect x="178.5" y="14.0" width="1.8" height="356.2" fill="url(#g11)"/><rect x="179.5" y="14.0" width="7.8" height="356.2" fill="url(#g12)"/><rect x="186.5" y="14.0" width="1.8" height="356.2" fill="url(#g13)"/><rect x="187.5" y="14.0" width="24.8" height="356.2" fill="url(#g14)"/><rect x="211.5" y="14.0" width="9.8" height="356.2" fill="url(#g15)"/><rect x="220.5" y="14.0" width="1.8" height="356.2" fill="url(#g16)"/><rect x="221.5" y="14.0" width="1.8" height="356.2" fill="url(#g17)"/><rect x="222.5" y="14.0" width="1.8" height="356.2" fill="url(#g18)"/><rect x="223.5" y="14.0" width="6.8" height="356.2" fill="url(#g19)"/><rect x="229.5" y="14.0" width="1.8" height="356.2" fill="url(#g20)"/><rect x="230.5" y="14.0" width="1.8" height="356.2" fill="url(#g21)"/><rect x="231.5" y="14.0" width="1.8" height="356.2" fill="url(#g22)"/><rect x="232.5" y="14.0" width="24.8" height="356.2" fill="url(#g23)"/><rect x="256.5" y="14.0" width="24.8" height="356.2" fill="url(#g24)"/><rect x="280.5" y="14.0" width="2.8" height="356.2" fill="url(#g25)"/><rect x="282.5" y="14.0" width="1.8" height="356.2" fill="url(#g26)"/><rect x="283.5" y="14.0" width="1.8" height="356.2" fill="url(#g27)"/><rect x="284.5" y="14.0" width="24.8" height="356.2" fill="url(#g28)"/><rect x="308.5" y="14.0" width="22.8" height="356.2" fill="url(#g29)"/><rect x="330.5" y="14.0" width="1.8" height="356.2" fill="url(#g30)"/><rect x="331.5" y="14.0" width="1.8" height="356.2" fill="url(#g31)"/><rect x="332.5" y="14.0" width="5.8" height="356.2" fill="url(#g32)"/><rect x="337.5" y="14.0" width="1.8" height="356.2" fill="url(#g33)"/><rect x="338.5" y="14.0" width="1.8" height="356.2" fill="url(#g34)"/><rect x="339.5" y="14.0" width="11.8" height="356.2" fill="url(#g35)"/><rect x="350.5" y="14.0" width="1.8" height="356.2" fill="url(#g36)"/><rect x="351.5" y="14.0" width="1.8" height="356.2" fill="url(#g37)"/><rect x="352.5" y="14.0" width="13.8" height="356.2" fill="url(#g38)"/><rect x="365.5" y="14.0" width="2.8" height="356.2" fill="url(#g39)"/><rect x="367.5" y="14.0" width="2.8" height="356.2" fill="url(#g40)"/><rect x="369.5" y="14.0" width="1.8" height="356.2" fill="url(#g41)"/><rect x="370.5" y="14.0" width="1.8" height="356.2" fill="url(#g42)"/><rect x="371.5" y="14.0" width="1.8" height="356.2" fill="url(#g43)"/><rect x="372.5" y="14.0" width="1.8" height="356.2" fill="url(#g44)"/><rect x="373.5" y="14.0" width="1.8" height="356.2" fill="url(#g45)"/><rect x="374.5" y="14.0" width="1.8" height="356.2" fill="url(#g46)"/><rect x="375.5" y="14.0" width="1.8" height="356.2" fill="url(#g47)"/><rect x="376.5" y="14.0" width="1.8" height="356.2" fill="url(#g48)"/><rect x="377.5" y="14.0" width="1.8" height="356.2" fill="url(#g49)"/><rect x="378.5" y="14.0" width="1.8" height="356.2" fill="url(#g50)"/><rect x="379.5" y="14.0" width="1.8" height="356.2" fill="url(#g51)"/><rect x="380.5" y="14.0" width="1.8" height="356.2" fill="url(#g52)"/><rect x="381.5" y="14.0" width="1.8" height="356.2" fill="url(#g53)"/><rect x="382.5" y="14.0" width="1.8" height="356.2" fill="url(#g54)"/><rect x="383.5" y="14.0" width="1.8" height="356.2" fill="url(#g55)"/><rect x="384.5" y="14.0" width="1.8" height="356.2" fill="url(#g56)"/><rect x="385.5" y="14.0" width="1.8" height="356.2" fill="url(#g57)"/><rect x="386.5" y="14.0" width="1.8" height="356.2" fill="url(#g58)"/><rect x="387.5" y="14.0" width="1.8" height="356.2" fill="url(#g59)"/><rect x="388.5" y="14.0" width="1.8" height="356.2" fill="url(#g60)"/><rect x="389.5" y="14.0" width="1.8" height="356.2" fill="url(#g61)"/><rect x="390.5" y="14.0" width="7.8" height="356.2" fill="url(#g62)"/><rect x="397.5" y="14.0" width="1.8" height="356.2" fill="url(#g63)"/><rect x="398.5" y="14.0" width="2.8" height="356.2" fill="url(#g64)"/><rect x="400.5" y="14.0" width="1.8" height="356.2" fill="url(#g65)"/><rect x="401.5" y="14.0" width="24.8" height="356.2" fill="url(#g66)"/><rect x="425.5" y="14.0" width="17.8" height="356.2" fill="url(#g67)"/><rect x="442.5" y="14.0" width="1.8" height="356.2" fill="url(#g68)"/><rect x="443.5" y="14.0" width="1.8" height="356.2" fill="url(#g69)"/><rect x="444.5" y="14.0" width="2.8" height="356.2" fill="url(#g70)"/><rect x="446.5" y="14.0" width="2.8" height="356.2" fill="url(#g71)"/><rect x="448.5" y="14.0" width="2.8" height="356.2" fill="url(#g72)"/><rect x="450.5" y="14.0" width="2.8" height="356.2" fill="url(#g73)"/><rect x="452.5" y="14.0" width="2.8" height="356.2" fill="url(#g74)"/><rect x="454.5" y="14.0" width="2.8" height="356.2" fill="url(#g75)"/><rect x="456.5" y="14.0" width="2.8" height="356.2" fill="url(#g76)"/><rect x="458.5" y="14.0" width="2.8" height="356.2" fill="url(#g77)"/><rect x="460.5" y="14.0" width="2.8" height="356.2" fill="url(#g78)"/><rect x="462.5" y="14.0" width="2.8" height="356.2" fill="url(#g79)"/><rect x="464.5" y="14.0" width="2.8" height="356.2" fill="url(#g80)"/><rect x="466.5" y="14.0" width="2.8" height="356.2" fill="url(#g81)"/><rect x="468.5" y="14.0" width="2.8" height="356.2" fill="url(#g82)"/><rect x="470.5" y="14.0" width="2.8" height="356.2" fill="url(#g83)"/><rect x="472.5" y="14.0" width="8.8" height="356.2" fill="url(#g84)"/><rect x="480.5" y="14.0" width="2.8" height="356.2" fill="url(#g85)"/><rect x="482.5" y="14.0" width="2.8" height="356.2" fill="url(#g86)"/><rect x="484.5" y="14.0" width="2.8" height="356.2" fill="url(#g87)"/><rect x="486.5" y="14.0" width="2.8" height="356.2" fill="url(#g88)"/><rect x="488.5" y="14.0" width="2.8" height="356.2" fill="url(#g89)"/><rect x="490.5" y="14.0" width="3.8" height="356.2" fill="url(#g90)"/><rect x="493.5" y="14.0" width="8.8" height="356.2" fill="url(#g91)"/><rect x="501.5" y="14.0" width="14.8" height="356.2" fill="url(#g92)"/><rect x="515.5" y="14.0" width="1.8" height="356.2" fill="url(#g93)"/><rect x="516.5" y="14.0" width="1.8" height="356.2" fill="url(#g94)"/><rect x="517.5" y="14.0" width="1.8" height="356.2" fill="url(#g95)"/><rect x="518.5" y="14.0" width="1.8" height="356.2" fill="url(#g96)"/><rect x="519.5" y="14.0" width="1.8" height="356.2" fill="url(#g97)"/><rect x="520.5" y="14.0" width="3.8" height="356.2" fill="url(#g98)"/><rect x="523.5" y="14.0" width="1.8" height="356.2" fill="url(#g99)"/><rect x="524.5" y="14.0" width="1.8" height="356.2" fill="url(#g100)"/><rect x="525.5" y="14.0" width="1.8" height="356.2" fill="url(#g101)"/><rect x="526.5" y="14.0" width="1.8" height="356.2" fill="url(#g102)"/><rect x="527.5" y="14.0" width="1.8" height="356.2" fill="url(#g103)"/><rect x="528.5" y="14.0" width="15.8" height="356.2" fill="url(#g104)"/><rect x="543.5" y="14.0" width="1.8" height="356.2" fill="url(#g105)"/><rect x="544.5" y="14.0" width="1.8" height="356.2" fill="url(#g106)"/><rect x="545.5" y="14.0" width="1.8" height="356.2" fill="url(#g107)"/><rect x="546.5" y="14.0" width="24.8" height="356.2" fill="url(#g108)"/><rect x="570.5" y="14.0" width="23.8" height="356.2" fill="url(#g109)"/><rect x="593.5" y="14.0" width="2.8" height="356.2" fill="url(#g110)"/><rect x="595.5" y="14.0" width="1.8" height="356.2" fill="url(#g111)"/><rect x="596.5" y="14.0" width="1.8" height="356.2" fill="url(#g112)"/><rect x="597.5" y="14.0" width="1.8" height="356.2" fill="url(#g113)"/><rect x="598.5" y="14.0" width="1.8" height="356.2" fill="url(#g114)"/><rect x="599.5" y="14.0" width="1.8" height="356.2" fill="url(#g115)"/><rect x="600.5" y="14.0" width="2.8" height="356.2" fill="url(#g116)"/><rect x="602.5" y="14.0" width="2.8" height="356.2" fill="url(#g117)"/><rect x="604.5" y="14.0" width="1.8" height="356.2" fill="url(#g118)"/><rect x="605.5" y="14.0" width="1.8" height="356.2" fill="url(#g119)"/><rect x="606.5" y="14.0" width="1.8" height="356.2" fill="url(#g120)"/><rect x="607.5" y="14.0" width="1.8" height="356.2" fill="url(#g121)"/><rect x="608.5" y="14.0" width="1.8" height="356.2" fill="url(#g122)"/><rect x="609.5" y="14.0" width="1.8" height="356.2" fill="url(#g123)"/><rect x="610.5" y="14.0" width="1.8" height="356.2" fill="url(#g124)"/><rect x="611.5" y="14.0" width="1.8" height="356.2" fill="url(#g125)"/><rect x="612.5" y="14.0" width="1.8" height="356.2" fill="url(#g126)"/><rect x="613.5" y="14.0" width="24.8" height="356.2" fill="url(#g127)"/><rect x="637.5" y="14.0" width="9.8" height="356.2" fill="url(#g128)"/><rect x="646.5" y="14.0" width="1.8" height="356.2" fill="url(#g129)"/><rect x="647.5" y="14.0" width="1.8" height="356.2" fill="url(#g130)"/><rect x="648.5" y="14.0" width="1.8" height="356.2" fill="url(#g131)"/><rect x="649.5" y="14.0" width="1.8" height="356.2" fill="url(#g132)"/><rect x="650.5" y="14.0" width="3.8" height="356.2" fill="url(#g133)"/><rect x="653.5" y="14.0" width="1.8" height="356.2" fill="url(#g134)"/><rect x="654.5" y="14.0" width="1.8" height="356.2" fill="url(#g135)"/><rect x="655.5" y="14.0" width="1.8" height="356.2" fill="url(#g136)"/><rect x="656.5" y="14.0" width="1.8" height="356.2" fill="url(#g137)"/><rect x="657.5" y="14.0" width="1.8" height="356.2" fill="url(#g138)"/><rect x="658.5" y="14.0" width="1.8" height="356.2" fill="url(#g139)"/><rect x="659.5" y="14.0" width="1.8" height="356.2" fill="url(#g140)"/><rect x="660.5" y="14.0" width="1.8" height="356.2" fill="url(#g141)"/><rect x="661.5" y="14.0" width="1.8" height="356.2" fill="url(#g142)"/><rect x="662.5" y="14.0" width="1.8" height="356.2" fill="url(#g143)"/><rect x="663.5" y="14.0" width="1.8" height="356.2" fill="url(#g144)"/><rect x="664.5" y="14.0" width="24.8" height="356.2" fill="url(#g145)"/><rect x="688.5" y="14.0" width="24.8" height="356.2" fill="url(#g146)"/><rect x="712.5" y="14.0" width="8.8" height="356.2" fill="url(#g147)"/><rect x="720.5" y="14.0" width="4.8" height="356.2" fill="url(#g148)"/><rect x="724.5" y="14.0" width="4.8" height="356.2" fill="url(#g149)"/><rect x="728.5" y="14.0" width="4.8" height="356.2" fill="url(#g150)"/><rect x="732.5" y="14.0" width="5.8" height="356.2" fill="url(#g151)"/><rect x="737.5" y="14.0" width="9.8" height="356.2" fill="url(#g152)"/><rect x="746.5" y="14.0" width="4.8" height="356.2" fill="url(#g153)"/><rect x="750.5" y="14.0" width="3.8" height="356.2" fill="url(#g154)"/><rect x="753.5" y="14.0" width="2.8" height="356.2" fill="url(#g155)"/><rect x="755.5" y="14.0" width="2.8" height="356.2" fill="url(#g156)"/><rect x="757.5" y="14.0" width="2.8" height="356.2" fill="url(#g157)"/><rect x="759.5" y="14.0" width="2.8" height="356.2" fill="url(#g158)"/><rect x="761.5" y="14.0" width="14.8" height="356.2" fill="url(#g159)"/><rect x="775.5" y="14.0" width="1.8" height="356.2" fill="url(#g160)"/><rect x="776.5" y="14.0" width="1.8" height="356.2" fill="url(#g161)"/><rect x="777.5" y="14.0" width="2.8" height="356.2" fill="url(#g162)"/><rect x="779.5" y="14.0" width="2.8" height="356.2" fill="url(#g163)"/><rect x="781.5" y="14.0" width="2.8" height="356.2" fill="url(#g164)"/><rect x="783.5" y="14.0" width="2.8" height="356.2" fill="url(#g165)"/><rect x="785.5" y="14.0" width="2.8" height="356.2" fill="url(#g166)"/><rect x="787.5" y="14.0" width="2.8" height="356.2" fill="url(#g167)"/><rect x="789.5" y="14.0" width="2.8" height="356.2" fill="url(#g168)"/><rect x="791.5" y="14.0" width="24.8" height="356.2" fill="url(#g169)"/><rect x="815.5" y="14.0" width="24.8" height="356.2" fill="url(#g170)"/><rect x="839.5" y="14.0" width="2.8" height="356.2" fill="url(#g171)"/><rect x="841.5" y="14.0" width="1.8" height="356.2" fill="url(#g172)"/><rect x="842.5" y="14.0" width="1.8" height="356.2" fill="url(#g173)"/><rect x="843.5" y="14.0" width="4.8" height="356.2" fill="url(#g174)"/><rect x="847.5" y="14.0" width="1.8" height="356.2" fill="url(#g175)"/><rect x="848.5" y="14.0" width="1.8" height="356.2" fill="url(#g176)"/><rect x="849.5" y="14.0" width="1.8" height="356.2" fill="url(#g177)"/><rect x="850.5" y="14.0" width="13.8" height="356.2" fill="url(#g178)"/><rect x="863.5" y="14.0" width="2.8" height="356.2" fill="url(#g179)"/><rect x="865.5" y="14.0" width="1.8" height="356.2" fill="url(#g180)"/><rect x="866.5" y="14.0" width="1.8" height="356.2" fill="url(#g181)"/><rect x="867.5" y="14.0" width="1.8" height="356.2" fill="url(#g182)"/><rect x="868.5" y="14.0" width="1.8" height="356.2" fill="url(#g183)"/><rect x="869.5" y="14.0" width="1.8" height="356.2" fill="url(#g184)"/><rect x="870.5" y="14.0" width="1.8" height="356.2" fill="url(#g185)"/><rect x="871.5" y="14.0" width="1.8" height="356.2" fill="url(#g186)"/><rect x="872.5" y="14.0" width="1.8" height="356.2" fill="url(#g187)"/><rect x="873.5" y="14.0" width="1.8" height="356.2" fill="url(#g188)"/><rect x="874.5" y="14.0" width="1.8" height="356.2" fill="url(#g189)"/><rect x="875.5" y="14.0" width="1.8" height="356.2" fill="url(#g190)"/><rect x="876.5" y="14.0" width="1.8" height="356.2" fill="url(#g191)"/><rect x="877.5" y="14.0" width="1.8" height="356.2" fill="url(#g192)"/><rect x="878.5" y="14.0" width="1.8" height="356.2" fill="url(#g193)"/><rect x="879.5" y="14.0" width="1.8" height="356.2" fill="url(#g194)"/><rect x="880.5" y="14.0" width="1.8" height="356.2" fill="url(#g195)"/><rect x="881.5" y="14.0" width="1.8" height="356.2" fill="url(#g196)"/><rect x="882.5" y="14.0" width="2.8" height="356.2" fill="url(#g197)"/><rect x="884.5" y="14.0" width="2.8" height="356.2" fill="url(#g198)"/><rect x="886.5" y="14.0" width="3.8" height="356.2" fill="url(#g199)"/><rect x="889.5" y="14.0" width="22.8" height="356.2" fill="url(#g200)"/><rect x="911.5" y="14.0" width="1.8" height="356.2" fill="url(#g201)"/><rect x="912.5" y="14.0" width="1.8" height="356.2" fill="url(#g202)"/><rect x="913.5" y="14.0" width="1.8" height="356.2" fill="url(#g203)"/><rect x="914.5" y="14.0" width="1.8" height="356.2" fill="url(#g204)"/><rect x="915.5" y="14.0" width="1.8" height="356.2" fill="url(#g205)"/><rect x="916.5" y="14.0" width="20.8" height="356.2" fill="url(#g206)"/><rect x="936.5" y="14.0" width="2.8" height="356.2" fill="url(#g207)"/><rect x="938.5" y="14.0" width="1.8" height="356.2" fill="url(#g208)"/><rect x="939.5" y="14.0" width="1.8" height="356.2" fill="url(#g209)"/><rect x="940.5" y="14.0" width="1.8" height="356.2" fill="url(#g210)"/><rect x="941.5" y="14.0" width="2.8" height="356.2" fill="url(#g211)"/><rect x="943.5" y="14.0" width="2.8" height="356.2" fill="url(#g212)"/><rect x="945.5" y="14.0" width="8.8" height="356.2" fill="url(#g213)"/><rect x="953.5" y="14.0" width="2.8" height="356.2" fill="url(#g214)"/><rect x="955.5" y="14.0" width="1.8" height="356.2" fill="url(#g215)"/><rect x="956.5" y="14.0" width="1.8" height="356.2" fill="url(#g216)"/><rect x="957.5" y="14.0" width="1.8" height="356.2" fill="url(#g217)"/><rect x="958.5" y="14.0" width="1.8" height="356.2" fill="url(#g218)"/><rect x="959.5" y="14.0" width="1.8" height="356.2" fill="url(#g219)"/><rect x="960.5" y="14.0" width="5.8" height="356.2" fill="url(#g220)"/><rect x="965.5" y="14.0" width="18.8" height="356.2" fill="url(#g221)"/><rect x="983.5" y="14.0" width="1.8" height="356.2" fill="url(#g222)"/><rect x="984.5" y="14.0" width="1.8" height="356.2" fill="url(#g223)"/><rect x="985.5" y="14.0" width="1.8" height="356.2" fill="url(#g224)"/><rect x="986.5" y="14.0" width="1.8" height="356.2" fill="url(#g225)"/><rect x="987.5" y="14.0" width="1.8" height="356.2" fill="url(#g226)"/><rect x="988.5" y="14.0" width="1.8" height="356.2" fill="url(#g227)"/><rect x="989.5" y="14.0" width="17.8" height="356.2" fill="url(#g228)"/><rect x="1006.5" y="14.0" width="1.8" height="356.2" fill="url(#g229)"/><rect x="1007.5" y="14.0" width="1.8" height="356.2" fill="url(#g230)"/><rect x="1008.5" y="14.0" width="1.8" height="356.2" fill="url(#g231)"/><rect x="1009.5" y="14.0" width="7.8" height="356.2" fill="url(#g232)"/><rect x="1016.5" y="14.0" width="1.8" height="356.2" fill="url(#g233)"/><rect x="1017.5" y="14.0" width="1.8" height="356.2" fill="url(#g234)"/><rect x="1018.5" y="14.0" width="1.8" height="356.2" fill="url(#g235)"/><rect x="1019.5" y="14.0" width="24.8" height="356.2" fill="url(#g236)"/><rect x="1043.5" y="14.0" width="24.8" height="356.2" fill="url(#g237)"/><rect x="1067.5" y="14.0" width="3.8" height="356.2" fill="url(#g238)"/><rect x="1070.5" y="14.0" width="3.8" height="356.2" fill="url(#g239)"/><rect x="1073.5" y="14.0" width="3.8" height="356.2" fill="url(#g240)"/><rect x="1076.5" y="14.0" width="3.8" height="356.2" fill="url(#g241)"/><rect x="1079.5" y="14.0" width="24.8" height="356.2" fill="url(#g242)"/><rect x="1103.5" y="14.0" width="1.8" height="356.2" fill="url(#g243)"/><rect x="1104.5" y="14.0" width="1.8" height="356.2" fill="url(#g244)"/><rect x="1105.5" y="14.0" width="1.8" height="356.2" fill="url(#g245)"/><rect x="1106.5" y="14.0" width="24.8" height="356.2" fill="url(#g246)"/><rect x="1130.5" y="14.0" width="24.8" height="356.2" fill="url(#g247)"/><rect x="1154.5" y="14.0" width="7.8" height="356.2" fill="url(#g248)"/><rect x="1161.5" y="14.0" width="1.8" height="356.2" fill="url(#g249)"/><rect x="1162.5" y="14.0" width="1.8" height="356.2" fill="url(#g250)"/><rect x="1163.5" y="14.0" width="1.8" height="356.2" fill="url(#g251)"/><rect x="1164.5" y="14.0" width="1.8" height="356.2" fill="url(#g252)"/><rect x="1165.5" y="14.0" width="6.8" height="356.2" fill="url(#g253)"/><rect x="1171.5" y="14.0" width="3.8" height="356.2" fill="url(#g254)"/><rect x="1174.5" y="14.0" width="2.8" height="356.2" fill="url(#g255)"/><rect x="1176.5" y="14.0" width="3.8" height="356.2" fill="url(#g256)"/><rect x="1179.5" y="14.0" width="5.8" height="356.2" fill="url(#g257)"/><rect x="1184.5" y="14.0" width="2.8" height="356.2" fill="url(#g258)"/><rect x="1186.5" y="14.0" width="2.8" height="356.2" fill="url(#g259)"/><rect x="1188.5" y="14.0" width="3.8" height="356.2" fill="url(#g260)"/><rect x="1191.5" y="14.0" width="15.8" height="356.2" fill="url(#g261)"/><rect x="1206.5" y="14.0" width="4.8" height="356.2" fill="url(#g262)"/><rect x="1210.5" y="14.0" width="12.8" height="356.2" fill="url(#g263)"/><rect x="1222.5" y="14.0" width="4.8" height="356.2" fill="url(#g264)"/><rect x="1226.5" y="14.0" width="19.8" height="356.2" fill="url(#g265)"/><rect x="1245.5" y="14.0" width="1.8" height="356.2" fill="url(#g266)"/><rect x="1246.5" y="14.0" width="1.8" height="356.2" fill="url(#g267)"/><rect x="1247.5" y="14.0" width="3.8" height="356.2" fill="url(#g268)"/><rect x="1250.5" y="14.0" width="1.8" height="356.2" fill="url(#g269)"/><rect x="1251.5" y="14.0" width="1.8" height="356.2" fill="url(#g270)"/><rect x="1252.5" y="14.0" width="6.0" height="356.2" fill="url(#g271)"/><defs><linearGradient id="LS" x1="0" y1="0" x2="0" y2="1"><stop offset="0.0000" stop-color="#0028e6" stop-opacity="0.6"/><stop offset="0.2000" stop-color="#0078ff" stop-opacity="0.7"/><stop offset="0.5000" stop-color="#00b4ff" stop-opacity="0.7"/><stop offset="0.8000" stop-color="#00e6ff" stop-opacity="0.7"/><stop offset="0.9000" stop-color="#64ff96" stop-opacity="0.7"/><stop offset="1.0000" stop-color="#ffc800" stop-opacity="0.5"/></linearGradient><linearGradient id="LSF" x1="0" y1="0" x2="0" y2="1"><stop offset="0.0000" stop-color="#0028e6" stop-opacity="0.3"/><stop offset="0.3000" stop-color="#0078ff" stop-opacity="0.4"/><stop offset="0.6000" stop-color="#00b4ff" stop-opacity="0.5"/><stop offset="0.8500" stop-color="#00e6ff" stop-opacity="0.5"/><stop offset="1.0000" stop-color="#00e6ff" stop-opacity="0.3"/></linearGradient><linearGradient id="LD1" x1="0" y1="0" x2="0" y2="1"><stop offset="0.0000" stop-color="#0032eb" stop-opacity="0.5"/><stop offset="0.3000" stop-color="#0078ff" stop-opacity="0.7"/><stop offset="0.5600" stop-color="#00c8ff" stop-opacity="0.8"/><stop offset="0.6000" stop-color="#00aaff" stop-opacity="0.8"/><stop offset="0.9000" stop-color="#00c8ff" stop-opacity="0.8"/><stop offset="0.9900" stop-color="#64ff96" stop-opacity="0.8"/><stop offset="1.0000" stop-color="#ff9600" stop-opacity="0.8"/></linearGradient><linearGradient id="LD1Y" x1="0" y1="0" x2="0" y2="1"><stop offset="0.0000" stop-color="#0078ff" stop-opacity="0.8"/><stop offset="0.5000" stop-color="#00e6ff" stop-opacity="0.9"/><stop offset="0.6000" stop-color="#96ff64" stop-opacity="0.9"/><stop offset="0.9500" stop-color="#e6ff14" stop-opacity="0.9"/><stop offset="1.0000" stop-color="#ff9600" stop-opacity="0.9"/></linearGradient><linearGradient id="LJ1" x1="0" y1="0" x2="0" y2="1"><stop offset="0.0000" stop-color="#0028e6" stop-opacity="0.0"/><stop offset="0.5500" stop-color="#0032eb" stop-opacity="0.0"/><stop offset="0.7500" stop-color="#0050fa" stop-opacity="0.5"/><stop offset="0.9000" stop-color="#006eff" stop-opacity="0.7"/><stop offset="0.9500" stop-color="#0096ff" stop-opacity="0.8"/><stop offset="0.9800" stop-color="#00e6ff" stop-opacity="0.9"/><stop offset="0.9950" stop-color="#c8ff32" stop-opacity="0.9"/><stop offset="1.0000" stop-color="#ff9600" stop-opacity="0.9"/></linearGradient><linearGradient id="LR8" x1="0" y1="0" x2="0" y2="1"><stop offset="0.0000" stop-color="#0082ff" stop-opacity="0.0"/><stop offset="0.8400" stop-color="#0082ff" stop-opacity="0.0"/><stop offset="0.8700" stop-color="#0096ff" stop-opacity="0.7"/><stop offset="0.9700" stop-color="#00beff" stop-opacity="0.8"/><stop offset="0.9950" stop-color="#96ff64" stop-opacity="0.9"/><stop offset="1.0000" stop-color="#ff9600" stop-opacity="1"/></linearGradient><linearGradient id="DK" x1="0" y1="0" x2="0" y2="1"><stop offset="0.0000" stop-color="#000078" stop-opacity="0.6"/><stop offset="1.0000" stop-color="#0000a0" stop-opacity="0.6"/></linearGradient></defs><rect x="179.50" y="14.0" width="2.0" height="356.2" fill="url(#LS)"/><rect x="162.50" y="14.0" width="2.0" height="356.2" fill="url(#LSF)"/><rect x="796.25" y="14.0" width="2.5" height="356.2" fill="url(#LD1Y)"/><rect x="777.80" y="14.0" width="1.4" height="356.2" fill="url(#LD1)"/><rect x="780.30" y="14.0" width="1.4" height="356.2" fill="url(#LD1)"/><rect x="782.80" y="14.0" width="1.4" height="356.2" fill="url(#LD1)"/><rect x="786.00" y="14.0" width="1.4" height="356.2" fill="url(#LD1)"/><rect x="789.30" y="14.0" width="1.4" height="356.2" fill="url(#LD1)"/><rect x="792.30" y="14.0" width="1.4" height="356.2" fill="url(#LD1)"/><rect x="801.60" y="14.0" width="1.4" height="356.2" fill="url(#LD1)"/><rect x="805.30" y="14.0" width="1.4" height="356.2" fill="url(#LD1)"/><rect x="808.30" y="14.0" width="1.4" height="356.2" fill="url(#LD1)"/><rect x="810.80" y="14.0" width="1.4" height="356.2" fill="url(#LD1)"/><rect x="813.30" y="14.0" width="1.4" height="356.2" fill="url(#LD1)"/><rect x="816.20" y="14.0" width="1.4" height="356.2" fill="url(#LD1)"/><rect x="819.30" y="14.0" width="1.4" height="356.2" fill="url(#LD1)"/><rect x="822.30" y="14.0" width="1.4" height="356.2" fill="url(#LD1)"/><rect x="824.80" y="14.0" width="1.4" height="356.2" fill="url(#LD1)"/><rect x="828.30" y="14.0" width="1.4" height="356.2" fill="url(#LD1)"/><rect x="831.80" y="14.0" width="1.4" height="356.2" fill="url(#LD1)"/><rect x="836.00" y="14.0" width="1.4" height="356.2" fill="url(#LD1)"/><rect x="838.80" y="14.0" width="1.4" height="356.2" fill="url(#LD1)"/><rect x="1107.00" y="14.0" width="1.4" height="356.2" fill="url(#LJ1)"/><rect x="1110.80" y="14.0" width="1.4" height="356.2" fill="url(#LJ1)"/><rect x="1115.10" y="14.0" width="1.4" height="356.2" fill="url(#LJ1)"/><rect x="1119.10" y="14.0" width="1.4" height="356.2" fill="url(#LJ1)"/><rect x="1123.20" y="14.0" width="1.4" height="356.2" fill="url(#LJ1)"/><rect x="1127.10" y="14.0" width="1.4" height="356.2" fill="url(#LJ1)"/><rect x="1130.90" y="14.0" width="1.4" height="356.2" fill="url(#LJ1)"/><rect x="1134.80" y="14.0" width="1.4" height="356.2" fill="url(#LJ1)"/><rect x="1138.20" y="14.0" width="1.4" height="356.2" fill="url(#LJ1)"/><rect x="1142.00" y="14.0" width="1.4" height="356.2" fill="url(#LJ1)"/><rect x="1145.90" y="14.0" width="1.4" height="356.2" fill="url(#LJ1)"/><rect x="1149.70" y="14.0" width="1.4" height="356.2" fill="url(#LJ1)"/><rect x="1153.60" y="14.0" width="1.4" height="356.2" fill="url(#LJ1)"/><rect x="1157.40" y="14.0" width="1.4" height="356.2" fill="url(#LJ1)"/><rect x="1160.80" y="14.0" width="1.4" height="356.2" fill="url(#LJ1)"/><rect x="401.70" y="14.0" width="1.4" height="356.2" fill="url(#LR8)"/><rect x="405.10" y="14.0" width="1.4" height="356.2" fill="url(#LR8)"/><rect x="409.00" y="14.0" width="1.4" height="356.2" fill="url(#LR8)"/><rect x="413.20" y="14.0" width="1.4" height="356.2" fill="url(#LR8)"/><rect x="417.10" y="14.0" width="1.4" height="356.2" fill="url(#LR8)"/><rect x="421.40" y="14.0" width="1.4" height="356.2" fill="url(#LR8)"/><rect x="425.20" y="14.0" width="1.4" height="356.2" fill="url(#LR8)"/><rect x="429.90" y="14.0" width="1.4" height="356.2" fill="url(#LR8)"/><rect x="433.70" y="14.0" width="1.4" height="356.2" fill="url(#LR8)"/><rect x="437.20" y="14.0" width="1.4" height="356.2" fill="url(#LR8)"/><rect x="440.60" y="14.0" width="1.4" height="356.2" fill="url(#LR8)"/><rect x="489" y="357.6" width="288" height="1.2" fill="#c01e00" opacity="0.45"/>
<line x1="134.5" y1="370.20" x2="145.5" y2="370.20" stroke="#262626" stroke-width="1.3"/>
<line x1="1258.5" y1="370.20" x2="1270" y2="370.20" stroke="#262626" stroke-width="1.3"/>
<text transform="translate(123.60,383.00) scale(0.97,1.03)" text-anchor="end" font-size="30" fill="#262626">0</text>
<line x1="134.5" y1="258.89" x2="145.5" y2="258.89" stroke="#262626" stroke-width="1.3"/>
<line x1="1258.5" y1="258.89" x2="1270" y2="258.89" stroke="#262626" stroke-width="1.3"/>
<text transform="translate(123.60,271.69) scale(0.97,1.03)" text-anchor="end" font-size="30" fill="#262626">10</text>
<line x1="134.5" y1="147.57" x2="145.5" y2="147.57" stroke="#262626" stroke-width="1.3"/>
<line x1="1258.5" y1="147.57" x2="1270" y2="147.57" stroke="#262626" stroke-width="1.3"/>
<text transform="translate(123.60,160.38) scale(0.97,1.03)" text-anchor="end" font-size="30" fill="#262626">20</text>
<line x1="134.5" y1="36.26" x2="145.5" y2="36.26" stroke="#262626" stroke-width="1.3"/>
<line x1="1258.5" y1="36.26" x2="1270" y2="36.26" stroke="#262626" stroke-width="1.3"/>
<text transform="translate(123.60,49.06) scale(0.97,1.03)" text-anchor="end" font-size="30" fill="#262626">30</text>
<line x1="331.08" y1="3" x2="331.08" y2="14" stroke="#262626" stroke-width="1.3"/>
<line x1="331.08" y1="370.2" x2="331.08" y2="381.5" stroke="#262626" stroke-width="1.3"/>
<line x1="516.57" y1="3" x2="516.57" y2="14" stroke="#262626" stroke-width="1.3"/>
<line x1="516.57" y1="370.2" x2="516.57" y2="381.5" stroke="#262626" stroke-width="1.3"/>
<line x1="702.05" y1="3" x2="702.05" y2="14" stroke="#262626" stroke-width="1.3"/>
<line x1="702.05" y1="370.2" x2="702.05" y2="381.5" stroke="#262626" stroke-width="1.3"/>
<line x1="887.53" y1="3" x2="887.53" y2="14" stroke="#262626" stroke-width="1.3"/>
<line x1="887.53" y1="370.2" x2="887.53" y2="381.5" stroke="#262626" stroke-width="1.3"/>
<line x1="1073.02" y1="3" x2="1073.02" y2="14" stroke="#262626" stroke-width="1.3"/>
<line x1="1073.02" y1="370.2" x2="1073.02" y2="381.5" stroke="#262626" stroke-width="1.3"/>
<text transform="translate(74.75,192.00) rotate(-90)" text-anchor="middle" font-size="33" fill="#262626">Frequency (kHz)</text>
<rect x="1277.5" y="364.33" width="37.5" height="6.17" fill="#00008f"/>
<rect x="1277.5" y="358.77" width="37.5" height="6.17" fill="#00009f"/>
<rect x="1277.5" y="353.20" width="37.5" height="6.17" fill="#0000af"/>
<rect x="1277.5" y="347.64" width="37.5" height="6.17" fill="#0000bf"/>
<rect x="1277.5" y="342.07" width="37.5" height="6.17" fill="#0000cf"/>
<rect x="1277.5" y="336.51" width="37.5" height="6.17" fill="#0000df"/>
<rect x="1277.5" y="330.94" width="37.5" height="6.17" fill="#0000ef"/>
<rect x="1277.5" y="325.37" width="37.5" height="6.17" fill="#0000ff"/>
<rect x="1277.5" y="319.81" width="37.5" height="6.17" fill="#0010ff"/>
<rect x="1277.5" y="314.24" width="37.5" height="6.17" fill="#0020ff"/>
<rect x="1277.5" y="308.68" width="37.5" height="6.17" fill="#0030ff"/>
<rect x="1277.5" y="303.11" width="37.5" height="6.17" fill="#0040ff"/>
<rect x="1277.5" y="297.55" width="37.5" height="6.17" fill="#0050ff"/>
<rect x="1277.5" y="291.98" width="37.5" height="6.17" fill="#0060ff"/>
<rect x="1277.5" y="286.42" width="37.5" height="6.17" fill="#0070ff"/>
<rect x="1277.5" y="280.85" width="37.5" height="6.17" fill="#0080ff"/>
<rect x="1277.5" y="275.28" width="37.5" height="6.17" fill="#008fff"/>
<rect x="1277.5" y="269.72" width="37.5" height="6.17" fill="#009fff"/>
<rect x="1277.5" y="264.15" width="37.5" height="6.17" fill="#00afff"/>
<rect x="1277.5" y="258.59" width="37.5" height="6.17" fill="#00bfff"/>
<rect x="1277.5" y="253.02" width="37.5" height="6.17" fill="#00cfff"/>
<rect x="1277.5" y="247.46" width="37.5" height="6.17" fill="#00dfff"/>
<rect x="1277.5" y="241.89" width="37.5" height="6.17" fill="#00efff"/>
<rect x="1277.5" y="236.32" width="37.5" height="6.17" fill="#00ffff"/>
<rect x="1277.5" y="230.76" width="37.5" height="6.17" fill="#10ffef"/>
<rect x="1277.5" y="225.19" width="37.5" height="6.17" fill="#20ffdf"/>
<rect x="1277.5" y="219.63" width="37.5" height="6.17" fill="#30ffcf"/>
<rect x="1277.5" y="214.06" width="37.5" height="6.17" fill="#40ffbf"/>
<rect x="1277.5" y="208.50" width="37.5" height="6.17" fill="#50ffaf"/>
<rect x="1277.5" y="202.93" width="37.5" height="6.17" fill="#60ff9f"/>
<rect x="1277.5" y="197.37" width="37.5" height="6.17" fill="#70ff8f"/>
<rect x="1277.5" y="191.80" width="37.5" height="6.17" fill="#80ff80"/>
<rect x="1277.5" y="186.23" width="37.5" height="6.17" fill="#8fff70"/>
<rect x="1277.5" y="180.67" width="37.5" height="6.17" fill="#9fff60"/>
<rect x="1277.5" y="175.10" width="37.5" height="6.17" fill="#afff50"/>
<rect x="1277.5" y="169.54" width="37.5" height="6.17" fill="#bfff40"/>
<rect x="1277.5" y="163.97" width="37.5" height="6.17" fill="#cfff30"/>
<rect x="1277.5" y="158.41" width="37.5" height="6.17" fill="#dfff20"/>
<rect x="1277.5" y="152.84" width="37.5" height="6.17" fill="#efff10"/>
<rect x="1277.5" y="147.27" width="37.5" height="6.17" fill="#ffff00"/>
<rect x="1277.5" y="141.71" width="37.5" height="6.17" fill="#ffef00"/>
<rect x="1277.5" y="136.14" width="37.5" height="6.17" fill="#ffdf00"/>
<rect x="1277.5" y="130.58" width="37.5" height="6.17" fill="#ffcf00"/>
<rect x="1277.5" y="125.01" width="37.5" height="6.17" fill="#ffbf00"/>
<rect x="1277.5" y="119.45" width="37.5" height="6.17" fill="#ffaf00"/>
<rect x="1277.5" y="113.88" width="37.5" height="6.17" fill="#ff9f00"/>
<rect x="1277.5" y="108.32" width="37.5" height="6.17" fill="#ff8f00"/>
<rect x="1277.5" y="102.75" width="37.5" height="6.17" fill="#ff8000"/>
<rect x="1277.5" y="97.18" width="37.5" height="6.17" fill="#ff7000"/>
<rect x="1277.5" y="91.62" width="37.5" height="6.17" fill="#ff6000"/>
<rect x="1277.5" y="86.05" width="37.5" height="6.17" fill="#ff5000"/>
<rect x="1277.5" y="80.49" width="37.5" height="6.17" fill="#ff4000"/>
<rect x="1277.5" y="74.92" width="37.5" height="6.17" fill="#ff3000"/>
<rect x="1277.5" y="69.36" width="37.5" height="6.17" fill="#ff2000"/>
<rect x="1277.5" y="63.79" width="37.5" height="6.17" fill="#ff1000"/>
<rect x="1277.5" y="58.22" width="37.5" height="6.17" fill="#ff0000"/>
<rect x="1277.5" y="52.66" width="37.5" height="6.17" fill="#ef0000"/>
<rect x="1277.5" y="47.09" width="37.5" height="6.17" fill="#df0000"/>
<rect x="1277.5" y="41.53" width="37.5" height="6.17" fill="#cf0000"/>
<rect x="1277.5" y="35.96" width="37.5" height="6.17" fill="#bf0000"/>
<rect x="1277.5" y="30.40" width="37.5" height="6.17" fill="#af0000"/>
<rect x="1277.5" y="24.83" width="37.5" height="6.17" fill="#9f0000"/>
<rect x="1277.5" y="19.27" width="37.5" height="6.17" fill="#8f0000"/>
<rect x="1277.5" y="13.70" width="37.5" height="6.17" fill="#800000"/>
<rect x="1277.5" y="14" width="37.5" height="356.2" fill="none" stroke="#262626" stroke-width="1.3"/>
<text transform="translate(1325.80,381.20) scale(0.98,1.06)" font-size="27" fill="#262626">40</text>
<line x1="1310" y1="281.15" x2="1315" y2="281.15" stroke="#262626" stroke-width="1"/>
<text transform="translate(1325.80,292.15) scale(0.98,1.06)" font-size="27" fill="#262626">60</text>
<line x1="1310" y1="192.10" x2="1315" y2="192.10" stroke="#262626" stroke-width="1"/>
<text transform="translate(1325.80,203.10) scale(0.98,1.06)" font-size="27" fill="#262626">80</text>
<line x1="1310" y1="103.05" x2="1315" y2="103.05" stroke="#262626" stroke-width="1"/>
<text transform="translate(1325.80,114.05) scale(0.98,1.06)" font-size="27" fill="#262626">100</text>
<text transform="translate(1325.80,25.00) scale(0.98,1.06)" font-size="27" fill="#262626">120</text>
<text transform="translate(1414,192) rotate(-90) scale(1.045,1.02)" text-anchor="middle" font-size="27" fill="#262626">dB re 1 <tspan font-family="Liberation Serif" font-style="italic">μ</tspan>Pa<tspan dy="-11" font-size="19">2</tspan><tspan dy="11">/Hz</tspan></text>
<line x1="331.08" y1="509.5" x2="331.08" y2="865.75" stroke="#dfdfdf" stroke-width="1"/>
<line x1="516.57" y1="509.5" x2="516.57" y2="865.75" stroke="#dfdfdf" stroke-width="1"/>
<line x1="702.05" y1="509.5" x2="702.05" y2="865.75" stroke="#dfdfdf" stroke-width="1"/>
<line x1="887.53" y1="509.5" x2="887.53" y2="865.75" stroke="#dfdfdf" stroke-width="1"/>
<line x1="1073.02" y1="509.5" x2="1073.02" y2="865.75" stroke="#dfdfdf" stroke-width="1"/>
<line x1="146" y1="747.00" x2="1258.5" y2="747.00" stroke="#d6e4f0" stroke-width="1"/>
<line x1="146" y1="628.25" x2="1258.5" y2="628.25" stroke="#d6e4f0" stroke-width="1"/>
<line x1="146" y1="509.5" x2="1258.5" y2="509.5" stroke="#262626" stroke-width="1.2"/>
<line x1="146" y1="865.75" x2="1258.5" y2="865.75" stroke="#262626" stroke-width="1.2"/>
<line x1="145.60" y1="865.75" x2="145.60" y2="854.7" stroke="#262626" stroke-width="1.2"/>
<line x1="145.60" y1="509.5" x2="145.60" y2="520.5" stroke="#262626" stroke-width="1.2"/>
<text transform="translate(145.60,907.20) scale(0.97,1.03)" text-anchor="middle" font-size="30" fill="#262626">0</text>
<line x1="331.08" y1="865.75" x2="331.08" y2="854.7" stroke="#262626" stroke-width="1.2"/>
<line x1="331.08" y1="509.5" x2="331.08" y2="520.5" stroke="#262626" stroke-width="1.2"/>
<text transform="translate(331.08,907.20) scale(0.97,1.03)" text-anchor="middle" font-size="30" fill="#262626">100</text>
<line x1="516.57" y1="865.75" x2="516.57" y2="854.7" stroke="#262626" stroke-width="1.2"/>
<line x1="516.57" y1="509.5" x2="516.57" y2="520.5" stroke="#262626" stroke-width="1.2"/>
<text transform="translate(516.57,907.20) scale(0.97,1.03)" text-anchor="middle" font-size="30" fill="#262626">200</text>
<line x1="702.05" y1="865.75" x2="702.05" y2="854.7" stroke="#262626" stroke-width="1.2"/>
<line x1="702.05" y1="509.5" x2="702.05" y2="520.5" stroke="#262626" stroke-width="1.2"/>
<text transform="translate(702.05,907.20) scale(0.97,1.03)" text-anchor="middle" font-size="30" fill="#262626">300</text>
<line x1="887.53" y1="865.75" x2="887.53" y2="854.7" stroke="#262626" stroke-width="1.2"/>
<line x1="887.53" y1="509.5" x2="887.53" y2="520.5" stroke="#262626" stroke-width="1.2"/>
<text transform="translate(887.53,907.20) scale(0.97,1.03)" text-anchor="middle" font-size="30" fill="#262626">400</text>
<line x1="1073.02" y1="865.75" x2="1073.02" y2="854.7" stroke="#262626" stroke-width="1.2"/>
<line x1="1073.02" y1="509.5" x2="1073.02" y2="520.5" stroke="#262626" stroke-width="1.2"/>
<text transform="translate(1073.02,907.20) scale(0.97,1.03)" text-anchor="middle" font-size="30" fill="#262626">500</text>
<line x1="1258.50" y1="865.75" x2="1258.50" y2="854.7" stroke="#262626" stroke-width="1.2"/>
<line x1="1258.50" y1="509.5" x2="1258.50" y2="520.5" stroke="#262626" stroke-width="1.2"/>
<text transform="translate(1258.50,907.20) scale(0.97,1.03)" text-anchor="middle" font-size="30" fill="#262626">600</text>
<text transform="translate(702.30,949.60) scale(1.03,1.06)" text-anchor="middle" font-size="33" fill="#262626">Time (s)</text>
<line x1="146.1" y1="509.5" x2="146.1" y2="865.75" stroke="#0072BD" stroke-width="1.1"/>
<line x1="1258.4" y1="509.5" x2="1258.4" y2="865.75" stroke="#D95319" stroke-width="1.3"/>
<line x1="146" y1="865.75" x2="157" y2="865.75" stroke="#0072BD" stroke-width="1.3"/>
<line x1="1247.4" y1="865.75" x2="1258.5" y2="865.75" stroke="#D95319" stroke-width="1.3"/>
<text transform="translate(134.30,878.65) scale(0.97,1.03)" text-anchor="end" font-size="30" fill="#0072BD">80</text>
<text transform="translate(1269.00,878.65) scale(0.97,1.03)" font-size="30" fill="#D95319">80</text>
<line x1="146" y1="747.00" x2="157" y2="747.00" stroke="#0072BD" stroke-width="1.3"/>
<line x1="1247.4" y1="747.00" x2="1258.5" y2="747.00" stroke="#D95319" stroke-width="1.3"/>
<text transform="translate(134.30,759.90) scale(0.97,1.03)" text-anchor="end" font-size="30" fill="#0072BD">100</text>
<text transform="translate(1269.00,759.90) scale(0.97,1.03)" font-size="30" fill="#D95319">100</text>
<line x1="146" y1="628.25" x2="157" y2="628.25" stroke="#0072BD" stroke-width="1.3"/>
<line x1="1247.4" y1="628.25" x2="1258.5" y2="628.25" stroke="#D95319" stroke-width="1.3"/>
<text transform="translate(134.30,641.15) scale(0.97,1.03)" text-anchor="end" font-size="30" fill="#0072BD">120</text>
<text transform="translate(1269.00,641.15) scale(0.97,1.03)" font-size="30" fill="#D95319">120</text>
<line x1="146" y1="509.50" x2="157" y2="509.50" stroke="#0072BD" stroke-width="1.3"/>
<line x1="1247.4" y1="509.50" x2="1258.5" y2="509.50" stroke="#D95319" stroke-width="1.3"/>
<text transform="translate(134.30,522.40) scale(0.97,1.03)" text-anchor="end" font-size="30" fill="#0072BD">140</text>
<text transform="translate(1269.00,522.40) scale(0.97,1.03)" font-size="30" fill="#D95319">140</text>
<text transform="translate(27.6,688) rotate(-90) scale(1.0,1.0)" text-anchor="middle" font-size="33" fill="#0072BD">2 kHz decidecade band level</text>
<text transform="translate(69.4,688) rotate(-90) scale(1.0,1.0)" text-anchor="middle" font-size="33" fill="#0072BD" xml:space="preserve">(dB re 1 <tspan font-family="Liberation Serif" font-style="italic" font-size="38" dx="4">μ</tspan><tspan dx="2.5">Pa</tspan> RMS)</text>
<text transform="translate(1360.9,688) rotate(-90) scale(1.0,1.0)" text-anchor="middle" font-size="33" fill="#D95319">Broadband weighted SPL</text>
<text transform="translate(1402.5,688) rotate(-90) scale(1.0,1.0)" text-anchor="middle" font-size="33" fill="#D95319" xml:space="preserve">(dB re 1 <tspan font-family="Liberation Serif" font-style="italic" font-size="38" dx="4">μ</tspan><tspan dx="2.5">Pa</tspan> RMS)</text>
<path d="M146.00 763.9H159.30M172.72 763.9H186.02M199.44 763.9H212.74M226.16 763.9H239.46M252.88 763.9H266.18M279.60 763.9H292.90M306.32 763.9H319.62M333.04 763.9H346.34M359.76 763.9H373.06M386.48 763.9H399.78M413.20 763.9H426.50M439.92 763.9H453.22M466.64 763.9H479.94M493.36 763.9H506.66M520.08 763.9H533.38M546.80 763.9H560.10M569.20 763.9H576.80M590.30 763.9H603.60M617.07 763.9H630.37M643.84 763.9H657.14M670.61 763.9H683.91M697.38 763.9H710.68M724.15 763.9H737.45M750.92 763.9H764.22M777.69 763.9H790.99M804.46 763.9H817.76M831.23 763.9H844.53M858.00 763.9H871.30M884.77 763.9H898.07M911.54 763.9H924.84M938.31 763.9H951.61M965.08 763.9H978.38M991.85 763.9H1005.15M1018.62 763.9H1031.92M1045.39 763.9H1058.69M1072.16 763.9H1085.46M1098.93 763.9H1112.23M1125.70 763.9H1139.00M1152.47 763.9H1165.77M1179.24 763.9H1192.54M1196.60 763.9H1206.20M1219.90 763.9H1233.20M1246.80 763.9H1258.40" stroke="#f34545" stroke-width="3.2" fill="none"/>
<polyline points="173.42,747.70 229.07,716.10 284.71,753.50 340.36,689.10 507.29,623.90 562.94,639.50 618.58,627.90 674.23,578.30 729.87,534.40 896.81,699.80 952.45,694.50 1008.10,692.20 1063.74,755.00 1230.68,708.40" fill="none" stroke="#D95319" stroke-width="4.6" stroke-linejoin="round"/>
<circle cx="173.42" cy="747.70" r="6.7" fill="#D95319"/>
<circle cx="229.07" cy="716.10" r="6.7" fill="#D95319"/>
<circle cx="284.71" cy="753.50" r="6.7" fill="#D95319"/>
<circle cx="340.36" cy="689.10" r="6.7" fill="#D95319"/>
<circle cx="507.29" cy="623.90" r="6.7" fill="#D95319"/>
<circle cx="562.94" cy="639.50" r="6.7" fill="#D95319"/>
<circle cx="618.58" cy="627.90" r="6.7" fill="#D95319"/>
<circle cx="674.23" cy="578.30" r="6.7" fill="#D95319"/>
<circle cx="729.87" cy="534.40" r="6.7" fill="#D95319"/>
<circle cx="896.81" cy="699.80" r="6.7" fill="#D95319"/>
<circle cx="952.45" cy="694.50" r="6.7" fill="#D95319"/>
<circle cx="1008.10" cy="692.20" r="6.7" fill="#D95319"/>
<circle cx="1063.74" cy="755.00" r="6.7" fill="#D95319"/>
<circle cx="1230.68" cy="708.40" r="6.7" fill="#D95319"/>
<polyline points="173.42,798.20 229.07,795.20 284.71,824.00 340.36,774.40 507.29,691.00 562.94,700.00 618.58,684.40 674.23,633.20 729.87,587.60 896.81,749.10 952.45,756.30 1008.10,771.50 1063.74,815.20 1230.68,785.40" fill="none" stroke="#0072BD" stroke-width="4.6" stroke-linejoin="round"/>
<circle cx="173.42" cy="798.20" r="6.7" fill="#0072BD"/>
<circle cx="229.07" cy="795.20" r="6.7" fill="#0072BD"/>
<circle cx="284.71" cy="824.00" r="6.7" fill="#0072BD"/>
<circle cx="340.36" cy="774.40" r="6.7" fill="#0072BD"/>
<circle cx="507.29" cy="691.00" r="6.7" fill="#0072BD"/>
<circle cx="562.94" cy="700.00" r="6.7" fill="#0072BD"/>
<circle cx="618.58" cy="684.40" r="6.7" fill="#0072BD"/>
<circle cx="674.23" cy="633.20" r="6.7" fill="#0072BD"/>
<circle cx="729.87" cy="587.60" r="6.7" fill="#0072BD"/>
<circle cx="896.81" cy="749.10" r="6.7" fill="#0072BD"/>
<circle cx="952.45" cy="756.30" r="6.7" fill="#0072BD"/>
<circle cx="1008.10" cy="771.50" r="6.7" fill="#0072BD"/>
<circle cx="1063.74" cy="815.20" r="6.7" fill="#0072BD"/>
<circle cx="1230.68" cy="785.40" r="6.7" fill="#0072BD"/></svg>
</body></html>
